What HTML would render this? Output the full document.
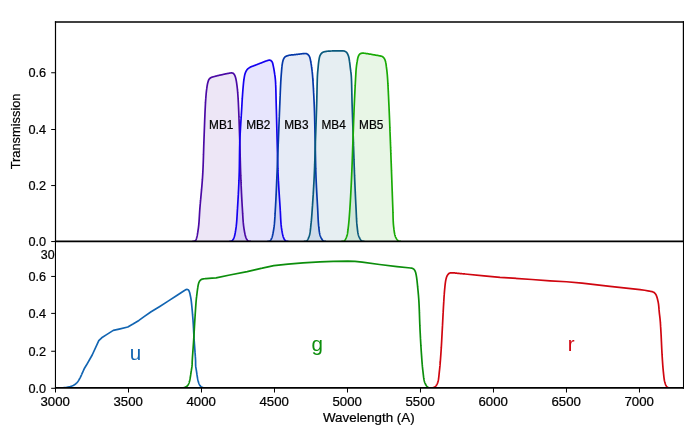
<!DOCTYPE html><html><head><meta charset="utf-8"><style>html,body{margin:0;padding:0;background:#fff}svg{display:block}</style></head><body><svg width="690" height="431" viewBox="0 0 690 431" font-family="Liberation Sans, sans-serif">
<rect width="690" height="431" fill="#fff"/>
<g style="will-change:transform">
<clipPath id="ct"><rect x="55.50" y="21.90" width="627.90" height="219.40"/></clipPath>
<g clip-path="url(#ct)">
<path d="M192.35 241.30L192.76 241.30L193.17 241.30L193.59 241.30L193.98 241.30L194.35 241.30L194.71 241.25L195.05 240.99L195.36 240.66L195.66 240.25L195.95 239.75L196.06 239.53L196.17 239.29L196.27 239.02L196.37 238.74L196.47 238.45L196.57 238.13L196.66 237.81L196.76 237.46L196.85 237.10L196.94 236.73L197.02 236.35L197.11 235.96L197.19 235.55L197.28 235.14L197.36 234.72L197.43 234.28L197.51 233.85L197.59 233.40L197.66 232.95L197.74 232.50L197.81 232.04L197.88 231.58L197.95 231.12L198.02 230.65L198.09 230.19L198.15 229.73L198.22 229.27L198.28 228.81L198.35 228.35L198.40 228.01L198.44 227.67L198.49 227.32L198.53 226.97L198.57 226.62L198.61 226.26L198.65 225.90L198.69 225.54L198.73 225.18L198.77 224.81L198.80 224.45L198.83 224.07L198.87 223.70L198.90 223.32L198.93 222.95L198.96 222.56L198.99 222.18L199.02 221.79L199.05 221.41L199.08 221.02L199.10 220.62L199.13 220.23L199.16 219.83L199.18 219.43L199.21 219.03L199.23 218.63L199.26 218.22L199.28 217.81L199.31 217.40L199.33 216.99L199.36 216.58L199.38 216.16L199.41 215.75L199.43 215.33L199.46 214.91L199.48 214.49L199.51 214.06L199.53 213.64L199.56 213.21L199.58 212.78L199.61 212.35L199.64 211.92L199.67 211.49L199.69 211.06L199.72 210.62L199.75 210.19L199.78 209.75L199.82 209.31L199.85 208.87L199.88 208.43L199.91 207.99L199.95 207.55L199.98 207.19L200.01 206.83L200.04 206.47L200.07 206.11L200.10 205.74L200.13 205.37L200.16 205.01L200.19 204.63L200.23 204.26L200.26 203.89L200.29 203.51L200.33 203.14L200.36 202.76L200.39 202.38L200.43 202.00L200.46 201.61L200.50 201.23L200.53 200.84L200.57 200.46L200.60 200.07L200.64 199.68L200.67 199.29L200.71 198.89L200.75 198.50L200.78 198.11L200.82 197.71L200.86 197.31L200.89 196.92L200.93 196.52L200.97 196.12L201.00 195.72L201.04 195.31L201.08 194.91L201.12 194.51L201.15 194.10L201.19 193.70L201.23 193.29L201.26 192.89L201.30 192.48L201.34 192.07L201.38 191.66L201.41 191.25L201.45 190.84L201.49 190.43L201.52 190.02L201.56 189.61L201.60 189.20L201.63 188.79L201.67 188.37L201.71 187.96L201.74 187.55L201.78 187.13L201.81 186.72L201.85 186.30L201.88 185.89L201.92 185.47L201.95 185.06L201.99 184.65L202.02 184.23L202.06 183.81L202.09 183.40L202.12 182.98L202.16 182.57L202.19 182.15L202.22 181.74L202.25 181.32L202.28 180.91L202.31 180.50L202.35 180.08L202.38 179.67L202.40 179.25L202.43 178.84L202.46 178.43L202.49 178.02L202.52 177.60L202.55 177.19L202.57 176.78L202.60 176.37L202.62 175.96L202.65 175.55L202.67 175.16L202.70 174.76L202.72 174.37L202.74 173.97L202.76 173.58L202.79 173.18L202.81 172.78L202.83 172.38L202.85 171.99L202.87 171.59L202.89 171.19L202.91 170.79L202.93 170.39L202.95 169.99L202.97 169.58L202.98 169.18L203.00 168.78L203.02 168.38L203.04 167.97L203.06 167.57L203.07 167.17L203.09 166.76L203.11 166.36L203.12 165.95L203.14 165.55L203.15 165.14L203.17 164.74L203.18 164.33L203.20 163.92L203.21 163.52L203.23 163.11L203.24 162.70L203.26 162.30L203.27 161.89L203.29 161.48L203.30 161.08L203.31 160.67L203.33 160.26L203.34 159.85L203.35 159.45L203.37 159.04L203.38 158.63L203.39 158.22L203.41 157.81L203.42 157.41L203.43 157.00L203.44 156.59L203.46 156.18L203.47 155.78L203.48 155.37L203.49 154.96L203.50 154.56L203.52 154.15L203.53 153.74L203.54 153.34L203.55 152.93L203.56 152.52L203.58 152.12L203.59 151.71L203.60 151.31L203.61 150.90L203.62 150.50L203.64 150.10L203.65 149.69L203.66 149.29L203.67 148.89L203.68 148.48L203.70 148.08L203.71 147.68L203.72 147.28L203.73 146.88L203.75 146.48L203.76 146.08L203.77 145.68L203.78 145.28L203.80 144.88L203.81 144.49L203.82 144.09L203.84 143.69L203.85 143.30L203.86 142.90L203.88 142.51L203.89 142.12L203.91 141.72L203.92 141.33L203.94 140.94L203.95 140.55L203.97 140.13L203.98 139.72L204.00 139.30L204.01 138.88L204.03 138.46L204.04 138.03L204.06 137.61L204.08 137.18L204.09 136.75L204.11 136.33L204.12 135.90L204.14 135.47L204.16 135.04L204.17 134.60L204.19 134.17L204.20 133.74L204.22 133.31L204.23 132.87L204.25 132.44L204.27 132.00L204.28 131.57L204.30 131.13L204.31 130.70L204.33 130.27L204.34 129.83L204.36 129.40L204.38 128.96L204.39 128.53L204.41 128.10L204.42 127.67L204.44 127.23L204.46 126.80L204.47 126.37L204.49 125.95L204.50 125.52L204.52 125.09L204.53 124.67L204.55 124.24L204.57 123.82L204.58 123.40L204.60 122.98L204.61 122.56L204.63 122.14L204.64 121.73L204.66 121.31L204.67 120.90L204.69 120.49L204.71 120.08L204.72 119.68L204.74 119.28L204.75 118.88L204.77 118.48L204.78 118.08L204.80 117.69L204.81 117.30L204.83 116.91L204.85 116.53L204.86 116.14L204.88 115.77L204.89 115.39L204.91 115.02L204.92 114.65L204.94 114.28L204.95 113.92L204.97 113.56L204.98 113.20L205.00 112.85L205.01 112.50L205.03 112.16L205.04 111.82L205.06 111.48L205.07 111.15L205.09 110.82L205.10 110.50L205.12 110.18L205.14 109.86L205.15 109.55L205.17 109.06L205.20 108.58L205.22 108.11L205.24 107.65L205.27 107.20L205.29 106.76L205.31 106.32L205.33 105.89L205.35 105.47L205.38 105.05L205.40 104.64L205.42 104.24L205.44 103.84L205.46 103.45L205.48 103.06L205.51 102.67L205.53 102.29L205.55 101.92L205.57 101.54L205.60 101.17L205.62 100.81L205.64 100.44L205.67 100.08L205.69 99.71L205.72 99.35L205.74 98.99L205.77 98.63L205.79 98.27L205.82 97.91L205.85 97.55L205.88 97.10L205.92 96.66L205.95 96.23L205.99 95.79L206.03 95.37L206.06 94.94L206.10 94.52L206.13 94.11L206.17 93.70L206.21 93.29L206.25 92.89L206.29 92.48L206.33 92.08L206.37 91.69L206.41 91.29L206.46 90.90L206.50 90.51L206.55 90.12L206.60 89.74L206.65 89.35L206.71 88.92L206.76 88.49L206.82 88.05L206.88 87.62L206.94 87.20L207.00 86.77L207.06 86.35L207.13 85.93L207.19 85.52L207.26 85.11L207.34 84.71L207.41 84.32L207.49 83.94L207.57 83.56L207.66 83.20L207.75 82.85L207.88 82.38L208.01 81.91L208.14 81.46L208.27 81.02L208.42 80.60L208.58 80.20L208.75 79.82L208.94 79.47L209.15 79.15L209.43 78.80L209.73 78.50L210.05 78.23L210.40 77.99L210.76 77.76L211.15 77.55L211.49 77.38L211.85 77.24L212.21 77.12L212.59 77.01L213.00 76.90L213.42 76.79L213.87 76.68L214.35 76.55L214.66 76.47L214.99 76.38L215.33 76.29L215.69 76.19L216.06 76.10L216.44 76.00L216.84 75.90L217.24 75.80L217.65 75.70L218.06 75.60L218.48 75.50L218.90 75.39L219.33 75.29L219.75 75.19L220.17 75.10L220.58 75.00L220.99 74.90L221.40 74.81L221.79 74.72L222.18 74.63L222.55 74.55L222.98 74.46L223.40 74.36L223.83 74.27L224.26 74.17L224.69 74.08L225.11 73.99L225.54 73.90L225.95 73.81L226.36 73.72L226.76 73.64L227.16 73.57L227.54 73.49L227.91 73.42L228.27 73.36L228.62 73.30L228.95 73.25L229.43 73.17L229.89 73.10L230.32 73.03L230.73 72.97L231.12 72.93L231.49 72.92L231.85 72.95L232.30 73.03L232.71 73.15L233.10 73.32L233.45 73.55L233.80 73.86L234.10 74.23L234.38 74.67L234.65 75.15L234.81 75.47L234.96 75.81L235.10 76.17L235.23 76.55L235.36 76.95L235.49 77.37L235.61 77.81L235.73 78.27L235.85 78.75L235.93 79.08L236.01 79.43L236.08 79.78L236.15 80.15L236.23 80.53L236.30 80.92L236.37 81.32L236.43 81.73L236.50 82.15L236.57 82.57L236.63 82.99L236.69 83.43L236.75 83.86L236.81 84.30L236.87 84.74L236.93 85.19L236.99 85.63L237.04 86.07L237.10 86.51L237.15 86.95L237.20 87.33L237.24 87.72L237.28 88.11L237.33 88.50L237.37 88.89L237.41 89.29L237.44 89.69L237.48 90.09L237.52 90.49L237.56 90.89L237.59 91.30L237.62 91.71L237.66 92.12L237.69 92.53L237.72 92.95L237.76 93.36L237.79 93.78L237.82 94.19L237.85 94.61L237.88 95.03L237.91 95.45L237.94 95.87L237.96 96.29L237.99 96.71L238.02 97.13L238.05 97.55L238.08 97.94L238.10 98.32L238.12 98.69L238.15 99.07L238.17 99.44L238.19 99.81L238.21 100.18L238.23 100.55L238.25 100.92L238.27 101.29L238.29 101.66L238.31 102.03L238.33 102.40L238.35 102.77L238.37 103.15L238.39 103.53L238.41 103.92L238.42 104.31L238.44 104.71L238.46 105.11L238.48 105.51L238.49 105.93L238.51 106.35L238.53 106.78L238.55 107.22L238.57 107.66L238.59 108.12L238.61 108.59L238.63 109.06L238.65 109.55L238.66 109.86L238.68 110.18L238.69 110.50L238.70 110.82L238.72 111.15L238.73 111.48L238.74 111.82L238.76 112.16L238.77 112.50L238.79 112.85L238.80 113.20L238.81 113.56L238.83 113.92L238.84 114.28L238.86 114.65L238.87 115.02L238.88 115.39L238.90 115.77L238.91 116.14L238.93 116.53L238.94 116.91L238.96 117.30L238.97 117.69L238.99 118.08L239.00 118.48L239.01 118.88L239.03 119.28L239.04 119.68L239.06 120.08L239.07 120.49L239.09 120.90L239.10 121.31L239.12 121.73L239.13 122.14L239.15 122.56L239.16 122.98L239.18 123.40L239.19 123.82L239.21 124.24L239.22 124.67L239.24 125.09L239.25 125.52L239.27 125.95L239.28 126.37L239.30 126.80L239.31 127.23L239.32 127.67L239.34 128.10L239.35 128.53L239.37 128.96L239.38 129.40L239.40 129.83L239.41 130.27L239.43 130.70L239.44 131.13L239.46 131.57L239.47 132.00L239.49 132.44L239.50 132.87L239.51 133.31L239.53 133.74L239.54 134.17L239.56 134.60L239.57 135.04L239.59 135.47L239.60 135.90L239.61 136.33L239.63 136.75L239.64 137.18L239.66 137.61L239.67 138.03L239.68 138.46L239.70 138.88L239.71 139.30L239.72 139.72L239.74 140.13L239.75 140.55L239.76 140.94L239.77 141.33L239.79 141.72L239.80 142.12L239.81 142.51L239.82 142.90L239.83 143.30L239.85 143.69L239.86 144.09L239.87 144.49L239.88 144.88L239.89 145.28L239.90 145.68L239.91 146.08L239.92 146.48L239.94 146.88L239.95 147.28L239.96 147.68L239.97 148.08L239.98 148.48L239.99 148.89L240.00 149.29L240.01 149.69L240.02 150.09L240.03 150.50L240.04 150.90L240.05 151.31L240.06 151.71L240.07 152.12L240.08 152.52L240.09 152.93L240.10 153.33L240.11 153.74L240.12 154.15L240.13 154.55L240.14 154.96L240.15 155.37L240.16 155.77L240.17 156.18L240.19 156.59L240.20 157.00L240.21 157.40L240.22 157.81L240.23 158.22L240.24 158.63L240.25 159.04L240.26 159.44L240.27 159.85L240.28 160.26L240.29 160.67L240.30 161.07L240.31 161.48L240.32 161.89L240.33 162.29L240.34 162.70L240.35 163.11L240.37 163.52L240.38 163.92L240.39 164.33L240.40 164.73L240.41 165.14L240.42 165.55L240.43 165.95L240.44 166.36L240.46 166.76L240.47 167.16L240.48 167.57L240.49 167.97L240.50 168.38L240.52 168.78L240.53 169.18L240.54 169.58L240.56 169.98L240.57 170.39L240.58 170.79L240.59 171.19L240.61 171.59L240.62 171.98L240.63 172.38L240.65 172.78L240.66 173.18L240.68 173.58L240.69 173.97L240.71 174.37L240.72 174.76L240.73 175.16L240.75 175.55L240.77 175.96L240.78 176.37L240.80 176.78L240.81 177.19L240.83 177.60L240.85 178.01L240.86 178.43L240.88 178.84L240.90 179.25L240.91 179.67L240.93 180.08L240.95 180.49L240.96 180.91L240.98 181.32L241.00 181.74L241.01 182.15L241.03 182.57L241.05 182.98L241.07 183.40L241.08 183.81L241.10 184.23L241.12 184.64L241.14 185.06L241.16 185.47L241.17 185.89L241.19 186.30L241.21 186.72L241.23 187.13L241.25 187.55L241.26 187.96L241.28 188.37L241.30 188.78L241.32 189.20L241.34 189.61L241.36 190.02L241.38 190.43L241.40 190.84L241.42 191.25L241.44 191.66L241.45 192.07L241.47 192.48L241.49 192.89L241.51 193.29L241.53 193.70L241.55 194.10L241.57 194.51L241.59 194.91L241.61 195.32L241.63 195.72L241.65 196.12L241.67 196.52L241.69 196.92L241.71 197.31L241.74 197.71L241.76 198.11L241.78 198.50L241.80 198.90L241.82 199.29L241.84 199.68L241.86 200.07L241.88 200.46L241.90 200.84L241.92 201.23L241.95 201.61L241.97 202.00L241.99 202.38L242.01 202.76L242.03 203.14L242.05 203.51L242.08 203.89L242.10 204.26L242.12 204.64L242.14 205.01L242.16 205.37L242.19 205.74L242.21 206.11L242.23 206.47L242.25 206.83L242.28 207.19L242.30 207.55L242.33 207.99L242.36 208.43L242.38 208.88L242.41 209.32L242.44 209.76L242.46 210.20L242.49 210.63L242.51 211.07L242.54 211.51L242.56 211.94L242.59 212.37L242.61 212.81L242.64 213.24L242.66 213.67L242.69 214.09L242.71 214.52L242.74 214.95L242.76 215.37L242.79 215.79L242.81 216.21L242.84 216.63L242.86 217.04L242.89 217.46L242.91 217.87L242.94 218.28L242.97 218.69L243.00 219.09L243.02 219.50L243.05 219.90L243.08 220.30L243.11 220.69L243.14 221.09L243.17 221.48L243.21 221.87L243.24 222.25L243.27 222.64L243.31 223.02L243.34 223.39L243.38 223.77L243.42 224.14L243.45 224.51L243.49 224.88L243.53 225.24L243.57 225.60L243.62 225.95L243.66 226.31L243.71 226.66L243.75 227.00L243.80 227.34L243.85 227.68L243.90 228.02L243.95 228.35L244.03 228.82L244.10 229.29L244.18 229.76L244.25 230.23L244.33 230.70L244.41 231.16L244.49 231.62L244.57 232.07L244.65 232.52L244.73 232.96L244.82 233.40L244.91 233.83L245.00 234.25L245.09 234.66L245.19 235.07L245.28 235.46L245.38 235.85L245.49 236.22L245.60 236.59L245.71 236.94L245.82 237.27L245.94 237.60L246.06 237.91L246.19 238.20L246.32 238.49L246.45 238.75L246.71 239.21L246.99 239.63L247.28 240.02L247.58 240.36L247.89 240.67L248.21 240.94L248.53 241.16L248.85 241.30L249.26 241.30L249.67 241.30L250.10 241.30L250.53 241.30L250.95 241.30Z" fill="#4b0aa5" fill-opacity="0.1" stroke="none"/>
<path d="M229.35 241.30L229.80 241.30L230.25 241.30L230.70 241.30L231.15 241.30L231.46 241.17L231.78 240.94L232.09 240.68L232.40 240.37L232.71 240.02L233.01 239.64L233.29 239.21L233.55 238.75L233.68 238.49L233.81 238.20L233.93 237.91L234.05 237.60L234.17 237.27L234.28 236.94L234.39 236.59L234.49 236.22L234.59 235.85L234.68 235.46L234.78 235.07L234.87 234.66L234.96 234.25L235.04 233.83L235.12 233.40L235.21 232.96L235.28 232.52L235.36 232.07L235.44 231.62L235.51 231.16L235.59 230.70L235.66 230.23L235.73 229.76L235.81 229.29L235.88 228.82L235.95 228.35L236.00 228.02L236.05 227.68L236.10 227.34L236.14 227.00L236.19 226.66L236.23 226.31L236.27 225.95L236.31 225.60L236.35 225.24L236.39 224.87L236.43 224.51L236.46 224.14L236.50 223.77L236.54 223.39L236.57 223.02L236.60 222.64L236.63 222.25L236.67 221.87L236.70 221.48L236.73 221.09L236.76 220.69L236.79 220.30L236.81 219.90L236.84 219.50L236.87 219.09L236.90 218.69L236.92 218.28L236.95 217.87L236.97 217.46L237.00 217.04L237.02 216.63L237.05 216.21L237.07 215.79L237.10 215.37L237.12 214.94L237.15 214.52L237.17 214.09L237.19 213.67L237.22 213.24L237.24 212.81L237.27 212.37L237.29 211.94L237.31 211.51L237.34 211.07L237.36 210.63L237.39 210.20L237.42 209.76L237.44 209.32L237.47 208.88L237.49 208.43L237.52 207.99L237.55 207.55L237.57 207.19L237.60 206.83L237.62 206.47L237.64 206.11L237.66 205.74L237.69 205.37L237.71 205.01L237.73 204.64L237.75 204.26L237.78 203.89L237.80 203.51L237.82 203.14L237.84 202.76L237.87 202.38L237.89 202.00L237.91 201.61L237.93 201.23L237.96 200.84L237.98 200.46L238.00 200.07L238.02 199.68L238.05 199.29L238.07 198.90L238.09 198.50L238.11 198.11L238.13 197.71L238.16 197.31L238.18 196.92L238.20 196.52L238.22 196.12L238.24 195.72L238.26 195.32L238.29 194.91L238.31 194.51L238.33 194.10L238.35 193.70L238.37 193.29L238.39 192.89L238.41 192.48L238.43 192.07L238.45 191.66L238.47 191.25L238.50 190.84L238.52 190.43L238.54 190.02L238.56 189.61L238.58 189.20L238.60 188.79L238.62 188.37L238.64 187.96L238.65 187.55L238.67 187.13L238.69 186.72L238.71 186.30L238.73 185.89L238.75 185.47L238.77 185.06L238.79 184.64L238.81 184.23L238.82 183.81L238.84 183.40L238.86 182.98L238.88 182.57L238.90 182.15L238.91 181.74L238.93 181.32L238.95 180.91L238.96 180.49L238.98 180.08L239.00 179.67L239.01 179.25L239.03 178.84L239.04 178.43L239.06 178.01L239.08 177.60L239.09 177.19L239.11 176.78L239.12 176.37L239.14 175.96L239.15 175.55L239.16 175.16L239.18 174.76L239.19 174.37L239.20 173.97L239.21 173.58L239.23 173.18L239.24 172.78L239.25 172.38L239.26 171.98L239.27 171.59L239.28 171.19L239.29 170.79L239.30 170.39L239.31 169.98L239.31 169.58L239.32 169.18L239.33 168.78L239.34 168.38L239.35 167.97L239.35 167.57L239.36 167.16L239.37 166.76L239.37 166.36L239.38 165.95L239.39 165.55L239.39 165.14L239.40 164.73L239.41 164.33L239.41 163.92L239.42 163.51L239.42 163.11L239.43 162.70L239.43 162.29L239.44 161.89L239.44 161.48L239.45 161.07L239.45 160.66L239.46 160.26L239.46 159.85L239.47 159.44L239.47 159.03L239.48 158.63L239.48 158.22L239.49 157.81L239.49 157.40L239.50 157.00L239.50 156.59L239.51 156.18L239.51 155.77L239.52 155.37L239.52 154.96L239.53 154.55L239.53 154.15L239.54 153.74L239.54 153.33L239.55 152.93L239.56 152.52L239.56 152.12L239.57 151.71L239.57 151.31L239.58 150.90L239.59 150.50L239.59 150.09L239.60 149.69L239.61 149.29L239.62 148.88L239.62 148.48L239.63 148.08L239.64 147.68L239.65 147.28L239.66 146.88L239.67 146.48L239.68 146.08L239.69 145.68L239.70 145.28L239.71 144.88L239.72 144.49L239.73 144.09L239.74 143.69L239.75 143.30L239.77 142.90L239.78 142.51L239.79 142.12L239.81 141.72L239.82 141.33L239.84 140.94L239.85 140.55L239.87 140.13L239.88 139.72L239.90 139.30L239.92 138.88L239.94 138.45L239.96 138.03L239.98 137.61L239.99 137.18L240.01 136.75L240.04 136.32L240.06 135.90L240.08 135.47L240.10 135.03L240.12 134.60L240.14 134.17L240.17 133.74L240.19 133.30L240.21 132.87L240.24 132.44L240.26 132.00L240.28 131.57L240.31 131.13L240.33 130.70L240.36 130.26L240.38 129.83L240.41 129.40L240.43 128.96L240.46 128.53L240.48 128.10L240.51 127.66L240.54 127.23L240.56 126.80L240.59 126.37L240.61 125.94L240.64 125.52L240.67 125.09L240.69 124.66L240.72 124.24L240.75 123.82L240.77 123.40L240.80 122.98L240.83 122.56L240.85 122.14L240.88 121.73L240.91 121.31L240.93 120.90L240.96 120.49L240.98 120.08L241.01 119.68L241.04 119.28L241.06 118.88L241.09 118.48L241.11 118.08L241.14 117.69L241.16 117.30L241.19 116.91L241.21 116.53L241.24 116.14L241.26 115.77L241.29 115.39L241.31 115.02L241.33 114.65L241.36 114.28L241.38 113.92L241.40 113.56L241.43 113.20L241.45 112.85L241.47 112.50L241.49 112.16L241.51 111.82L241.53 111.48L241.55 111.15L241.57 110.82L241.59 110.50L241.61 110.18L241.63 109.86L241.65 109.55L241.68 109.06L241.71 108.59L241.73 108.12L241.76 107.66L241.78 107.22L241.81 106.78L241.83 106.35L241.86 105.93L241.88 105.52L241.90 105.11L241.92 104.71L241.95 104.31L241.97 103.92L241.99 103.54L242.01 103.15L242.03 102.78L242.05 102.40L242.07 102.03L242.10 101.66L242.12 101.29L242.14 100.92L242.16 100.55L242.18 100.18L242.21 99.81L242.23 99.44L242.25 99.07L242.28 98.69L242.30 98.32L242.32 97.94L242.35 97.55L242.38 97.13L242.41 96.71L242.43 96.29L242.46 95.87L242.49 95.45L242.52 95.03L242.55 94.61L242.58 94.19L242.61 93.78L242.64 93.36L242.67 92.95L242.70 92.53L242.73 92.12L242.76 91.71L242.79 91.30L242.82 90.90L242.85 90.49L242.88 90.09L242.91 89.69L242.95 89.29L242.98 88.89L243.01 88.50L243.05 88.11L243.08 87.72L243.11 87.33L243.15 86.95L243.19 86.51L243.23 86.08L243.27 85.65L243.31 85.22L243.35 84.79L243.39 84.36L243.43 83.94L243.47 83.52L243.51 83.10L243.55 82.68L243.59 82.27L243.64 81.86L243.68 81.46L243.73 81.06L243.78 80.66L243.83 80.27L243.88 79.88L243.94 79.50L243.99 79.12L244.05 78.75L244.12 78.31L244.19 77.88L244.26 77.45L244.33 77.03L244.40 76.61L244.47 76.20L244.55 75.79L244.63 75.39L244.71 75.00L244.81 74.62L244.90 74.24L245.01 73.87L245.13 73.50L245.25 73.15L245.41 72.73L245.57 72.32L245.75 71.92L245.93 71.53L246.12 71.15L246.32 70.78L246.54 70.43L246.76 70.09L247.00 69.76L247.25 69.45L247.52 69.15L247.81 68.87L248.11 68.60L248.43 68.35L248.76 68.11L249.09 67.89L249.44 67.67L249.79 67.46L250.15 67.25L250.51 67.06L250.89 66.88L251.28 66.71L251.68 66.55L252.09 66.40L252.50 66.25L252.92 66.10L253.33 65.96L253.74 65.81L254.15 65.65L254.52 65.51L254.87 65.36L255.23 65.23L255.58 65.09L255.93 64.95L256.29 64.81L256.65 64.67L257.03 64.52L257.42 64.37L257.82 64.21L258.25 64.05L258.58 63.92L258.93 63.78L259.30 63.64L259.68 63.49L260.08 63.33L260.48 63.17L260.90 63.01L261.32 62.84L261.74 62.68L262.17 62.51L262.59 62.34L263.01 62.18L263.43 62.02L263.84 61.86L264.25 61.71L264.64 61.56L265.02 61.42L265.38 61.29L265.72 61.16L266.05 61.05L266.35 60.95L266.84 60.78L267.30 60.62L267.73 60.47L268.14 60.35L268.52 60.24L268.89 60.18L269.25 60.15L269.69 60.17L270.10 60.24L270.49 60.36L270.85 60.55L271.17 60.78L271.47 61.05L271.75 61.38L272.01 61.75L272.25 62.15L272.41 62.48L272.54 62.83L272.66 63.20L272.77 63.60L272.86 64.02L272.96 64.45L273.05 64.91L273.15 65.37L273.25 65.85L273.33 66.19L273.40 66.55L273.48 66.92L273.55 67.30L273.63 67.69L273.71 68.09L273.78 68.50L273.86 68.92L273.93 69.34L274.01 69.76L274.08 70.19L274.15 70.62L274.22 71.05L274.29 71.47L274.36 71.90L274.42 72.32L274.49 72.74L274.55 73.15L274.61 73.55L274.67 73.94L274.73 74.33L274.78 74.70L274.84 75.08L274.89 75.45L274.94 75.82L275.00 76.19L275.05 76.57L275.09 76.95L275.14 77.35L275.19 77.75L275.23 78.17L275.28 78.61L275.32 79.06L275.37 79.53L275.41 80.03L275.45 80.55L275.47 80.84L275.49 81.13L275.51 81.43L275.53 81.74L275.55 82.05L275.57 82.37L275.59 82.69L275.61 83.02L275.62 83.36L275.64 83.70L275.66 84.04L275.67 84.39L275.69 84.75L275.71 85.11L275.72 85.48L275.74 85.85L275.75 86.22L275.76 86.60L275.78 86.98L275.79 87.37L275.80 87.76L275.82 88.16L275.83 88.56L275.84 88.96L275.85 89.36L275.86 89.77L275.88 90.18L275.89 90.60L275.90 91.02L275.91 91.44L275.92 91.86L275.93 92.29L275.94 92.72L275.95 93.15L275.96 93.58L275.97 94.01L275.98 94.45L275.99 94.89L276.00 95.33L276.01 95.77L276.02 96.21L276.03 96.65L276.04 97.10L276.05 97.54L276.06 97.99L276.07 98.43L276.08 98.88L276.09 99.33L276.10 99.78L276.11 100.22L276.12 100.67L276.13 101.12L276.15 101.56L276.16 102.01L276.17 102.46L276.18 102.90L276.19 103.35L276.20 103.79L276.21 104.23L276.23 104.67L276.24 105.11L276.25 105.55L276.26 105.92L276.27 106.29L276.28 106.66L276.29 107.04L276.30 107.41L276.31 107.79L276.32 108.17L276.33 108.55L276.34 108.93L276.36 109.31L276.37 109.69L276.38 110.08L276.39 110.46L276.40 110.85L276.41 111.24L276.42 111.63L276.43 112.02L276.44 112.41L276.45 112.80L276.46 113.20L276.47 113.59L276.48 113.99L276.49 114.38L276.50 114.78L276.51 115.18L276.52 115.58L276.53 115.98L276.54 116.38L276.55 116.78L276.56 117.18L276.57 117.59L276.58 117.99L276.59 118.40L276.60 118.80L276.61 119.21L276.62 119.61L276.63 120.02L276.64 120.43L276.65 120.84L276.66 121.25L276.67 121.66L276.68 122.07L276.69 122.48L276.70 122.89L276.71 123.30L276.72 123.71L276.73 124.12L276.74 124.53L276.75 124.95L276.76 125.36L276.77 125.77L276.78 126.19L276.79 126.60L276.80 127.01L276.81 127.43L276.82 127.84L276.83 128.25L276.84 128.67L276.85 129.08L276.86 129.49L276.88 129.91L276.89 130.32L276.90 130.73L276.91 131.15L276.92 131.56L276.93 131.97L276.94 132.38L276.95 132.80L276.96 133.21L276.97 133.62L276.98 134.03L276.99 134.44L277.00 134.85L277.01 135.26L277.02 135.67L277.03 136.08L277.04 136.49L277.05 136.90L277.06 137.31L277.07 137.72L277.09 138.12L277.10 138.53L277.11 138.93L277.12 139.34L277.13 139.74L277.14 140.15L277.15 140.55L277.16 140.95L277.17 141.36L277.18 141.76L277.19 142.16L277.20 142.56L277.21 142.97L277.22 143.37L277.23 143.77L277.24 144.18L277.25 144.58L277.26 144.99L277.27 145.39L277.28 145.80L277.29 146.20L277.30 146.60L277.31 147.01L277.32 147.41L277.33 147.82L277.34 148.22L277.35 148.63L277.36 149.03L277.37 149.44L277.38 149.84L277.39 150.25L277.40 150.65L277.41 151.06L277.42 151.47L277.43 151.87L277.44 152.28L277.45 152.68L277.46 153.09L277.47 153.49L277.47 153.90L277.48 154.30L277.49 154.71L277.50 155.11L277.51 155.52L277.52 155.92L277.53 156.33L277.54 156.73L277.55 157.14L277.56 157.54L277.57 157.95L277.58 158.35L277.59 158.76L277.60 159.16L277.61 159.56L277.62 159.97L277.63 160.37L277.65 160.78L277.66 161.18L277.67 161.58L277.68 161.99L277.69 162.39L277.70 162.79L277.71 163.20L277.72 163.60L277.73 164.00L277.75 164.40L277.76 164.81L277.77 165.21L277.78 165.61L277.79 166.01L277.81 166.41L277.82 166.81L277.83 167.21L277.85 167.61L277.86 168.01L277.87 168.41L277.89 168.81L277.90 169.21L277.91 169.61L277.93 170.01L277.94 170.41L277.96 170.80L277.97 171.20L277.99 171.60L278.00 172.00L278.02 172.39L278.03 172.79L278.05 173.18L278.07 173.58L278.08 173.97L278.10 174.37L278.12 174.76L278.13 175.16L278.15 175.55L278.17 175.96L278.19 176.37L278.21 176.78L278.23 177.19L278.25 177.60L278.27 178.01L278.29 178.43L278.31 178.84L278.33 179.25L278.35 179.67L278.37 180.08L278.39 180.49L278.41 180.91L278.44 181.32L278.46 181.74L278.48 182.15L278.50 182.57L278.53 182.98L278.55 183.40L278.57 183.81L278.60 184.23L278.62 184.64L278.64 185.06L278.67 185.47L278.69 185.89L278.72 186.30L278.74 186.72L278.77 187.13L278.79 187.55L278.82 187.96L278.84 188.37L278.87 188.78L278.89 189.20L278.92 189.61L278.94 190.02L278.97 190.43L279.00 190.84L279.02 191.25L279.05 191.66L279.07 192.07L279.10 192.48L279.13 192.89L279.15 193.29L279.18 193.70L279.21 194.10L279.23 194.51L279.26 194.91L279.29 195.31L279.31 195.72L279.34 196.12L279.36 196.52L279.39 196.92L279.42 197.31L279.44 197.71L279.47 198.11L279.50 198.50L279.52 198.89L279.55 199.29L279.58 199.68L279.60 200.07L279.63 200.46L279.65 200.84L279.68 201.23L279.71 201.61L279.73 202.00L279.76 202.38L279.78 202.76L279.81 203.14L279.83 203.51L279.86 203.89L279.88 204.26L279.91 204.63L279.93 205.01L279.96 205.37L279.98 205.74L280.01 206.11L280.03 206.47L280.05 206.83L280.08 207.19L280.10 207.55L280.13 207.99L280.16 208.43L280.18 208.88L280.21 209.32L280.23 209.76L280.26 210.19L280.28 210.63L280.31 211.07L280.33 211.51L280.35 211.94L280.37 212.37L280.39 212.81L280.41 213.24L280.44 213.67L280.46 214.09L280.48 214.52L280.50 214.94L280.52 215.37L280.54 215.79L280.56 216.21L280.58 216.63L280.60 217.04L280.62 217.46L280.64 217.87L280.66 218.28L280.68 218.69L280.71 219.09L280.73 219.50L280.75 219.90L280.77 220.30L280.80 220.69L280.82 221.09L280.85 221.48L280.88 221.87L280.90 222.25L280.93 222.64L280.96 223.02L280.99 223.39L281.02 223.77L281.06 224.14L281.09 224.51L281.12 224.88L281.16 225.24L281.20 225.60L281.24 225.95L281.28 226.31L281.32 226.66L281.36 227.00L281.41 227.34L281.45 227.68L281.50 228.02L281.55 228.35L281.62 228.82L281.70 229.29L281.77 229.76L281.85 230.23L281.92 230.70L282.00 231.16L282.08 231.62L282.16 232.07L282.24 232.52L282.33 232.96L282.41 233.40L282.50 233.83L282.59 234.25L282.68 234.66L282.78 235.07L282.88 235.46L282.98 235.85L283.08 236.22L283.19 236.59L283.30 236.94L283.42 237.27L283.54 237.60L283.66 237.91L283.78 238.20L283.92 238.49L284.05 238.75L284.31 239.21L284.59 239.63L284.89 240.02L285.19 240.37L285.50 240.67L285.81 240.94L286.13 241.17L286.45 241.30L286.84 241.30L287.24 241.30L287.64 241.30L288.05 241.30L288.45 241.30Z" fill="#1400f0" fill-opacity="0.1" stroke="none"/>
<path d="M267.35 241.30L267.76 241.30L268.17 241.30L268.57 241.30L268.97 241.30L269.35 241.30L269.64 241.16L269.93 240.93L270.20 240.66L270.47 240.35L270.73 240.01L270.98 239.62L271.22 239.20L271.45 238.75L271.57 238.48L271.69 238.20L271.81 237.91L271.93 237.59L272.04 237.27L272.14 236.93L272.25 236.58L272.35 236.22L272.45 235.84L272.55 235.46L272.64 235.06L272.73 234.66L272.82 234.24L272.91 233.82L273.00 233.39L273.08 232.96L273.16 232.52L273.25 232.07L273.33 231.61L273.40 231.16L273.48 230.69L273.56 230.23L273.63 229.76L273.70 229.29L273.78 228.82L273.85 228.35L273.90 228.02L273.95 227.68L274.00 227.34L274.04 227.00L274.09 226.66L274.13 226.31L274.17 225.95L274.21 225.60L274.25 225.24L274.29 224.87L274.33 224.51L274.37 224.14L274.40 223.77L274.44 223.39L274.47 223.02L274.50 222.64L274.54 222.25L274.57 221.87L274.60 221.48L274.63 221.09L274.66 220.69L274.69 220.30L274.72 219.90L274.75 219.50L274.77 219.09L274.80 218.69L274.83 218.28L274.85 217.87L274.88 217.46L274.90 217.04L274.93 216.63L274.95 216.21L274.98 215.79L275.00 215.37L275.03 214.94L275.05 214.52L275.07 214.09L275.10 213.67L275.12 213.24L275.15 212.81L275.17 212.37L275.19 211.94L275.22 211.51L275.24 211.07L275.27 210.63L275.29 210.20L275.32 209.76L275.34 209.32L275.37 208.88L275.40 208.43L275.42 207.99L275.45 207.55L275.47 207.19L275.49 206.83L275.52 206.47L275.54 206.11L275.56 205.74L275.58 205.37L275.60 205.01L275.62 204.64L275.64 204.26L275.66 203.89L275.68 203.51L275.71 203.14L275.73 202.76L275.75 202.38L275.77 202.00L275.79 201.61L275.81 201.23L275.83 200.84L275.85 200.46L275.87 200.07L275.89 199.68L275.91 199.29L275.92 198.90L275.94 198.50L275.96 198.11L275.98 197.71L276.00 197.31L276.02 196.92L276.04 196.52L276.06 196.12L276.08 195.72L276.10 195.32L276.11 194.91L276.13 194.51L276.15 194.10L276.17 193.70L276.19 193.29L276.21 192.89L276.23 192.48L276.24 192.07L276.26 191.66L276.28 191.25L276.30 190.84L276.32 190.43L276.33 190.02L276.35 189.61L276.37 189.20L276.39 188.78L276.40 188.37L276.42 187.96L276.44 187.54L276.46 187.13L276.48 186.72L276.49 186.30L276.51 185.89L276.53 185.47L276.55 185.06L276.56 184.64L276.58 184.23L276.60 183.81L276.62 183.40L276.63 182.98L276.65 182.57L276.67 182.15L276.69 181.74L276.70 181.32L276.72 180.91L276.74 180.49L276.76 180.08L276.77 179.67L276.79 179.25L276.81 178.84L276.83 178.43L276.84 178.01L276.86 177.60L276.88 177.19L276.90 176.78L276.91 176.37L276.93 175.96L276.95 175.55L276.97 175.16L276.98 174.76L277.00 174.37L277.02 173.97L277.03 173.58L277.05 173.18L277.07 172.79L277.09 172.39L277.10 171.99L277.12 171.60L277.14 171.20L277.15 170.80L277.17 170.41L277.19 170.01L277.20 169.61L277.22 169.21L277.23 168.81L277.25 168.41L277.27 168.01L277.28 167.61L277.30 167.21L277.32 166.81L277.33 166.41L277.35 166.01L277.36 165.61L277.38 165.21L277.40 164.80L277.41 164.40L277.43 164.00L277.45 163.60L277.46 163.19L277.48 162.79L277.49 162.39L277.51 161.99L277.53 161.58L277.54 161.18L277.56 160.78L277.57 160.37L277.59 159.97L277.61 159.56L277.62 159.16L277.64 158.76L277.65 158.35L277.67 157.95L277.68 157.54L277.70 157.14L277.72 156.73L277.73 156.33L277.75 155.92L277.76 155.52L277.78 155.11L277.80 154.71L277.81 154.30L277.83 153.90L277.84 153.49L277.86 153.09L277.87 152.68L277.89 152.27L277.91 151.87L277.92 151.46L277.94 151.06L277.95 150.65L277.97 150.25L277.98 149.84L278.00 149.44L278.02 149.03L278.03 148.63L278.05 148.22L278.06 147.82L278.08 147.41L278.09 147.01L278.11 146.60L278.13 146.20L278.14 145.79L278.16 145.39L278.17 144.99L278.19 144.58L278.21 144.18L278.22 143.77L278.24 143.37L278.25 142.97L278.27 142.56L278.29 142.16L278.30 141.76L278.32 141.36L278.33 140.95L278.35 140.55L278.37 140.15L278.38 139.74L278.40 139.34L278.41 138.93L278.43 138.53L278.45 138.12L278.46 137.72L278.48 137.31L278.50 136.90L278.51 136.49L278.53 136.08L278.54 135.67L278.56 135.26L278.58 134.85L278.59 134.44L278.61 134.03L278.63 133.62L278.64 133.21L278.66 132.80L278.67 132.38L278.69 131.97L278.71 131.56L278.72 131.15L278.74 130.73L278.76 130.32L278.77 129.91L278.79 129.49L278.80 129.08L278.82 128.67L278.84 128.25L278.85 127.84L278.87 127.43L278.89 127.01L278.90 126.60L278.92 126.19L278.93 125.77L278.95 125.36L278.97 124.95L278.98 124.53L279.00 124.12L279.02 123.71L279.03 123.30L279.05 122.89L279.06 122.48L279.08 122.07L279.10 121.66L279.11 121.25L279.13 120.84L279.15 120.43L279.16 120.02L279.18 119.61L279.19 119.21L279.21 118.80L279.23 118.40L279.24 117.99L279.26 117.59L279.28 117.18L279.29 116.78L279.31 116.38L279.32 115.98L279.34 115.58L279.36 115.18L279.37 114.78L279.39 114.38L279.40 113.99L279.42 113.59L279.44 113.20L279.45 112.80L279.47 112.41L279.48 112.02L279.50 111.63L279.51 111.24L279.53 110.85L279.55 110.46L279.56 110.08L279.58 109.69L279.59 109.31L279.61 108.93L279.63 108.55L279.64 108.17L279.66 107.79L279.67 107.41L279.69 107.04L279.70 106.66L279.72 106.29L279.73 105.92L279.75 105.55L279.77 105.11L279.79 104.67L279.80 104.23L279.82 103.79L279.84 103.35L279.86 102.91L279.88 102.46L279.90 102.02L279.91 101.58L279.93 101.13L279.95 100.69L279.97 100.24L279.99 99.80L280.00 99.35L280.02 98.91L280.04 98.46L280.06 98.02L280.08 97.58L280.09 97.14L280.11 96.70L280.13 96.26L280.15 95.82L280.17 95.38L280.18 94.94L280.20 94.51L280.22 94.08L280.24 93.64L280.26 93.21L280.27 92.79L280.29 92.36L280.31 91.94L280.33 91.52L280.34 91.10L280.36 90.68L280.38 90.27L280.40 89.86L280.42 89.45L280.43 89.05L280.45 88.64L280.47 88.25L280.49 87.85L280.50 87.46L280.52 87.07L280.54 86.69L280.56 86.31L280.57 85.93L280.59 85.56L280.61 85.19L280.63 84.83L280.64 84.47L280.66 84.12L280.68 83.77L280.69 83.42L280.71 83.08L280.73 82.74L280.75 82.41L280.76 82.09L280.78 81.77L280.80 81.46L280.82 81.15L280.83 80.85L280.85 80.55L280.88 80.04L280.91 79.55L280.94 79.08L280.97 78.62L281.00 78.18L281.03 77.76L281.05 77.35L281.08 76.95L281.11 76.55L281.14 76.17L281.17 75.79L281.20 75.41L281.23 75.04L281.26 74.66L281.29 74.29L281.32 73.91L281.35 73.53L281.38 73.15L281.42 72.75L281.45 72.35L281.48 71.94L281.52 71.53L281.55 71.11L281.58 70.69L281.62 70.27L281.65 69.85L281.68 69.43L281.72 69.01L281.75 68.58L281.79 68.17L281.82 67.75L281.86 67.34L281.90 66.93L281.94 66.52L281.99 66.13L282.03 65.73L282.08 65.35L282.14 64.97L282.19 64.61L282.25 64.25L282.33 63.79L282.41 63.34L282.49 62.89L282.57 62.45L282.66 62.02L282.75 61.60L282.85 61.19L282.95 60.79L283.06 60.41L283.18 60.04L283.31 59.69L283.45 59.35L283.64 58.94L283.83 58.55L284.03 58.19L284.24 57.85L284.48 57.53L284.75 57.23L285.05 56.95L285.34 56.72L285.65 56.52L285.98 56.33L286.34 56.15L286.71 55.99L287.10 55.85L287.50 55.71L287.92 55.58L288.35 55.45L288.68 55.36L289.03 55.28L289.39 55.22L289.76 55.16L290.14 55.10L290.53 55.05L290.92 55.01L291.33 54.97L291.74 54.93L292.16 54.90L292.58 54.86L293.01 54.82L293.44 54.79L293.87 54.75L294.31 54.70L294.75 54.65L295.13 54.60L295.54 54.55L295.96 54.50L296.39 54.45L296.84 54.39L297.29 54.33L297.76 54.28L298.23 54.22L298.70 54.16L299.17 54.10L299.64 54.04L300.11 53.98L300.57 53.93L301.02 53.87L301.46 53.82L301.88 53.77L302.29 53.73L302.68 53.69L303.05 53.65L303.39 53.62L303.70 53.59L303.99 53.57L304.25 53.55L304.88 53.50L305.36 53.48L305.85 53.55L306.27 53.66L306.71 53.82L307.14 54.03L307.57 54.27L307.95 54.55L308.26 54.84L308.56 55.15L308.83 55.50L309.09 55.89L309.33 56.30L309.55 56.75L309.69 57.08L309.82 57.43L309.94 57.80L310.04 58.19L310.15 58.60L310.24 59.02L310.33 59.44L310.41 59.88L310.50 60.32L310.58 60.77L310.66 61.21L310.75 61.65L310.82 62.03L310.90 62.41L310.97 62.80L311.03 63.20L311.10 63.60L311.16 64.00L311.23 64.40L311.29 64.81L311.35 65.22L311.41 65.64L311.47 66.05L311.53 66.47L311.58 66.89L311.64 67.31L311.69 67.73L311.75 68.15L311.80 68.54L311.85 68.92L311.90 69.30L311.95 69.66L311.99 70.03L312.04 70.39L312.08 70.76L312.12 71.13L312.17 71.51L312.21 71.89L312.25 72.29L312.29 72.69L312.33 73.12L312.38 73.56L312.42 74.02L312.46 74.51L312.51 75.01L312.55 75.55L312.57 75.82L312.59 76.09L312.62 76.38L312.64 76.66L312.66 76.96L312.68 77.26L312.71 77.57L312.73 77.88L312.75 78.20L312.78 78.52L312.80 78.85L312.82 79.18L312.85 79.52L312.87 79.87L312.90 80.22L312.92 80.57L312.94 80.93L312.97 81.30L312.99 81.67L313.02 82.04L313.04 82.42L313.06 82.80L313.09 83.18L313.11 83.57L313.14 83.97L313.16 84.36L313.19 84.76L313.21 85.17L313.24 85.57L313.26 85.98L313.29 86.40L313.31 86.81L313.33 87.23L313.36 87.65L313.38 88.07L313.41 88.50L313.43 88.93L313.46 89.36L313.48 89.79L313.50 90.22L313.53 90.66L313.55 91.09L313.58 91.53L313.60 91.97L313.62 92.41L313.65 92.85L313.67 93.30L313.69 93.74L313.72 94.18L313.74 94.63L313.76 95.07L313.79 95.52L313.81 95.96L313.83 96.41L313.85 96.86L313.88 97.30L313.90 97.75L313.92 98.19L313.94 98.63L313.96 99.08L313.98 99.52L314.00 99.96L314.02 100.40L314.04 100.84L314.06 101.28L314.08 101.71L314.10 102.15L314.12 102.58L314.14 103.01L314.16 103.44L314.18 103.87L314.20 104.29L314.22 104.71L314.23 105.13L314.25 105.55L314.27 105.94L314.28 106.32L314.30 106.71L314.31 107.10L314.33 107.49L314.34 107.88L314.36 108.27L314.37 108.67L314.38 109.06L314.40 109.45L314.41 109.84L314.42 110.24L314.44 110.63L314.45 111.03L314.46 111.42L314.48 111.82L314.49 112.22L314.50 112.61L314.51 113.01L314.53 113.41L314.54 113.81L314.55 114.21L314.56 114.61L314.57 115.01L314.58 115.41L314.59 115.81L314.60 116.21L314.62 116.61L314.63 117.02L314.64 117.42L314.65 117.82L314.66 118.22L314.67 118.63L314.68 119.03L314.69 119.44L314.70 119.84L314.71 120.24L314.72 120.65L314.73 121.05L314.73 121.46L314.74 121.87L314.75 122.27L314.76 122.68L314.77 123.08L314.78 123.49L314.79 123.90L314.80 124.30L314.81 124.71L314.82 125.12L314.82 125.52L314.83 125.93L314.84 126.34L314.85 126.75L314.86 127.15L314.87 127.56L314.88 127.97L314.88 128.38L314.89 128.78L314.90 129.19L314.91 129.60L314.92 130.01L314.93 130.41L314.94 130.82L314.94 131.23L314.95 131.63L314.96 132.04L314.97 132.45L314.98 132.86L314.99 133.26L315.00 133.67L315.00 134.08L315.01 134.48L315.02 134.89L315.03 135.29L315.04 135.70L315.05 136.11L315.06 136.51L315.07 136.92L315.07 137.32L315.08 137.73L315.09 138.13L315.10 138.53L315.11 138.94L315.12 139.34L315.13 139.74L315.14 140.15L315.15 140.55L315.16 140.95L315.17 141.35L315.18 141.76L315.19 142.16L315.20 142.56L315.21 142.97L315.21 143.37L315.22 143.77L315.23 144.18L315.24 144.58L315.25 144.99L315.26 145.39L315.27 145.79L315.27 146.20L315.28 146.60L315.29 147.01L315.30 147.41L315.31 147.82L315.31 148.22L315.32 148.63L315.33 149.03L315.34 149.44L315.34 149.84L315.35 150.25L315.36 150.65L315.37 151.06L315.37 151.46L315.38 151.87L315.39 152.28L315.40 152.68L315.40 153.09L315.41 153.49L315.42 153.90L315.43 154.30L315.43 154.71L315.44 155.11L315.45 155.52L315.46 155.92L315.46 156.33L315.47 156.73L315.48 157.14L315.49 157.54L315.49 157.95L315.50 158.35L315.51 158.76L315.52 159.16L315.52 159.56L315.53 159.97L315.54 160.37L315.55 160.78L315.56 161.18L315.57 161.58L315.57 161.99L315.58 162.39L315.59 162.79L315.60 163.20L315.61 163.60L315.62 164.00L315.63 164.40L315.64 164.80L315.64 165.21L315.65 165.61L315.66 166.01L315.67 166.41L315.68 166.81L315.69 167.21L315.70 167.61L315.71 168.01L315.72 168.41L315.74 168.81L315.75 169.21L315.76 169.61L315.77 170.01L315.78 170.41L315.79 170.80L315.80 171.20L315.82 171.60L315.83 172.00L315.84 172.39L315.85 172.79L315.87 173.18L315.88 173.58L315.89 173.97L315.91 174.37L315.92 174.76L315.94 175.16L315.95 175.55L315.97 175.96L315.98 176.37L316.00 176.78L316.01 177.19L316.03 177.60L316.05 178.02L316.06 178.43L316.08 178.85L316.10 179.26L316.12 179.68L316.13 180.09L316.15 180.51L316.17 180.92L316.19 181.34L316.21 181.76L316.23 182.17L316.25 182.59L316.27 183.01L316.29 183.43L316.31 183.84L316.33 184.26L316.35 184.68L316.37 185.10L316.39 185.51L316.41 185.93L316.43 186.35L316.45 186.76L316.47 187.18L316.49 187.60L316.51 188.01L316.54 188.43L316.56 188.84L316.58 189.26L316.60 189.67L316.62 190.09L316.64 190.50L316.67 190.91L316.69 191.33L316.71 191.74L316.73 192.15L316.75 192.56L316.78 192.97L316.80 193.38L316.82 193.78L316.84 194.19L316.87 194.60L316.89 195.00L316.91 195.41L316.93 195.81L316.96 196.21L316.98 196.61L317.00 197.01L317.02 197.41L317.05 197.80L317.07 198.20L317.09 198.59L317.11 198.99L317.14 199.38L317.16 199.77L317.18 200.16L317.20 200.54L317.22 200.93L317.25 201.31L317.27 201.69L317.29 202.07L317.31 202.45L317.33 202.83L317.35 203.20L317.38 203.58L317.40 203.95L317.42 204.32L317.44 204.69L317.46 205.05L317.48 205.41L317.50 205.78L317.52 206.14L317.54 206.49L317.56 206.85L317.58 207.20L317.60 207.55L317.62 208.00L317.65 208.45L317.67 208.90L317.70 209.34L317.72 209.79L317.74 210.23L317.76 210.67L317.78 211.11L317.80 211.55L317.82 211.98L317.84 212.42L317.86 212.85L317.88 213.28L317.90 213.71L317.92 214.13L317.94 214.56L317.96 214.98L317.98 215.40L317.99 215.82L318.01 216.23L318.03 216.65L318.05 217.06L318.07 217.47L318.09 217.87L318.11 218.28L318.13 218.68L318.15 219.08L318.17 219.47L318.20 219.86L318.22 220.25L318.24 220.64L318.26 221.03L318.29 221.41L318.31 221.79L318.34 222.16L318.36 222.53L318.39 222.90L318.42 223.27L318.45 223.63L318.48 223.99L318.51 224.35L318.54 224.70L318.57 225.05L318.60 225.40L318.64 225.74L318.67 226.08L318.71 226.42L318.75 226.75L318.80 227.22L318.86 227.68L318.91 228.14L318.96 228.59L319.01 229.04L319.06 229.48L319.11 229.91L319.16 230.34L319.21 230.76L319.27 231.18L319.32 231.59L319.38 232.00L319.44 232.40L319.51 232.79L319.58 233.18L319.65 233.56L319.73 233.93L319.81 234.30L319.90 234.66L320.00 235.01L320.10 235.35L320.21 235.69L320.33 236.03L320.45 236.35L320.63 236.77L320.82 237.20L321.02 237.62L321.23 238.03L321.45 238.44L321.68 238.83L321.92 239.20L322.16 239.56L322.40 239.90L322.65 240.21L322.90 240.49L323.15 240.75L323.40 240.97L323.65 241.15L324.10 241.30L324.56 241.30L325.02 241.30L325.49 241.30L325.95 241.30Z" fill="#0538a8" fill-opacity="0.1" stroke="none"/>
<path d="M303.85 241.30L304.25 241.30L304.66 241.30L305.08 241.30L305.48 241.30L305.87 241.30L306.25 241.25L306.49 241.07L306.73 240.85L306.96 240.60L307.19 240.32L307.41 240.01L307.63 239.67L307.84 239.31L308.05 238.93L308.25 238.53L308.44 238.11L308.63 237.68L308.81 237.25L308.99 236.80L309.15 236.35L309.25 236.05L309.35 235.73L309.45 235.41L309.53 235.07L309.62 234.73L309.70 234.37L309.78 234.01L309.85 233.64L309.92 233.26L309.99 232.88L310.05 232.49L310.11 232.09L310.17 231.69L310.22 231.28L310.28 230.87L310.33 230.45L310.38 230.03L310.43 229.60L310.47 229.17L310.52 228.74L310.56 228.31L310.61 227.88L310.65 227.44L310.69 227.01L310.74 226.57L310.78 226.13L310.82 225.70L310.87 225.27L310.91 224.83L310.96 224.40L311.00 223.97L311.05 223.55L311.09 223.17L311.13 222.80L311.18 222.42L311.21 222.05L311.25 221.68L311.29 221.30L311.33 220.93L311.36 220.56L311.40 220.18L311.43 219.81L311.47 219.43L311.50 219.06L311.53 218.68L311.57 218.31L311.60 217.93L311.63 217.55L311.66 217.17L311.69 216.78L311.72 216.40L311.75 216.01L311.78 215.62L311.81 215.23L311.84 214.83L311.87 214.43L311.90 214.03L311.93 213.63L311.96 213.22L311.98 212.81L312.01 212.40L312.04 211.98L312.07 211.56L312.10 211.13L312.13 210.70L312.16 210.27L312.19 209.83L312.22 209.38L312.25 208.93L312.29 208.48L312.32 208.02L312.35 207.55L312.37 207.22L312.40 206.88L312.42 206.54L312.44 206.20L312.47 205.85L312.49 205.51L312.52 205.16L312.54 204.80L312.56 204.45L312.59 204.09L312.61 203.72L312.64 203.36L312.66 202.99L312.69 202.62L312.71 202.25L312.74 201.88L312.76 201.50L312.79 201.12L312.81 200.74L312.84 200.36L312.86 199.97L312.89 199.58L312.91 199.20L312.94 198.80L312.96 198.41L312.99 198.02L313.01 197.62L313.04 197.22L313.06 196.82L313.09 196.42L313.11 196.02L313.14 195.61L313.17 195.21L313.19 194.80L313.22 194.39L313.24 193.98L313.27 193.57L313.29 193.16L313.32 192.74L313.34 192.33L313.37 191.91L313.39 191.50L313.42 191.08L313.44 190.66L313.47 190.24L313.49 189.82L313.51 189.40L313.54 188.98L313.56 188.56L313.59 188.14L313.61 187.72L313.64 187.30L313.66 186.87L313.68 186.45L313.71 186.03L313.73 185.60L313.76 185.18L313.78 184.76L313.80 184.33L313.82 183.91L313.85 183.49L313.87 183.06L313.89 182.64L313.92 182.22L313.94 181.80L313.96 181.38L313.98 180.95L314.00 180.53L314.03 180.11L314.05 179.69L314.07 179.28L314.09 178.86L314.11 178.44L314.13 178.03L314.15 177.61L314.17 177.20L314.19 176.78L314.21 176.37L314.23 175.96L314.25 175.55L314.27 175.16L314.29 174.76L314.30 174.37L314.32 173.97L314.34 173.58L314.36 173.18L314.37 172.79L314.39 172.39L314.41 172.00L314.42 171.60L314.44 171.20L314.46 170.80L314.47 170.41L314.49 170.01L314.50 169.61L314.52 169.21L314.54 168.81L314.55 168.41L314.57 168.01L314.58 167.61L314.60 167.21L314.61 166.81L314.62 166.41L314.64 166.01L314.65 165.61L314.67 165.21L314.68 164.81L314.70 164.40L314.71 164.00L314.72 163.60L314.74 163.20L314.75 162.79L314.76 162.39L314.78 161.99L314.79 161.58L314.80 161.18L314.82 160.78L314.83 160.37L314.84 159.97L314.86 159.56L314.87 159.16L314.88 158.76L314.89 158.35L314.91 157.95L314.92 157.54L314.93 157.14L314.94 156.73L314.96 156.33L314.97 155.92L314.98 155.52L314.99 155.11L315.01 154.71L315.02 154.30L315.03 153.90L315.04 153.49L315.06 153.09L315.07 152.68L315.08 152.28L315.09 151.87L315.10 151.46L315.12 151.06L315.13 150.65L315.14 150.25L315.15 149.84L315.17 149.44L315.18 149.03L315.19 148.63L315.20 148.22L315.22 147.82L315.23 147.41L315.24 147.01L315.25 146.60L315.27 146.20L315.28 145.79L315.29 145.39L315.30 144.99L315.32 144.58L315.33 144.18L315.34 143.77L315.36 143.37L315.37 142.97L315.38 142.56L315.40 142.16L315.41 141.76L315.42 141.36L315.44 140.95L315.45 140.55L315.46 140.15L315.48 139.74L315.49 139.34L315.51 138.94L315.52 138.53L315.53 138.13L315.55 137.73L315.56 137.32L315.58 136.92L315.59 136.51L315.60 136.11L315.62 135.70L315.63 135.29L315.65 134.89L315.66 134.48L315.68 134.08L315.69 133.67L315.70 133.26L315.72 132.86L315.73 132.45L315.75 132.04L315.76 131.64L315.78 131.23L315.79 130.82L315.81 130.41L315.82 130.01L315.83 129.60L315.85 129.19L315.86 128.78L315.88 128.38L315.89 127.97L315.91 127.56L315.92 127.15L315.94 126.75L315.95 126.34L315.96 125.93L315.98 125.53L315.99 125.12L316.01 124.71L316.02 124.30L316.04 123.90L316.05 123.49L316.06 123.08L316.08 122.68L316.09 122.27L316.11 121.87L316.12 121.46L316.14 121.06L316.15 120.65L316.16 120.25L316.18 119.84L316.19 119.44L316.21 119.03L316.22 118.63L316.23 118.23L316.25 117.82L316.26 117.42L316.28 117.02L316.29 116.62L316.30 116.21L316.32 115.81L316.33 115.41L316.34 115.01L316.36 114.61L316.37 114.21L316.38 113.81L316.40 113.41L316.41 113.01L316.42 112.62L316.44 112.22L316.45 111.82L316.46 111.43L316.48 111.03L316.49 110.63L316.50 110.24L316.52 109.85L316.53 109.45L316.54 109.06L316.55 108.67L316.57 108.27L316.58 107.88L316.59 107.49L316.60 107.10L316.61 106.71L316.63 106.33L316.64 105.94L316.65 105.55L316.66 105.13L316.67 104.71L316.69 104.29L316.70 103.87L316.71 103.44L316.72 103.01L316.73 102.58L316.75 102.15L316.76 101.71L316.77 101.28L316.78 100.84L316.79 100.40L316.80 99.96L316.81 99.52L316.82 99.08L316.83 98.64L316.84 98.19L316.85 97.75L316.86 97.30L316.87 96.86L316.88 96.41L316.89 95.97L316.90 95.52L316.91 95.08L316.92 94.63L316.93 94.19L316.94 93.74L316.95 93.30L316.96 92.86L316.97 92.41L316.97 91.97L316.98 91.53L316.99 91.10L317.00 90.66L317.01 90.22L317.02 89.79L317.03 89.36L317.04 88.93L317.05 88.50L317.06 88.08L317.07 87.65L317.08 87.23L317.09 86.81L317.10 86.40L317.11 85.98L317.11 85.58L317.12 85.17L317.13 84.77L317.14 84.37L317.15 83.97L317.16 83.58L317.17 83.19L317.18 82.80L317.20 82.42L317.21 82.04L317.22 81.67L317.23 81.30L317.24 80.94L317.25 80.58L317.26 80.22L317.27 79.87L317.28 79.53L317.29 79.19L317.31 78.85L317.32 78.52L317.33 78.20L317.34 77.88L317.36 77.57L317.37 77.26L317.38 76.96L317.39 76.66L317.41 76.38L317.42 76.09L317.44 75.82L317.45 75.55L317.48 75.01L317.51 74.51L317.54 74.03L317.57 73.57L317.60 73.13L317.63 72.71L317.66 72.31L317.70 71.92L317.73 71.53L317.76 71.16L317.80 70.79L317.83 70.43L317.86 70.06L317.90 69.69L317.94 69.32L317.97 68.94L318.01 68.55L318.05 68.15L318.09 67.74L318.13 67.33L318.16 66.92L318.20 66.50L318.24 66.08L318.28 65.67L318.32 65.25L318.36 64.83L318.40 64.42L318.44 64.01L318.48 63.60L318.53 63.19L318.58 62.79L318.63 62.39L318.68 62.00L318.73 61.61L318.79 61.23L318.85 60.85L318.92 60.41L318.99 59.96L319.06 59.52L319.13 59.09L319.21 58.65L319.28 58.23L319.36 57.81L319.45 57.40L319.55 57.00L319.66 56.62L319.77 56.25L319.90 55.89L320.05 55.55L320.26 55.13L320.48 54.72L320.71 54.34L320.97 53.97L321.23 53.63L321.52 53.31L321.83 53.01L322.15 52.75L322.49 52.52L322.84 52.33L323.20 52.16L323.59 52.01L323.99 51.88L324.42 51.77L324.87 51.66L325.35 51.55L325.68 51.48L326.02 51.42L326.38 51.36L326.75 51.31L327.13 51.27L327.52 51.23L327.93 51.19L328.34 51.16L328.76 51.13L329.18 51.11L329.61 51.08L330.04 51.06L330.48 51.04L330.92 51.02L331.35 51.01L331.79 50.99L332.22 50.97L332.65 50.95L333.04 50.93L333.45 50.91L333.87 50.90L334.29 50.88L334.72 50.87L335.16 50.85L335.60 50.84L336.04 50.83L336.49 50.82L336.93 50.81L337.38 50.80L337.81 50.80L338.25 50.79L338.67 50.79L339.09 50.79L339.50 50.79L339.90 50.80L340.28 50.80L340.65 50.81L341.00 50.82L341.33 50.83L341.65 50.85L342.14 50.87L342.59 50.89L343.01 50.91L343.41 50.94L343.79 50.98L344.16 51.04L344.51 51.13L344.85 51.25L345.23 51.42L345.59 51.63L345.93 51.86L346.25 52.12L346.56 52.42L346.85 52.75L347.08 53.06L347.30 53.41L347.51 53.78L347.71 54.17L347.90 54.59L348.07 55.01L348.24 55.45L348.40 55.90L348.55 56.35L348.66 56.72L348.76 57.09L348.86 57.48L348.94 57.87L349.02 58.28L349.10 58.68L349.17 59.10L349.23 59.52L349.30 59.94L349.36 60.36L349.42 60.79L349.48 61.22L349.55 61.65L349.61 62.04L349.66 62.43L349.72 62.82L349.77 63.22L349.82 63.62L349.87 64.02L349.92 64.42L349.97 64.83L350.01 65.24L350.06 65.65L350.11 66.06L350.15 66.48L350.20 66.90L350.25 67.31L350.30 67.73L350.35 68.15L350.40 68.54L350.45 68.92L350.50 69.30L350.55 69.67L350.60 70.03L350.66 70.40L350.71 70.76L350.76 71.13L350.82 71.51L350.87 71.89L350.92 72.29L350.97 72.69L351.02 73.12L351.07 73.56L351.12 74.02L351.16 74.50L351.21 75.01L351.25 75.55L351.27 75.82L351.29 76.09L351.31 76.38L351.33 76.66L351.34 76.96L351.36 77.26L351.38 77.57L351.40 77.88L351.41 78.20L351.43 78.52L351.44 78.85L351.46 79.18L351.48 79.52L351.49 79.87L351.50 80.22L351.52 80.57L351.53 80.93L351.55 81.30L351.56 81.67L351.57 82.04L351.58 82.42L351.60 82.80L351.61 83.18L351.62 83.57L351.63 83.97L351.64 84.36L351.65 84.76L351.67 85.17L351.68 85.57L351.69 85.98L351.70 86.40L351.71 86.81L351.72 87.23L351.73 87.65L351.74 88.07L351.75 88.50L351.76 88.93L351.77 89.36L351.78 89.79L351.79 90.22L351.80 90.66L351.81 91.09L351.81 91.53L351.82 91.97L351.83 92.41L351.84 92.85L351.85 93.30L351.86 93.74L351.87 94.19L351.88 94.63L351.89 95.08L351.90 95.52L351.91 95.97L351.92 96.41L351.93 96.86L351.94 97.30L351.95 97.75L351.96 98.19L351.97 98.64L351.98 99.08L351.99 99.52L352.00 99.96L352.01 100.40L352.02 100.84L352.03 101.28L352.04 101.71L352.05 102.15L352.06 102.58L352.07 103.01L352.09 103.44L352.10 103.87L352.11 104.29L352.12 104.71L352.14 105.13L352.15 105.55L352.16 105.94L352.17 106.33L352.19 106.71L352.20 107.10L352.21 107.49L352.23 107.88L352.24 108.27L352.25 108.67L352.26 109.06L352.28 109.45L352.29 109.85L352.30 110.24L352.32 110.63L352.33 111.03L352.34 111.43L352.36 111.82L352.37 112.22L352.38 112.62L352.40 113.01L352.41 113.41L352.42 113.81L352.44 114.21L352.45 114.61L352.46 115.01L352.48 115.41L352.49 115.81L352.50 116.21L352.52 116.61L352.53 117.02L352.55 117.42L352.56 117.82L352.57 118.23L352.59 118.63L352.60 119.03L352.62 119.44L352.63 119.84L352.64 120.25L352.66 120.65L352.67 121.06L352.69 121.46L352.70 121.87L352.71 122.27L352.73 122.68L352.74 123.08L352.76 123.49L352.77 123.90L352.78 124.30L352.80 124.71L352.81 125.12L352.83 125.52L352.84 125.93L352.86 126.34L352.87 126.75L352.88 127.15L352.90 127.56L352.91 127.97L352.93 128.38L352.94 128.78L352.96 129.19L352.97 129.60L352.98 130.01L353.00 130.41L353.01 130.82L353.03 131.23L353.04 131.64L353.06 132.04L353.07 132.45L353.08 132.86L353.10 133.26L353.11 133.67L353.13 134.08L353.14 134.48L353.15 134.89L353.17 135.29L353.18 135.70L353.20 136.11L353.21 136.51L353.22 136.92L353.24 137.32L353.25 137.73L353.27 138.13L353.28 138.53L353.29 138.94L353.31 139.34L353.32 139.74L353.34 140.15L353.35 140.55L353.36 140.95L353.38 141.36L353.39 141.76L353.40 142.16L353.42 142.56L353.43 142.97L353.45 143.37L353.46 143.77L353.47 144.18L353.49 144.58L353.50 144.99L353.51 145.39L353.53 145.79L353.54 146.20L353.55 146.60L353.57 147.01L353.58 147.41L353.59 147.82L353.61 148.22L353.62 148.63L353.63 149.03L353.65 149.44L353.66 149.84L353.67 150.25L353.69 150.65L353.70 151.06L353.71 151.46L353.72 151.87L353.74 152.28L353.75 152.68L353.76 153.09L353.78 153.49L353.79 153.90L353.80 154.30L353.82 154.71L353.83 155.11L353.84 155.52L353.86 155.92L353.87 156.33L353.88 156.73L353.90 157.14L353.91 157.54L353.92 157.95L353.94 158.35L353.95 158.76L353.96 159.16L353.98 159.56L353.99 159.97L354.00 160.37L354.02 160.78L354.03 161.18L354.04 161.58L354.06 161.99L354.07 162.39L354.08 162.79L354.10 163.20L354.11 163.60L354.13 164.00L354.14 164.40L354.15 164.80L354.17 165.21L354.18 165.61L354.20 166.01L354.21 166.41L354.22 166.81L354.24 167.21L354.25 167.61L354.27 168.01L354.28 168.41L354.30 168.81L354.31 169.21L354.32 169.61L354.34 170.01L354.35 170.41L354.37 170.80L354.38 171.20L354.40 171.60L354.41 171.99L354.43 172.39L354.44 172.79L354.46 173.18L354.47 173.58L354.49 173.97L354.50 174.37L354.52 174.76L354.53 175.16L354.55 175.55L354.57 175.96L354.58 176.37L354.60 176.78L354.62 177.19L354.63 177.60L354.65 178.02L354.67 178.43L354.68 178.84L354.70 179.26L354.72 179.67L354.73 180.09L354.75 180.51L354.77 180.92L354.79 181.34L354.80 181.76L354.82 182.17L354.84 182.59L354.86 183.01L354.87 183.42L354.89 183.84L354.91 184.26L354.93 184.68L354.94 185.09L354.96 185.51L354.98 185.93L355.00 186.35L355.02 186.76L355.03 187.18L355.05 187.60L355.07 188.01L355.09 188.43L355.11 188.84L355.13 189.26L355.14 189.67L355.16 190.09L355.18 190.50L355.20 190.91L355.22 191.33L355.24 191.74L355.25 192.15L355.27 192.56L355.29 192.97L355.31 193.38L355.33 193.78L355.35 194.19L355.37 194.60L355.38 195.00L355.40 195.41L355.42 195.81L355.44 196.21L355.46 196.61L355.48 197.01L355.50 197.41L355.52 197.80L355.53 198.20L355.55 198.59L355.57 198.99L355.59 199.38L355.61 199.77L355.63 200.16L355.65 200.54L355.67 200.93L355.68 201.31L355.70 201.69L355.72 202.07L355.74 202.45L355.76 202.83L355.78 203.20L355.80 203.58L355.81 203.95L355.83 204.32L355.85 204.69L355.87 205.05L355.89 205.41L355.91 205.78L355.93 206.14L355.94 206.49L355.96 206.85L355.98 207.20L356.00 207.55L356.02 208.00L356.05 208.45L356.07 208.90L356.09 209.34L356.11 209.79L356.13 210.23L356.15 210.67L356.17 211.11L356.19 211.55L356.21 211.98L356.23 212.42L356.25 212.85L356.27 213.28L356.29 213.71L356.31 214.14L356.33 214.56L356.35 214.98L356.37 215.40L356.39 215.82L356.40 216.23L356.42 216.65L356.44 217.06L356.46 217.47L356.48 217.87L356.50 218.28L356.52 218.68L356.55 219.08L356.57 219.47L356.59 219.86L356.61 220.25L356.63 220.64L356.66 221.03L356.68 221.41L356.71 221.79L356.73 222.16L356.76 222.53L356.79 222.90L356.82 223.27L356.84 223.63L356.87 223.99L356.91 224.35L356.94 224.70L356.97 225.05L357.00 225.40L357.04 225.74L357.07 226.08L357.11 226.42L357.15 226.75L357.20 227.22L357.26 227.68L357.31 228.14L357.36 228.59L357.41 229.04L357.46 229.48L357.51 229.91L357.56 230.34L357.61 230.76L357.67 231.18L357.72 231.59L357.78 232.00L357.84 232.40L357.91 232.79L357.98 233.18L358.05 233.56L358.13 233.93L358.21 234.30L358.30 234.66L358.40 235.01L358.50 235.35L358.61 235.69L358.73 236.03L358.85 236.35L359.03 236.77L359.22 237.20L359.42 237.62L359.63 238.03L359.85 238.43L360.08 238.83L360.31 239.20L360.55 239.56L360.80 239.90L361.04 240.21L361.30 240.49L361.55 240.75L361.80 240.97L362.05 241.15L362.44 241.30L362.83 241.30L363.23 241.30L363.64 241.30L364.05 241.30L364.45 241.30Z" fill="#0a5a7d" fill-opacity="0.1" stroke="none"/>
<path d="M341.35 241.30L341.77 241.30L342.20 241.30L342.63 241.30L343.05 241.30L343.46 241.30L343.85 241.25L344.09 241.07L344.33 240.84L344.57 240.59L344.80 240.29L345.02 239.97L345.24 239.63L345.45 239.26L345.66 238.87L345.86 238.47L346.06 238.06L346.24 237.63L346.42 237.21L346.59 236.78L346.75 236.35L346.86 236.02L346.97 235.69L347.07 235.35L347.16 235.00L347.25 234.64L347.33 234.28L347.41 233.92L347.48 233.54L347.55 233.16L347.61 232.78L347.67 232.38L347.73 231.99L347.78 231.58L347.84 231.17L347.89 230.76L347.94 230.33L347.99 229.91L348.04 229.47L348.08 229.03L348.13 228.59L348.19 228.14L348.24 227.68L348.29 227.22L348.35 226.75L348.39 226.42L348.43 226.08L348.47 225.74L348.51 225.40L348.55 225.05L348.59 224.70L348.63 224.35L348.66 223.99L348.70 223.63L348.74 223.27L348.77 222.90L348.81 222.53L348.84 222.16L348.88 221.78L348.91 221.41L348.95 221.02L348.98 220.64L349.02 220.25L349.05 219.86L349.08 219.47L349.12 219.07L349.15 218.68L349.18 218.28L349.21 217.87L349.24 217.47L349.28 217.06L349.31 216.65L349.34 216.23L349.37 215.82L349.40 215.40L349.43 214.98L349.46 214.56L349.49 214.14L349.52 213.71L349.55 213.28L349.59 212.85L349.62 212.42L349.65 211.98L349.68 211.55L349.71 211.11L349.74 210.67L349.77 210.23L349.80 209.79L349.83 209.34L349.86 208.90L349.89 208.45L349.92 208.00L349.95 207.55L349.97 207.20L350.00 206.85L350.02 206.49L350.04 206.14L350.07 205.78L350.09 205.42L350.12 205.05L350.14 204.69L350.16 204.32L350.19 203.95L350.21 203.58L350.23 203.21L350.25 202.83L350.28 202.45L350.30 202.08L350.32 201.69L350.35 201.31L350.37 200.93L350.39 200.54L350.41 200.16L350.44 199.77L350.46 199.38L350.48 198.99L350.50 198.59L350.53 198.20L350.55 197.81L350.57 197.41L350.59 197.01L350.62 196.61L350.64 196.21L350.66 195.81L350.68 195.41L350.70 195.00L350.72 194.60L350.75 194.19L350.77 193.79L350.79 193.38L350.81 192.97L350.83 192.56L350.85 192.15L350.87 191.74L350.90 191.33L350.92 190.92L350.94 190.50L350.96 190.09L350.98 189.68L351.00 189.26L351.02 188.85L351.04 188.43L351.06 188.01L351.08 187.60L351.10 187.18L351.12 186.76L351.15 186.35L351.17 185.93L351.19 185.51L351.21 185.10L351.23 184.68L351.25 184.26L351.27 183.84L351.29 183.43L351.31 183.01L351.33 182.59L351.35 182.17L351.36 181.76L351.38 181.34L351.40 180.92L351.42 180.51L351.44 180.09L351.46 179.67L351.48 179.26L351.50 178.85L351.52 178.43L351.54 178.02L351.56 177.60L351.58 177.19L351.59 176.78L351.61 176.37L351.63 175.96L351.65 175.55L351.67 175.16L351.69 174.76L351.70 174.37L351.72 173.97L351.74 173.58L351.75 173.18L351.77 172.79L351.79 172.39L351.80 171.99L351.82 171.60L351.84 171.20L351.85 170.80L351.87 170.41L351.89 170.01L351.90 169.61L351.92 169.21L351.93 168.81L351.95 168.41L351.97 168.01L351.98 167.61L352.00 167.21L352.01 166.81L352.03 166.41L352.04 166.01L352.06 165.61L352.07 165.21L352.09 164.80L352.10 164.40L352.12 164.00L352.13 163.60L352.15 163.20L352.16 162.79L352.18 162.39L352.19 161.99L352.21 161.58L352.22 161.18L352.24 160.78L352.25 160.37L352.27 159.97L352.28 159.56L352.29 159.16L352.31 158.76L352.32 158.35L352.34 157.95L352.35 157.54L352.37 157.14L352.38 156.73L352.39 156.33L352.41 155.92L352.42 155.52L352.44 155.11L352.45 154.71L352.46 154.30L352.48 153.90L352.49 153.49L352.51 153.09L352.52 152.68L352.53 152.28L352.55 151.87L352.56 151.46L352.58 151.06L352.59 150.65L352.60 150.25L352.62 149.84L352.63 149.44L352.65 149.03L352.66 148.63L352.68 148.22L352.69 147.82L352.70 147.41L352.72 147.01L352.73 146.60L352.75 146.20L352.76 145.79L352.77 145.39L352.79 144.99L352.80 144.58L352.82 144.18L352.83 143.77L352.85 143.37L352.86 142.97L352.88 142.56L352.89 142.16L352.91 141.76L352.92 141.36L352.94 140.95L352.95 140.55L352.96 140.15L352.98 139.74L352.99 139.34L353.01 138.94L353.02 138.53L353.04 138.13L353.05 137.73L353.07 137.32L353.08 136.92L353.10 136.51L353.11 136.11L353.13 135.70L353.14 135.29L353.16 134.89L353.17 134.48L353.18 134.08L353.20 133.67L353.21 133.26L353.23 132.86L353.24 132.45L353.26 132.04L353.27 131.63L353.29 131.23L353.30 130.82L353.31 130.41L353.33 130.01L353.34 129.60L353.36 129.19L353.37 128.78L353.39 128.38L353.40 127.97L353.41 127.56L353.43 127.15L353.44 126.75L353.46 126.34L353.47 125.93L353.49 125.52L353.50 125.12L353.51 124.71L353.53 124.30L353.54 123.90L353.56 123.49L353.57 123.08L353.59 122.68L353.60 122.27L353.62 121.87L353.63 121.46L353.64 121.06L353.66 120.65L353.67 120.25L353.69 119.84L353.70 119.44L353.72 119.03L353.73 118.63L353.75 118.22L353.76 117.82L353.78 117.42L353.79 117.02L353.81 116.61L353.82 116.21L353.84 115.81L353.85 115.41L353.87 115.01L353.88 114.61L353.90 114.21L353.91 113.81L353.93 113.41L353.94 113.01L353.96 112.62L353.97 112.22L353.99 111.82L354.01 111.42L354.02 111.03L354.04 110.63L354.05 110.24L354.07 109.84L354.09 109.45L354.10 109.06L354.12 108.67L354.13 108.27L354.15 107.88L354.17 107.49L354.18 107.10L354.20 106.71L354.22 106.32L354.23 105.94L354.25 105.55L354.27 105.13L354.29 104.71L354.31 104.29L354.32 103.87L354.34 103.44L354.36 103.01L354.38 102.58L354.40 102.15L354.42 101.71L354.44 101.28L354.46 100.84L354.48 100.40L354.50 99.96L354.52 99.52L354.54 99.08L354.56 98.64L354.58 98.19L354.60 97.75L354.63 97.30L354.65 96.86L354.67 96.41L354.69 95.97L354.71 95.52L354.73 95.08L354.75 94.63L354.77 94.19L354.80 93.74L354.82 93.30L354.84 92.86L354.86 92.41L354.88 91.97L354.90 91.53L354.93 91.10L354.95 90.66L354.97 90.22L354.99 89.79L355.01 89.36L355.03 88.93L355.06 88.50L355.08 88.08L355.10 87.65L355.12 87.23L355.14 86.81L355.16 86.40L355.18 85.99L355.20 85.58L355.23 85.17L355.25 84.77L355.27 84.37L355.29 83.97L355.31 83.58L355.33 83.19L355.35 82.80L355.37 82.42L355.39 82.04L355.41 81.67L355.43 81.30L355.45 80.94L355.47 80.58L355.49 80.22L355.51 79.87L355.53 79.53L355.54 79.19L355.56 78.85L355.58 78.52L355.60 78.20L355.62 77.88L355.63 77.57L355.65 77.26L355.67 76.96L355.69 76.66L355.70 76.38L355.72 76.09L355.73 75.82L355.75 75.55L355.78 75.01L355.81 74.51L355.84 74.02L355.86 73.56L355.89 73.12L355.91 72.70L355.93 72.29L355.96 71.89L355.98 71.51L356.00 71.13L356.03 70.76L356.05 70.39L356.08 70.03L356.11 69.66L356.14 69.30L356.17 68.92L356.21 68.54L356.25 68.15L356.29 67.73L356.34 67.31L356.39 66.89L356.44 66.48L356.49 66.06L356.54 65.65L356.59 65.24L356.65 64.83L356.70 64.42L356.76 64.02L356.82 63.61L356.88 63.21L356.95 62.82L357.01 62.43L357.08 62.04L357.15 61.65L357.23 61.22L357.30 60.78L357.38 60.34L357.45 59.90L357.53 59.46L357.61 59.03L357.70 58.61L357.79 58.19L357.88 57.79L357.99 57.40L358.10 57.03L358.22 56.68L358.35 56.35L358.54 55.93L358.73 55.53L358.94 55.15L359.16 54.80L359.40 54.48L359.66 54.20L359.95 53.95L360.29 53.72L360.66 53.54L361.05 53.40L361.46 53.29L361.90 53.21L362.35 53.15L362.71 53.12L363.07 53.12L363.45 53.14L363.84 53.17L364.24 53.22L364.66 53.28L365.08 53.34L365.52 53.41L365.98 53.48L366.45 53.55L366.80 53.60L367.16 53.65L367.53 53.71L367.92 53.77L368.32 53.84L368.73 53.91L369.14 53.98L369.56 54.05L369.99 54.13L370.42 54.20L370.85 54.28L371.28 54.36L371.71 54.44L372.14 54.52L372.56 54.59L372.98 54.67L373.39 54.74L373.79 54.81L374.17 54.88L374.55 54.95L374.99 55.03L375.44 55.10L375.88 55.17L376.32 55.24L376.76 55.31L377.19 55.38L377.62 55.44L378.03 55.51L378.44 55.58L378.83 55.65L379.21 55.72L379.58 55.80L379.92 55.87L380.25 55.95L380.72 56.07L381.16 56.17L381.56 56.28L381.95 56.41L382.31 56.56L382.65 56.75L383.02 57.02L383.36 57.32L383.68 57.67L383.97 58.04L384.25 58.45L384.45 58.78L384.64 59.14L384.81 59.51L384.98 59.91L385.13 60.32L385.28 60.75L385.42 61.19L385.55 61.65L385.64 62.00L385.73 62.36L385.80 62.74L385.88 63.12L385.94 63.51L386.00 63.91L386.06 64.32L386.12 64.74L386.17 65.16L386.23 65.59L386.28 66.03L386.34 66.46L386.39 66.91L386.45 67.35L386.50 67.72L386.55 68.09L386.60 68.45L386.64 68.81L386.69 69.17L386.74 69.54L386.78 69.90L386.83 70.27L386.87 70.65L386.91 71.03L386.96 71.42L387.00 71.83L387.05 72.24L387.09 72.66L387.13 73.10L387.18 73.55L387.22 74.03L387.26 74.51L387.31 75.02L387.35 75.55L387.37 75.83L387.39 76.11L387.42 76.40L387.44 76.70L387.46 77.00L387.48 77.31L387.51 77.62L387.53 77.94L387.55 78.26L387.57 78.59L387.60 78.92L387.62 79.26L387.64 79.61L387.66 79.95L387.68 80.31L387.71 80.67L387.73 81.03L387.75 81.39L387.77 81.76L387.80 82.14L387.82 82.52L387.84 82.90L387.86 83.29L387.88 83.68L387.91 84.07L387.93 84.47L387.95 84.87L387.97 85.27L387.99 85.67L388.02 86.08L388.04 86.49L388.06 86.91L388.08 87.32L388.10 87.74L388.12 88.17L388.15 88.59L388.17 89.01L388.19 89.44L388.21 89.87L388.23 90.30L388.25 90.73L388.27 91.17L388.30 91.60L388.32 92.04L388.34 92.48L388.36 92.92L388.38 93.36L388.40 93.80L388.42 94.24L388.44 94.68L388.46 95.12L388.49 95.56L388.51 96.01L388.53 96.45L388.55 96.89L388.57 97.33L388.59 97.78L388.61 98.22L388.63 98.66L388.65 99.10L388.67 99.54L388.69 99.98L388.71 100.42L388.73 100.85L388.75 101.29L388.77 101.72L388.79 102.16L388.81 102.59L388.83 103.02L388.85 103.44L388.87 103.87L388.89 104.29L388.91 104.71L388.93 105.13L388.95 105.55L388.97 105.94L388.99 106.32L389.00 106.71L389.02 107.10L389.04 107.49L389.06 107.88L389.07 108.27L389.09 108.67L389.11 109.06L389.13 109.45L389.14 109.84L389.16 110.24L389.18 110.63L389.20 111.03L389.21 111.42L389.23 111.82L389.25 112.22L389.26 112.62L389.28 113.01L389.30 113.41L389.31 113.81L389.33 114.21L389.35 114.61L389.36 115.01L389.38 115.41L389.40 115.81L389.41 116.21L389.43 116.61L389.45 117.02L389.46 117.42L389.48 117.82L389.49 118.22L389.51 118.63L389.53 119.03L389.54 119.44L389.56 119.84L389.57 120.24L389.59 120.65L389.61 121.05L389.62 121.46L389.64 121.87L389.65 122.27L389.67 122.68L389.69 123.08L389.70 123.49L389.72 123.90L389.73 124.30L389.75 124.71L389.76 125.12L389.78 125.52L389.79 125.93L389.81 126.34L389.83 126.75L389.84 127.15L389.86 127.56L389.87 127.97L389.89 128.38L389.90 128.78L389.92 129.19L389.93 129.60L389.95 130.01L389.97 130.41L389.98 130.82L390.00 131.23L390.01 131.63L390.03 132.04L390.04 132.45L390.06 132.86L390.07 133.26L390.09 133.67L390.10 134.08L390.12 134.48L390.13 134.89L390.15 135.29L390.16 135.70L390.18 136.11L390.20 136.51L390.21 136.92L390.23 137.32L390.24 137.73L390.26 138.13L390.27 138.53L390.29 138.94L390.30 139.34L390.32 139.74L390.33 140.15L390.35 140.55L390.37 140.95L390.38 141.35L390.40 141.76L390.41 142.16L390.43 142.56L390.44 142.97L390.46 143.37L390.47 143.77L390.49 144.18L390.50 144.58L390.52 144.99L390.54 145.39L390.55 145.79L390.57 146.20L390.58 146.60L390.60 147.01L390.61 147.41L390.63 147.82L390.64 148.22L390.66 148.63L390.67 149.03L390.69 149.44L390.70 149.84L390.72 150.25L390.73 150.65L390.75 151.06L390.76 151.46L390.78 151.87L390.79 152.27L390.81 152.68L390.82 153.09L390.84 153.49L390.85 153.90L390.87 154.30L390.88 154.71L390.90 155.11L390.92 155.52L390.93 155.92L390.95 156.33L390.96 156.73L390.98 157.14L390.99 157.54L391.00 157.95L391.02 158.35L391.03 158.75L391.05 159.16L391.06 159.56L391.08 159.97L391.09 160.37L391.11 160.77L391.12 161.18L391.14 161.58L391.15 161.99L391.17 162.39L391.18 162.79L391.20 163.19L391.21 163.60L391.23 164.00L391.24 164.40L391.26 164.80L391.27 165.21L391.29 165.61L391.30 166.01L391.32 166.41L391.33 166.81L391.35 167.21L391.36 167.61L391.37 168.01L391.39 168.41L391.40 168.81L391.42 169.21L391.43 169.61L391.45 170.01L391.46 170.40L391.48 170.80L391.49 171.20L391.51 171.60L391.52 171.99L391.53 172.39L391.55 172.79L391.56 173.18L391.58 173.58L391.59 173.97L391.61 174.37L391.62 174.76L391.64 175.16L391.65 175.55L391.66 175.96L391.68 176.37L391.69 176.78L391.71 177.19L391.72 177.60L391.74 178.02L391.75 178.43L391.77 178.84L391.78 179.26L391.80 179.67L391.81 180.09L391.83 180.51L391.84 180.92L391.86 181.34L391.87 181.75L391.89 182.17L391.90 182.59L391.92 183.01L391.93 183.42L391.95 183.84L391.96 184.26L391.97 184.68L391.99 185.09L392.00 185.51L392.02 185.93L392.03 186.35L392.05 186.76L392.06 187.18L392.08 187.60L392.09 188.01L392.10 188.43L392.12 188.84L392.13 189.26L392.15 189.67L392.16 190.09L392.18 190.50L392.19 190.91L392.21 191.33L392.22 191.74L392.23 192.15L392.25 192.56L392.26 192.97L392.28 193.38L392.29 193.78L392.31 194.19L392.32 194.60L392.33 195.00L392.35 195.40L392.36 195.81L392.38 196.21L392.39 196.61L392.41 197.01L392.42 197.41L392.43 197.80L392.45 198.20L392.46 198.59L392.48 198.99L392.49 199.38L392.50 199.77L392.52 200.16L392.53 200.54L392.55 200.93L392.56 201.31L392.58 201.69L392.59 202.07L392.60 202.45L392.62 202.83L392.63 203.20L392.65 203.58L392.66 203.95L392.67 204.32L392.69 204.69L392.70 205.05L392.72 205.41L392.73 205.78L392.74 206.14L392.76 206.49L392.77 206.85L392.79 207.20L392.80 207.55L392.82 208.00L392.83 208.45L392.85 208.89L392.87 209.34L392.88 209.78L392.89 210.22L392.91 210.66L392.92 211.10L392.93 211.54L392.94 211.97L392.95 212.40L392.97 212.83L392.98 213.26L392.99 213.69L393.00 214.11L393.01 214.53L393.02 214.95L393.03 215.37L393.04 215.78L393.05 216.20L393.06 216.61L393.07 217.02L393.08 217.42L393.09 217.83L393.11 218.23L393.12 218.63L393.13 219.03L393.15 219.42L393.16 219.81L393.18 220.20L393.19 220.59L393.21 220.97L393.23 221.35L393.25 221.73L393.27 222.11L393.29 222.48L393.31 222.85L393.34 223.22L393.36 223.59L393.39 223.95L393.41 224.31L393.44 224.67L393.47 225.02L393.51 225.37L393.54 225.72L393.57 226.07L393.61 226.41L393.65 226.75L393.70 227.21L393.76 227.67L393.81 228.13L393.86 228.58L393.92 229.04L393.97 229.48L394.02 229.93L394.08 230.37L394.14 230.80L394.20 231.23L394.26 231.66L394.32 232.08L394.39 232.49L394.46 232.90L394.53 233.30L394.61 233.69L394.69 234.07L394.77 234.45L394.86 234.82L394.96 235.18L395.06 235.53L395.16 235.88L395.28 236.21L395.39 236.53L395.52 236.85L395.65 237.15L395.85 237.56L396.06 237.97L396.29 238.36L396.52 238.75L396.77 239.12L397.02 239.47L397.28 239.80L397.54 240.11L397.81 240.39L398.07 240.65L398.34 240.88L398.60 241.08L398.85 241.25L399.27 241.30L399.69 241.30L400.11 241.30L400.53 241.30L400.95 241.30Z" fill="#19aa05" fill-opacity="0.1" stroke="none"/>
<path d="M192.35 241.30L192.76 241.30L193.17 241.30L193.59 241.30L193.98 241.30L194.35 241.30L194.71 241.25L195.05 240.99L195.36 240.66L195.66 240.25L195.95 239.75L196.06 239.53L196.17 239.29L196.27 239.02L196.37 238.74L196.47 238.45L196.57 238.13L196.66 237.81L196.76 237.46L196.85 237.10L196.94 236.73L197.02 236.35L197.11 235.96L197.19 235.55L197.28 235.14L197.36 234.72L197.43 234.28L197.51 233.85L197.59 233.40L197.66 232.95L197.74 232.50L197.81 232.04L197.88 231.58L197.95 231.12L198.02 230.65L198.09 230.19L198.15 229.73L198.22 229.27L198.28 228.81L198.35 228.35L198.40 228.01L198.44 227.67L198.49 227.32L198.53 226.97L198.57 226.62L198.61 226.26L198.65 225.90L198.69 225.54L198.73 225.18L198.77 224.81L198.80 224.45L198.83 224.07L198.87 223.70L198.90 223.32L198.93 222.95L198.96 222.56L198.99 222.18L199.02 221.79L199.05 221.41L199.08 221.02L199.10 220.62L199.13 220.23L199.16 219.83L199.18 219.43L199.21 219.03L199.23 218.63L199.26 218.22L199.28 217.81L199.31 217.40L199.33 216.99L199.36 216.58L199.38 216.16L199.41 215.75L199.43 215.33L199.46 214.91L199.48 214.49L199.51 214.06L199.53 213.64L199.56 213.21L199.58 212.78L199.61 212.35L199.64 211.92L199.67 211.49L199.69 211.06L199.72 210.62L199.75 210.19L199.78 209.75L199.82 209.31L199.85 208.87L199.88 208.43L199.91 207.99L199.95 207.55L199.98 207.19L200.01 206.83L200.04 206.47L200.07 206.11L200.10 205.74L200.13 205.37L200.16 205.01L200.19 204.63L200.23 204.26L200.26 203.89L200.29 203.51L200.33 203.14L200.36 202.76L200.39 202.38L200.43 202.00L200.46 201.61L200.50 201.23L200.53 200.84L200.57 200.46L200.60 200.07L200.64 199.68L200.67 199.29L200.71 198.89L200.75 198.50L200.78 198.11L200.82 197.71L200.86 197.31L200.89 196.92L200.93 196.52L200.97 196.12L201.00 195.72L201.04 195.31L201.08 194.91L201.12 194.51L201.15 194.10L201.19 193.70L201.23 193.29L201.26 192.89L201.30 192.48L201.34 192.07L201.38 191.66L201.41 191.25L201.45 190.84L201.49 190.43L201.52 190.02L201.56 189.61L201.60 189.20L201.63 188.79L201.67 188.37L201.71 187.96L201.74 187.55L201.78 187.13L201.81 186.72L201.85 186.30L201.88 185.89L201.92 185.47L201.95 185.06L201.99 184.65L202.02 184.23L202.06 183.81L202.09 183.40L202.12 182.98L202.16 182.57L202.19 182.15L202.22 181.74L202.25 181.32L202.28 180.91L202.31 180.50L202.35 180.08L202.38 179.67L202.40 179.25L202.43 178.84L202.46 178.43L202.49 178.02L202.52 177.60L202.55 177.19L202.57 176.78L202.60 176.37L202.62 175.96L202.65 175.55L202.67 175.16L202.70 174.76L202.72 174.37L202.74 173.97L202.76 173.58L202.79 173.18L202.81 172.78L202.83 172.38L202.85 171.99L202.87 171.59L202.89 171.19L202.91 170.79L202.93 170.39L202.95 169.99L202.97 169.58L202.98 169.18L203.00 168.78L203.02 168.38L203.04 167.97L203.06 167.57L203.07 167.17L203.09 166.76L203.11 166.36L203.12 165.95L203.14 165.55L203.15 165.14L203.17 164.74L203.18 164.33L203.20 163.92L203.21 163.52L203.23 163.11L203.24 162.70L203.26 162.30L203.27 161.89L203.29 161.48L203.30 161.08L203.31 160.67L203.33 160.26L203.34 159.85L203.35 159.45L203.37 159.04L203.38 158.63L203.39 158.22L203.41 157.81L203.42 157.41L203.43 157.00L203.44 156.59L203.46 156.18L203.47 155.78L203.48 155.37L203.49 154.96L203.50 154.56L203.52 154.15L203.53 153.74L203.54 153.34L203.55 152.93L203.56 152.52L203.58 152.12L203.59 151.71L203.60 151.31L203.61 150.90L203.62 150.50L203.64 150.10L203.65 149.69L203.66 149.29L203.67 148.89L203.68 148.48L203.70 148.08L203.71 147.68L203.72 147.28L203.73 146.88L203.75 146.48L203.76 146.08L203.77 145.68L203.78 145.28L203.80 144.88L203.81 144.49L203.82 144.09L203.84 143.69L203.85 143.30L203.86 142.90L203.88 142.51L203.89 142.12L203.91 141.72L203.92 141.33L203.94 140.94L203.95 140.55L203.97 140.13L203.98 139.72L204.00 139.30L204.01 138.88L204.03 138.46L204.04 138.03L204.06 137.61L204.08 137.18L204.09 136.75L204.11 136.33L204.12 135.90L204.14 135.47L204.16 135.04L204.17 134.60L204.19 134.17L204.20 133.74L204.22 133.31L204.23 132.87L204.25 132.44L204.27 132.00L204.28 131.57L204.30 131.13L204.31 130.70L204.33 130.27L204.34 129.83L204.36 129.40L204.38 128.96L204.39 128.53L204.41 128.10L204.42 127.67L204.44 127.23L204.46 126.80L204.47 126.37L204.49 125.95L204.50 125.52L204.52 125.09L204.53 124.67L204.55 124.24L204.57 123.82L204.58 123.40L204.60 122.98L204.61 122.56L204.63 122.14L204.64 121.73L204.66 121.31L204.67 120.90L204.69 120.49L204.71 120.08L204.72 119.68L204.74 119.28L204.75 118.88L204.77 118.48L204.78 118.08L204.80 117.69L204.81 117.30L204.83 116.91L204.85 116.53L204.86 116.14L204.88 115.77L204.89 115.39L204.91 115.02L204.92 114.65L204.94 114.28L204.95 113.92L204.97 113.56L204.98 113.20L205.00 112.85L205.01 112.50L205.03 112.16L205.04 111.82L205.06 111.48L205.07 111.15L205.09 110.82L205.10 110.50L205.12 110.18L205.14 109.86L205.15 109.55L205.17 109.06L205.20 108.58L205.22 108.11L205.24 107.65L205.27 107.20L205.29 106.76L205.31 106.32L205.33 105.89L205.35 105.47L205.38 105.05L205.40 104.64L205.42 104.24L205.44 103.84L205.46 103.45L205.48 103.06L205.51 102.67L205.53 102.29L205.55 101.92L205.57 101.54L205.60 101.17L205.62 100.81L205.64 100.44L205.67 100.08L205.69 99.71L205.72 99.35L205.74 98.99L205.77 98.63L205.79 98.27L205.82 97.91L205.85 97.55L205.88 97.10L205.92 96.66L205.95 96.23L205.99 95.79L206.03 95.37L206.06 94.94L206.10 94.52L206.13 94.11L206.17 93.70L206.21 93.29L206.25 92.89L206.29 92.48L206.33 92.08L206.37 91.69L206.41 91.29L206.46 90.90L206.50 90.51L206.55 90.12L206.60 89.74L206.65 89.35L206.71 88.92L206.76 88.49L206.82 88.05L206.88 87.62L206.94 87.20L207.00 86.77L207.06 86.35L207.13 85.93L207.19 85.52L207.26 85.11L207.34 84.71L207.41 84.32L207.49 83.94L207.57 83.56L207.66 83.20L207.75 82.85L207.88 82.38L208.01 81.91L208.14 81.46L208.27 81.02L208.42 80.60L208.58 80.20L208.75 79.82L208.94 79.47L209.15 79.15L209.43 78.80L209.73 78.50L210.05 78.23L210.40 77.99L210.76 77.76L211.15 77.55L211.49 77.38L211.85 77.24L212.21 77.12L212.59 77.01L213.00 76.90L213.42 76.79L213.87 76.68L214.35 76.55L214.66 76.47L214.99 76.38L215.33 76.29L215.69 76.19L216.06 76.10L216.44 76.00L216.84 75.90L217.24 75.80L217.65 75.70L218.06 75.60L218.48 75.50L218.90 75.39L219.33 75.29L219.75 75.19L220.17 75.10L220.58 75.00L220.99 74.90L221.40 74.81L221.79 74.72L222.18 74.63L222.55 74.55L222.98 74.46L223.40 74.36L223.83 74.27L224.26 74.17L224.69 74.08L225.11 73.99L225.54 73.90L225.95 73.81L226.36 73.72L226.76 73.64L227.16 73.57L227.54 73.49L227.91 73.42L228.27 73.36L228.62 73.30L228.95 73.25L229.43 73.17L229.89 73.10L230.32 73.03L230.73 72.97L231.12 72.93L231.49 72.92L231.85 72.95L232.30 73.03L232.71 73.15L233.10 73.32L233.45 73.55L233.80 73.86L234.10 74.23L234.38 74.67L234.65 75.15L234.81 75.47L234.96 75.81L235.10 76.17L235.23 76.55L235.36 76.95L235.49 77.37L235.61 77.81L235.73 78.27L235.85 78.75L235.93 79.08L236.01 79.43L236.08 79.78L236.15 80.15L236.23 80.53L236.30 80.92L236.37 81.32L236.43 81.73L236.50 82.15L236.57 82.57L236.63 82.99L236.69 83.43L236.75 83.86L236.81 84.30L236.87 84.74L236.93 85.19L236.99 85.63L237.04 86.07L237.10 86.51L237.15 86.95L237.20 87.33L237.24 87.72L237.28 88.11L237.33 88.50L237.37 88.89L237.41 89.29L237.44 89.69L237.48 90.09L237.52 90.49L237.56 90.89L237.59 91.30L237.62 91.71L237.66 92.12L237.69 92.53L237.72 92.95L237.76 93.36L237.79 93.78L237.82 94.19L237.85 94.61L237.88 95.03L237.91 95.45L237.94 95.87L237.96 96.29L237.99 96.71L238.02 97.13L238.05 97.55L238.08 97.94L238.10 98.32L238.12 98.69L238.15 99.07L238.17 99.44L238.19 99.81L238.21 100.18L238.23 100.55L238.25 100.92L238.27 101.29L238.29 101.66L238.31 102.03L238.33 102.40L238.35 102.77L238.37 103.15L238.39 103.53L238.41 103.92L238.42 104.31L238.44 104.71L238.46 105.11L238.48 105.51L238.49 105.93L238.51 106.35L238.53 106.78L238.55 107.22L238.57 107.66L238.59 108.12L238.61 108.59L238.63 109.06L238.65 109.55L238.66 109.86L238.68 110.18L238.69 110.50L238.70 110.82L238.72 111.15L238.73 111.48L238.74 111.82L238.76 112.16L238.77 112.50L238.79 112.85L238.80 113.20L238.81 113.56L238.83 113.92L238.84 114.28L238.86 114.65L238.87 115.02L238.88 115.39L238.90 115.77L238.91 116.14L238.93 116.53L238.94 116.91L238.96 117.30L238.97 117.69L238.99 118.08L239.00 118.48L239.01 118.88L239.03 119.28L239.04 119.68L239.06 120.08L239.07 120.49L239.09 120.90L239.10 121.31L239.12 121.73L239.13 122.14L239.15 122.56L239.16 122.98L239.18 123.40L239.19 123.82L239.21 124.24L239.22 124.67L239.24 125.09L239.25 125.52L239.27 125.95L239.28 126.37L239.30 126.80L239.31 127.23L239.32 127.67L239.34 128.10L239.35 128.53L239.37 128.96L239.38 129.40L239.40 129.83L239.41 130.27L239.43 130.70L239.44 131.13L239.46 131.57L239.47 132.00L239.49 132.44L239.50 132.87L239.51 133.31L239.53 133.74L239.54 134.17L239.56 134.60L239.57 135.04L239.59 135.47L239.60 135.90L239.61 136.33L239.63 136.75L239.64 137.18L239.66 137.61L239.67 138.03L239.68 138.46L239.70 138.88L239.71 139.30L239.72 139.72L239.74 140.13L239.75 140.55L239.76 140.94L239.77 141.33L239.79 141.72L239.80 142.12L239.81 142.51L239.82 142.90L239.83 143.30L239.85 143.69L239.86 144.09L239.87 144.49L239.88 144.88L239.89 145.28L239.90 145.68L239.91 146.08L239.92 146.48L239.94 146.88L239.95 147.28L239.96 147.68L239.97 148.08L239.98 148.48L239.99 148.89L240.00 149.29L240.01 149.69L240.02 150.09L240.03 150.50L240.04 150.90L240.05 151.31L240.06 151.71L240.07 152.12L240.08 152.52L240.09 152.93L240.10 153.33L240.11 153.74L240.12 154.15L240.13 154.55L240.14 154.96L240.15 155.37L240.16 155.77L240.17 156.18L240.19 156.59L240.20 157.00L240.21 157.40L240.22 157.81L240.23 158.22L240.24 158.63L240.25 159.04L240.26 159.44L240.27 159.85L240.28 160.26L240.29 160.67L240.30 161.07L240.31 161.48L240.32 161.89L240.33 162.29L240.34 162.70L240.35 163.11L240.37 163.52L240.38 163.92L240.39 164.33L240.40 164.73L240.41 165.14L240.42 165.55L240.43 165.95L240.44 166.36L240.46 166.76L240.47 167.16L240.48 167.57L240.49 167.97L240.50 168.38L240.52 168.78L240.53 169.18L240.54 169.58L240.56 169.98L240.57 170.39L240.58 170.79L240.59 171.19L240.61 171.59L240.62 171.98L240.63 172.38L240.65 172.78L240.66 173.18L240.68 173.58L240.69 173.97L240.71 174.37L240.72 174.76L240.73 175.16L240.75 175.55L240.77 175.96L240.78 176.37L240.80 176.78L240.81 177.19L240.83 177.60L240.85 178.01L240.86 178.43L240.88 178.84L240.90 179.25L240.91 179.67L240.93 180.08L240.95 180.49L240.96 180.91L240.98 181.32L241.00 181.74L241.01 182.15L241.03 182.57L241.05 182.98L241.07 183.40L241.08 183.81L241.10 184.23L241.12 184.64L241.14 185.06L241.16 185.47L241.17 185.89L241.19 186.30L241.21 186.72L241.23 187.13L241.25 187.55L241.26 187.96L241.28 188.37L241.30 188.78L241.32 189.20L241.34 189.61L241.36 190.02L241.38 190.43L241.40 190.84L241.42 191.25L241.44 191.66L241.45 192.07L241.47 192.48L241.49 192.89L241.51 193.29L241.53 193.70L241.55 194.10L241.57 194.51L241.59 194.91L241.61 195.32L241.63 195.72L241.65 196.12L241.67 196.52L241.69 196.92L241.71 197.31L241.74 197.71L241.76 198.11L241.78 198.50L241.80 198.90L241.82 199.29L241.84 199.68L241.86 200.07L241.88 200.46L241.90 200.84L241.92 201.23L241.95 201.61L241.97 202.00L241.99 202.38L242.01 202.76L242.03 203.14L242.05 203.51L242.08 203.89L242.10 204.26L242.12 204.64L242.14 205.01L242.16 205.37L242.19 205.74L242.21 206.11L242.23 206.47L242.25 206.83L242.28 207.19L242.30 207.55L242.33 207.99L242.36 208.43L242.38 208.88L242.41 209.32L242.44 209.76L242.46 210.20L242.49 210.63L242.51 211.07L242.54 211.51L242.56 211.94L242.59 212.37L242.61 212.81L242.64 213.24L242.66 213.67L242.69 214.09L242.71 214.52L242.74 214.95L242.76 215.37L242.79 215.79L242.81 216.21L242.84 216.63L242.86 217.04L242.89 217.46L242.91 217.87L242.94 218.28L242.97 218.69L243.00 219.09L243.02 219.50L243.05 219.90L243.08 220.30L243.11 220.69L243.14 221.09L243.17 221.48L243.21 221.87L243.24 222.25L243.27 222.64L243.31 223.02L243.34 223.39L243.38 223.77L243.42 224.14L243.45 224.51L243.49 224.88L243.53 225.24L243.57 225.60L243.62 225.95L243.66 226.31L243.71 226.66L243.75 227.00L243.80 227.34L243.85 227.68L243.90 228.02L243.95 228.35L244.03 228.82L244.10 229.29L244.18 229.76L244.25 230.23L244.33 230.70L244.41 231.16L244.49 231.62L244.57 232.07L244.65 232.52L244.73 232.96L244.82 233.40L244.91 233.83L245.00 234.25L245.09 234.66L245.19 235.07L245.28 235.46L245.38 235.85L245.49 236.22L245.60 236.59L245.71 236.94L245.82 237.27L245.94 237.60L246.06 237.91L246.19 238.20L246.32 238.49L246.45 238.75L246.71 239.21L246.99 239.63L247.28 240.02L247.58 240.36L247.89 240.67L248.21 240.94L248.53 241.16L248.85 241.30L249.26 241.30L249.67 241.30L250.10 241.30L250.53 241.30L250.95 241.30" fill="none" stroke="#4b0aa5" stroke-width="1.70" stroke-linejoin="round"/>
<path d="M229.35 241.30L229.80 241.30L230.25 241.30L230.70 241.30L231.15 241.30L231.46 241.17L231.78 240.94L232.09 240.68L232.40 240.37L232.71 240.02L233.01 239.64L233.29 239.21L233.55 238.75L233.68 238.49L233.81 238.20L233.93 237.91L234.05 237.60L234.17 237.27L234.28 236.94L234.39 236.59L234.49 236.22L234.59 235.85L234.68 235.46L234.78 235.07L234.87 234.66L234.96 234.25L235.04 233.83L235.12 233.40L235.21 232.96L235.28 232.52L235.36 232.07L235.44 231.62L235.51 231.16L235.59 230.70L235.66 230.23L235.73 229.76L235.81 229.29L235.88 228.82L235.95 228.35L236.00 228.02L236.05 227.68L236.10 227.34L236.14 227.00L236.19 226.66L236.23 226.31L236.27 225.95L236.31 225.60L236.35 225.24L236.39 224.87L236.43 224.51L236.46 224.14L236.50 223.77L236.54 223.39L236.57 223.02L236.60 222.64L236.63 222.25L236.67 221.87L236.70 221.48L236.73 221.09L236.76 220.69L236.79 220.30L236.81 219.90L236.84 219.50L236.87 219.09L236.90 218.69L236.92 218.28L236.95 217.87L236.97 217.46L237.00 217.04L237.02 216.63L237.05 216.21L237.07 215.79L237.10 215.37L237.12 214.94L237.15 214.52L237.17 214.09L237.19 213.67L237.22 213.24L237.24 212.81L237.27 212.37L237.29 211.94L237.31 211.51L237.34 211.07L237.36 210.63L237.39 210.20L237.42 209.76L237.44 209.32L237.47 208.88L237.49 208.43L237.52 207.99L237.55 207.55L237.57 207.19L237.60 206.83L237.62 206.47L237.64 206.11L237.66 205.74L237.69 205.37L237.71 205.01L237.73 204.64L237.75 204.26L237.78 203.89L237.80 203.51L237.82 203.14L237.84 202.76L237.87 202.38L237.89 202.00L237.91 201.61L237.93 201.23L237.96 200.84L237.98 200.46L238.00 200.07L238.02 199.68L238.05 199.29L238.07 198.90L238.09 198.50L238.11 198.11L238.13 197.71L238.16 197.31L238.18 196.92L238.20 196.52L238.22 196.12L238.24 195.72L238.26 195.32L238.29 194.91L238.31 194.51L238.33 194.10L238.35 193.70L238.37 193.29L238.39 192.89L238.41 192.48L238.43 192.07L238.45 191.66L238.47 191.25L238.50 190.84L238.52 190.43L238.54 190.02L238.56 189.61L238.58 189.20L238.60 188.79L238.62 188.37L238.64 187.96L238.65 187.55L238.67 187.13L238.69 186.72L238.71 186.30L238.73 185.89L238.75 185.47L238.77 185.06L238.79 184.64L238.81 184.23L238.82 183.81L238.84 183.40L238.86 182.98L238.88 182.57L238.90 182.15L238.91 181.74L238.93 181.32L238.95 180.91L238.96 180.49L238.98 180.08L239.00 179.67L239.01 179.25L239.03 178.84L239.04 178.43L239.06 178.01L239.08 177.60L239.09 177.19L239.11 176.78L239.12 176.37L239.14 175.96L239.15 175.55L239.16 175.16L239.18 174.76L239.19 174.37L239.20 173.97L239.21 173.58L239.23 173.18L239.24 172.78L239.25 172.38L239.26 171.98L239.27 171.59L239.28 171.19L239.29 170.79L239.30 170.39L239.31 169.98L239.31 169.58L239.32 169.18L239.33 168.78L239.34 168.38L239.35 167.97L239.35 167.57L239.36 167.16L239.37 166.76L239.37 166.36L239.38 165.95L239.39 165.55L239.39 165.14L239.40 164.73L239.41 164.33L239.41 163.92L239.42 163.51L239.42 163.11L239.43 162.70L239.43 162.29L239.44 161.89L239.44 161.48L239.45 161.07L239.45 160.66L239.46 160.26L239.46 159.85L239.47 159.44L239.47 159.03L239.48 158.63L239.48 158.22L239.49 157.81L239.49 157.40L239.50 157.00L239.50 156.59L239.51 156.18L239.51 155.77L239.52 155.37L239.52 154.96L239.53 154.55L239.53 154.15L239.54 153.74L239.54 153.33L239.55 152.93L239.56 152.52L239.56 152.12L239.57 151.71L239.57 151.31L239.58 150.90L239.59 150.50L239.59 150.09L239.60 149.69L239.61 149.29L239.62 148.88L239.62 148.48L239.63 148.08L239.64 147.68L239.65 147.28L239.66 146.88L239.67 146.48L239.68 146.08L239.69 145.68L239.70 145.28L239.71 144.88L239.72 144.49L239.73 144.09L239.74 143.69L239.75 143.30L239.77 142.90L239.78 142.51L239.79 142.12L239.81 141.72L239.82 141.33L239.84 140.94L239.85 140.55L239.87 140.13L239.88 139.72L239.90 139.30L239.92 138.88L239.94 138.45L239.96 138.03L239.98 137.61L239.99 137.18L240.01 136.75L240.04 136.32L240.06 135.90L240.08 135.47L240.10 135.03L240.12 134.60L240.14 134.17L240.17 133.74L240.19 133.30L240.21 132.87L240.24 132.44L240.26 132.00L240.28 131.57L240.31 131.13L240.33 130.70L240.36 130.26L240.38 129.83L240.41 129.40L240.43 128.96L240.46 128.53L240.48 128.10L240.51 127.66L240.54 127.23L240.56 126.80L240.59 126.37L240.61 125.94L240.64 125.52L240.67 125.09L240.69 124.66L240.72 124.24L240.75 123.82L240.77 123.40L240.80 122.98L240.83 122.56L240.85 122.14L240.88 121.73L240.91 121.31L240.93 120.90L240.96 120.49L240.98 120.08L241.01 119.68L241.04 119.28L241.06 118.88L241.09 118.48L241.11 118.08L241.14 117.69L241.16 117.30L241.19 116.91L241.21 116.53L241.24 116.14L241.26 115.77L241.29 115.39L241.31 115.02L241.33 114.65L241.36 114.28L241.38 113.92L241.40 113.56L241.43 113.20L241.45 112.85L241.47 112.50L241.49 112.16L241.51 111.82L241.53 111.48L241.55 111.15L241.57 110.82L241.59 110.50L241.61 110.18L241.63 109.86L241.65 109.55L241.68 109.06L241.71 108.59L241.73 108.12L241.76 107.66L241.78 107.22L241.81 106.78L241.83 106.35L241.86 105.93L241.88 105.52L241.90 105.11L241.92 104.71L241.95 104.31L241.97 103.92L241.99 103.54L242.01 103.15L242.03 102.78L242.05 102.40L242.07 102.03L242.10 101.66L242.12 101.29L242.14 100.92L242.16 100.55L242.18 100.18L242.21 99.81L242.23 99.44L242.25 99.07L242.28 98.69L242.30 98.32L242.32 97.94L242.35 97.55L242.38 97.13L242.41 96.71L242.43 96.29L242.46 95.87L242.49 95.45L242.52 95.03L242.55 94.61L242.58 94.19L242.61 93.78L242.64 93.36L242.67 92.95L242.70 92.53L242.73 92.12L242.76 91.71L242.79 91.30L242.82 90.90L242.85 90.49L242.88 90.09L242.91 89.69L242.95 89.29L242.98 88.89L243.01 88.50L243.05 88.11L243.08 87.72L243.11 87.33L243.15 86.95L243.19 86.51L243.23 86.08L243.27 85.65L243.31 85.22L243.35 84.79L243.39 84.36L243.43 83.94L243.47 83.52L243.51 83.10L243.55 82.68L243.59 82.27L243.64 81.86L243.68 81.46L243.73 81.06L243.78 80.66L243.83 80.27L243.88 79.88L243.94 79.50L243.99 79.12L244.05 78.75L244.12 78.31L244.19 77.88L244.26 77.45L244.33 77.03L244.40 76.61L244.47 76.20L244.55 75.79L244.63 75.39L244.71 75.00L244.81 74.62L244.90 74.24L245.01 73.87L245.13 73.50L245.25 73.15L245.41 72.73L245.57 72.32L245.75 71.92L245.93 71.53L246.12 71.15L246.32 70.78L246.54 70.43L246.76 70.09L247.00 69.76L247.25 69.45L247.52 69.15L247.81 68.87L248.11 68.60L248.43 68.35L248.76 68.11L249.09 67.89L249.44 67.67L249.79 67.46L250.15 67.25L250.51 67.06L250.89 66.88L251.28 66.71L251.68 66.55L252.09 66.40L252.50 66.25L252.92 66.10L253.33 65.96L253.74 65.81L254.15 65.65L254.52 65.51L254.87 65.36L255.23 65.23L255.58 65.09L255.93 64.95L256.29 64.81L256.65 64.67L257.03 64.52L257.42 64.37L257.82 64.21L258.25 64.05L258.58 63.92L258.93 63.78L259.30 63.64L259.68 63.49L260.08 63.33L260.48 63.17L260.90 63.01L261.32 62.84L261.74 62.68L262.17 62.51L262.59 62.34L263.01 62.18L263.43 62.02L263.84 61.86L264.25 61.71L264.64 61.56L265.02 61.42L265.38 61.29L265.72 61.16L266.05 61.05L266.35 60.95L266.84 60.78L267.30 60.62L267.73 60.47L268.14 60.35L268.52 60.24L268.89 60.18L269.25 60.15L269.69 60.17L270.10 60.24L270.49 60.36L270.85 60.55L271.17 60.78L271.47 61.05L271.75 61.38L272.01 61.75L272.25 62.15L272.41 62.48L272.54 62.83L272.66 63.20L272.77 63.60L272.86 64.02L272.96 64.45L273.05 64.91L273.15 65.37L273.25 65.85L273.33 66.19L273.40 66.55L273.48 66.92L273.55 67.30L273.63 67.69L273.71 68.09L273.78 68.50L273.86 68.92L273.93 69.34L274.01 69.76L274.08 70.19L274.15 70.62L274.22 71.05L274.29 71.47L274.36 71.90L274.42 72.32L274.49 72.74L274.55 73.15L274.61 73.55L274.67 73.94L274.73 74.33L274.78 74.70L274.84 75.08L274.89 75.45L274.94 75.82L275.00 76.19L275.05 76.57L275.09 76.95L275.14 77.35L275.19 77.75L275.23 78.17L275.28 78.61L275.32 79.06L275.37 79.53L275.41 80.03L275.45 80.55L275.47 80.84L275.49 81.13L275.51 81.43L275.53 81.74L275.55 82.05L275.57 82.37L275.59 82.69L275.61 83.02L275.62 83.36L275.64 83.70L275.66 84.04L275.67 84.39L275.69 84.75L275.71 85.11L275.72 85.48L275.74 85.85L275.75 86.22L275.76 86.60L275.78 86.98L275.79 87.37L275.80 87.76L275.82 88.16L275.83 88.56L275.84 88.96L275.85 89.36L275.86 89.77L275.88 90.18L275.89 90.60L275.90 91.02L275.91 91.44L275.92 91.86L275.93 92.29L275.94 92.72L275.95 93.15L275.96 93.58L275.97 94.01L275.98 94.45L275.99 94.89L276.00 95.33L276.01 95.77L276.02 96.21L276.03 96.65L276.04 97.10L276.05 97.54L276.06 97.99L276.07 98.43L276.08 98.88L276.09 99.33L276.10 99.78L276.11 100.22L276.12 100.67L276.13 101.12L276.15 101.56L276.16 102.01L276.17 102.46L276.18 102.90L276.19 103.35L276.20 103.79L276.21 104.23L276.23 104.67L276.24 105.11L276.25 105.55L276.26 105.92L276.27 106.29L276.28 106.66L276.29 107.04L276.30 107.41L276.31 107.79L276.32 108.17L276.33 108.55L276.34 108.93L276.36 109.31L276.37 109.69L276.38 110.08L276.39 110.46L276.40 110.85L276.41 111.24L276.42 111.63L276.43 112.02L276.44 112.41L276.45 112.80L276.46 113.20L276.47 113.59L276.48 113.99L276.49 114.38L276.50 114.78L276.51 115.18L276.52 115.58L276.53 115.98L276.54 116.38L276.55 116.78L276.56 117.18L276.57 117.59L276.58 117.99L276.59 118.40L276.60 118.80L276.61 119.21L276.62 119.61L276.63 120.02L276.64 120.43L276.65 120.84L276.66 121.25L276.67 121.66L276.68 122.07L276.69 122.48L276.70 122.89L276.71 123.30L276.72 123.71L276.73 124.12L276.74 124.53L276.75 124.95L276.76 125.36L276.77 125.77L276.78 126.19L276.79 126.60L276.80 127.01L276.81 127.43L276.82 127.84L276.83 128.25L276.84 128.67L276.85 129.08L276.86 129.49L276.88 129.91L276.89 130.32L276.90 130.73L276.91 131.15L276.92 131.56L276.93 131.97L276.94 132.38L276.95 132.80L276.96 133.21L276.97 133.62L276.98 134.03L276.99 134.44L277.00 134.85L277.01 135.26L277.02 135.67L277.03 136.08L277.04 136.49L277.05 136.90L277.06 137.31L277.07 137.72L277.09 138.12L277.10 138.53L277.11 138.93L277.12 139.34L277.13 139.74L277.14 140.15L277.15 140.55L277.16 140.95L277.17 141.36L277.18 141.76L277.19 142.16L277.20 142.56L277.21 142.97L277.22 143.37L277.23 143.77L277.24 144.18L277.25 144.58L277.26 144.99L277.27 145.39L277.28 145.80L277.29 146.20L277.30 146.60L277.31 147.01L277.32 147.41L277.33 147.82L277.34 148.22L277.35 148.63L277.36 149.03L277.37 149.44L277.38 149.84L277.39 150.25L277.40 150.65L277.41 151.06L277.42 151.47L277.43 151.87L277.44 152.28L277.45 152.68L277.46 153.09L277.47 153.49L277.47 153.90L277.48 154.30L277.49 154.71L277.50 155.11L277.51 155.52L277.52 155.92L277.53 156.33L277.54 156.73L277.55 157.14L277.56 157.54L277.57 157.95L277.58 158.35L277.59 158.76L277.60 159.16L277.61 159.56L277.62 159.97L277.63 160.37L277.65 160.78L277.66 161.18L277.67 161.58L277.68 161.99L277.69 162.39L277.70 162.79L277.71 163.20L277.72 163.60L277.73 164.00L277.75 164.40L277.76 164.81L277.77 165.21L277.78 165.61L277.79 166.01L277.81 166.41L277.82 166.81L277.83 167.21L277.85 167.61L277.86 168.01L277.87 168.41L277.89 168.81L277.90 169.21L277.91 169.61L277.93 170.01L277.94 170.41L277.96 170.80L277.97 171.20L277.99 171.60L278.00 172.00L278.02 172.39L278.03 172.79L278.05 173.18L278.07 173.58L278.08 173.97L278.10 174.37L278.12 174.76L278.13 175.16L278.15 175.55L278.17 175.96L278.19 176.37L278.21 176.78L278.23 177.19L278.25 177.60L278.27 178.01L278.29 178.43L278.31 178.84L278.33 179.25L278.35 179.67L278.37 180.08L278.39 180.49L278.41 180.91L278.44 181.32L278.46 181.74L278.48 182.15L278.50 182.57L278.53 182.98L278.55 183.40L278.57 183.81L278.60 184.23L278.62 184.64L278.64 185.06L278.67 185.47L278.69 185.89L278.72 186.30L278.74 186.72L278.77 187.13L278.79 187.55L278.82 187.96L278.84 188.37L278.87 188.78L278.89 189.20L278.92 189.61L278.94 190.02L278.97 190.43L279.00 190.84L279.02 191.25L279.05 191.66L279.07 192.07L279.10 192.48L279.13 192.89L279.15 193.29L279.18 193.70L279.21 194.10L279.23 194.51L279.26 194.91L279.29 195.31L279.31 195.72L279.34 196.12L279.36 196.52L279.39 196.92L279.42 197.31L279.44 197.71L279.47 198.11L279.50 198.50L279.52 198.89L279.55 199.29L279.58 199.68L279.60 200.07L279.63 200.46L279.65 200.84L279.68 201.23L279.71 201.61L279.73 202.00L279.76 202.38L279.78 202.76L279.81 203.14L279.83 203.51L279.86 203.89L279.88 204.26L279.91 204.63L279.93 205.01L279.96 205.37L279.98 205.74L280.01 206.11L280.03 206.47L280.05 206.83L280.08 207.19L280.10 207.55L280.13 207.99L280.16 208.43L280.18 208.88L280.21 209.32L280.23 209.76L280.26 210.19L280.28 210.63L280.31 211.07L280.33 211.51L280.35 211.94L280.37 212.37L280.39 212.81L280.41 213.24L280.44 213.67L280.46 214.09L280.48 214.52L280.50 214.94L280.52 215.37L280.54 215.79L280.56 216.21L280.58 216.63L280.60 217.04L280.62 217.46L280.64 217.87L280.66 218.28L280.68 218.69L280.71 219.09L280.73 219.50L280.75 219.90L280.77 220.30L280.80 220.69L280.82 221.09L280.85 221.48L280.88 221.87L280.90 222.25L280.93 222.64L280.96 223.02L280.99 223.39L281.02 223.77L281.06 224.14L281.09 224.51L281.12 224.88L281.16 225.24L281.20 225.60L281.24 225.95L281.28 226.31L281.32 226.66L281.36 227.00L281.41 227.34L281.45 227.68L281.50 228.02L281.55 228.35L281.62 228.82L281.70 229.29L281.77 229.76L281.85 230.23L281.92 230.70L282.00 231.16L282.08 231.62L282.16 232.07L282.24 232.52L282.33 232.96L282.41 233.40L282.50 233.83L282.59 234.25L282.68 234.66L282.78 235.07L282.88 235.46L282.98 235.85L283.08 236.22L283.19 236.59L283.30 236.94L283.42 237.27L283.54 237.60L283.66 237.91L283.78 238.20L283.92 238.49L284.05 238.75L284.31 239.21L284.59 239.63L284.89 240.02L285.19 240.37L285.50 240.67L285.81 240.94L286.13 241.17L286.45 241.30L286.84 241.30L287.24 241.30L287.64 241.30L288.05 241.30L288.45 241.30" fill="none" stroke="#1400f0" stroke-width="1.70" stroke-linejoin="round"/>
<path d="M267.35 241.30L267.76 241.30L268.17 241.30L268.57 241.30L268.97 241.30L269.35 241.30L269.64 241.16L269.93 240.93L270.20 240.66L270.47 240.35L270.73 240.01L270.98 239.62L271.22 239.20L271.45 238.75L271.57 238.48L271.69 238.20L271.81 237.91L271.93 237.59L272.04 237.27L272.14 236.93L272.25 236.58L272.35 236.22L272.45 235.84L272.55 235.46L272.64 235.06L272.73 234.66L272.82 234.24L272.91 233.82L273.00 233.39L273.08 232.96L273.16 232.52L273.25 232.07L273.33 231.61L273.40 231.16L273.48 230.69L273.56 230.23L273.63 229.76L273.70 229.29L273.78 228.82L273.85 228.35L273.90 228.02L273.95 227.68L274.00 227.34L274.04 227.00L274.09 226.66L274.13 226.31L274.17 225.95L274.21 225.60L274.25 225.24L274.29 224.87L274.33 224.51L274.37 224.14L274.40 223.77L274.44 223.39L274.47 223.02L274.50 222.64L274.54 222.25L274.57 221.87L274.60 221.48L274.63 221.09L274.66 220.69L274.69 220.30L274.72 219.90L274.75 219.50L274.77 219.09L274.80 218.69L274.83 218.28L274.85 217.87L274.88 217.46L274.90 217.04L274.93 216.63L274.95 216.21L274.98 215.79L275.00 215.37L275.03 214.94L275.05 214.52L275.07 214.09L275.10 213.67L275.12 213.24L275.15 212.81L275.17 212.37L275.19 211.94L275.22 211.51L275.24 211.07L275.27 210.63L275.29 210.20L275.32 209.76L275.34 209.32L275.37 208.88L275.40 208.43L275.42 207.99L275.45 207.55L275.47 207.19L275.49 206.83L275.52 206.47L275.54 206.11L275.56 205.74L275.58 205.37L275.60 205.01L275.62 204.64L275.64 204.26L275.66 203.89L275.68 203.51L275.71 203.14L275.73 202.76L275.75 202.38L275.77 202.00L275.79 201.61L275.81 201.23L275.83 200.84L275.85 200.46L275.87 200.07L275.89 199.68L275.91 199.29L275.92 198.90L275.94 198.50L275.96 198.11L275.98 197.71L276.00 197.31L276.02 196.92L276.04 196.52L276.06 196.12L276.08 195.72L276.10 195.32L276.11 194.91L276.13 194.51L276.15 194.10L276.17 193.70L276.19 193.29L276.21 192.89L276.23 192.48L276.24 192.07L276.26 191.66L276.28 191.25L276.30 190.84L276.32 190.43L276.33 190.02L276.35 189.61L276.37 189.20L276.39 188.78L276.40 188.37L276.42 187.96L276.44 187.54L276.46 187.13L276.48 186.72L276.49 186.30L276.51 185.89L276.53 185.47L276.55 185.06L276.56 184.64L276.58 184.23L276.60 183.81L276.62 183.40L276.63 182.98L276.65 182.57L276.67 182.15L276.69 181.74L276.70 181.32L276.72 180.91L276.74 180.49L276.76 180.08L276.77 179.67L276.79 179.25L276.81 178.84L276.83 178.43L276.84 178.01L276.86 177.60L276.88 177.19L276.90 176.78L276.91 176.37L276.93 175.96L276.95 175.55L276.97 175.16L276.98 174.76L277.00 174.37L277.02 173.97L277.03 173.58L277.05 173.18L277.07 172.79L277.09 172.39L277.10 171.99L277.12 171.60L277.14 171.20L277.15 170.80L277.17 170.41L277.19 170.01L277.20 169.61L277.22 169.21L277.23 168.81L277.25 168.41L277.27 168.01L277.28 167.61L277.30 167.21L277.32 166.81L277.33 166.41L277.35 166.01L277.36 165.61L277.38 165.21L277.40 164.80L277.41 164.40L277.43 164.00L277.45 163.60L277.46 163.19L277.48 162.79L277.49 162.39L277.51 161.99L277.53 161.58L277.54 161.18L277.56 160.78L277.57 160.37L277.59 159.97L277.61 159.56L277.62 159.16L277.64 158.76L277.65 158.35L277.67 157.95L277.68 157.54L277.70 157.14L277.72 156.73L277.73 156.33L277.75 155.92L277.76 155.52L277.78 155.11L277.80 154.71L277.81 154.30L277.83 153.90L277.84 153.49L277.86 153.09L277.87 152.68L277.89 152.27L277.91 151.87L277.92 151.46L277.94 151.06L277.95 150.65L277.97 150.25L277.98 149.84L278.00 149.44L278.02 149.03L278.03 148.63L278.05 148.22L278.06 147.82L278.08 147.41L278.09 147.01L278.11 146.60L278.13 146.20L278.14 145.79L278.16 145.39L278.17 144.99L278.19 144.58L278.21 144.18L278.22 143.77L278.24 143.37L278.25 142.97L278.27 142.56L278.29 142.16L278.30 141.76L278.32 141.36L278.33 140.95L278.35 140.55L278.37 140.15L278.38 139.74L278.40 139.34L278.41 138.93L278.43 138.53L278.45 138.12L278.46 137.72L278.48 137.31L278.50 136.90L278.51 136.49L278.53 136.08L278.54 135.67L278.56 135.26L278.58 134.85L278.59 134.44L278.61 134.03L278.63 133.62L278.64 133.21L278.66 132.80L278.67 132.38L278.69 131.97L278.71 131.56L278.72 131.15L278.74 130.73L278.76 130.32L278.77 129.91L278.79 129.49L278.80 129.08L278.82 128.67L278.84 128.25L278.85 127.84L278.87 127.43L278.89 127.01L278.90 126.60L278.92 126.19L278.93 125.77L278.95 125.36L278.97 124.95L278.98 124.53L279.00 124.12L279.02 123.71L279.03 123.30L279.05 122.89L279.06 122.48L279.08 122.07L279.10 121.66L279.11 121.25L279.13 120.84L279.15 120.43L279.16 120.02L279.18 119.61L279.19 119.21L279.21 118.80L279.23 118.40L279.24 117.99L279.26 117.59L279.28 117.18L279.29 116.78L279.31 116.38L279.32 115.98L279.34 115.58L279.36 115.18L279.37 114.78L279.39 114.38L279.40 113.99L279.42 113.59L279.44 113.20L279.45 112.80L279.47 112.41L279.48 112.02L279.50 111.63L279.51 111.24L279.53 110.85L279.55 110.46L279.56 110.08L279.58 109.69L279.59 109.31L279.61 108.93L279.63 108.55L279.64 108.17L279.66 107.79L279.67 107.41L279.69 107.04L279.70 106.66L279.72 106.29L279.73 105.92L279.75 105.55L279.77 105.11L279.79 104.67L279.80 104.23L279.82 103.79L279.84 103.35L279.86 102.91L279.88 102.46L279.90 102.02L279.91 101.58L279.93 101.13L279.95 100.69L279.97 100.24L279.99 99.80L280.00 99.35L280.02 98.91L280.04 98.46L280.06 98.02L280.08 97.58L280.09 97.14L280.11 96.70L280.13 96.26L280.15 95.82L280.17 95.38L280.18 94.94L280.20 94.51L280.22 94.08L280.24 93.64L280.26 93.21L280.27 92.79L280.29 92.36L280.31 91.94L280.33 91.52L280.34 91.10L280.36 90.68L280.38 90.27L280.40 89.86L280.42 89.45L280.43 89.05L280.45 88.64L280.47 88.25L280.49 87.85L280.50 87.46L280.52 87.07L280.54 86.69L280.56 86.31L280.57 85.93L280.59 85.56L280.61 85.19L280.63 84.83L280.64 84.47L280.66 84.12L280.68 83.77L280.69 83.42L280.71 83.08L280.73 82.74L280.75 82.41L280.76 82.09L280.78 81.77L280.80 81.46L280.82 81.15L280.83 80.85L280.85 80.55L280.88 80.04L280.91 79.55L280.94 79.08L280.97 78.62L281.00 78.18L281.03 77.76L281.05 77.35L281.08 76.95L281.11 76.55L281.14 76.17L281.17 75.79L281.20 75.41L281.23 75.04L281.26 74.66L281.29 74.29L281.32 73.91L281.35 73.53L281.38 73.15L281.42 72.75L281.45 72.35L281.48 71.94L281.52 71.53L281.55 71.11L281.58 70.69L281.62 70.27L281.65 69.85L281.68 69.43L281.72 69.01L281.75 68.58L281.79 68.17L281.82 67.75L281.86 67.34L281.90 66.93L281.94 66.52L281.99 66.13L282.03 65.73L282.08 65.35L282.14 64.97L282.19 64.61L282.25 64.25L282.33 63.79L282.41 63.34L282.49 62.89L282.57 62.45L282.66 62.02L282.75 61.60L282.85 61.19L282.95 60.79L283.06 60.41L283.18 60.04L283.31 59.69L283.45 59.35L283.64 58.94L283.83 58.55L284.03 58.19L284.24 57.85L284.48 57.53L284.75 57.23L285.05 56.95L285.34 56.72L285.65 56.52L285.98 56.33L286.34 56.15L286.71 55.99L287.10 55.85L287.50 55.71L287.92 55.58L288.35 55.45L288.68 55.36L289.03 55.28L289.39 55.22L289.76 55.16L290.14 55.10L290.53 55.05L290.92 55.01L291.33 54.97L291.74 54.93L292.16 54.90L292.58 54.86L293.01 54.82L293.44 54.79L293.87 54.75L294.31 54.70L294.75 54.65L295.13 54.60L295.54 54.55L295.96 54.50L296.39 54.45L296.84 54.39L297.29 54.33L297.76 54.28L298.23 54.22L298.70 54.16L299.17 54.10L299.64 54.04L300.11 53.98L300.57 53.93L301.02 53.87L301.46 53.82L301.88 53.77L302.29 53.73L302.68 53.69L303.05 53.65L303.39 53.62L303.70 53.59L303.99 53.57L304.25 53.55L304.88 53.50L305.36 53.48L305.85 53.55L306.27 53.66L306.71 53.82L307.14 54.03L307.57 54.27L307.95 54.55L308.26 54.84L308.56 55.15L308.83 55.50L309.09 55.89L309.33 56.30L309.55 56.75L309.69 57.08L309.82 57.43L309.94 57.80L310.04 58.19L310.15 58.60L310.24 59.02L310.33 59.44L310.41 59.88L310.50 60.32L310.58 60.77L310.66 61.21L310.75 61.65L310.82 62.03L310.90 62.41L310.97 62.80L311.03 63.20L311.10 63.60L311.16 64.00L311.23 64.40L311.29 64.81L311.35 65.22L311.41 65.64L311.47 66.05L311.53 66.47L311.58 66.89L311.64 67.31L311.69 67.73L311.75 68.15L311.80 68.54L311.85 68.92L311.90 69.30L311.95 69.66L311.99 70.03L312.04 70.39L312.08 70.76L312.12 71.13L312.17 71.51L312.21 71.89L312.25 72.29L312.29 72.69L312.33 73.12L312.38 73.56L312.42 74.02L312.46 74.51L312.51 75.01L312.55 75.55L312.57 75.82L312.59 76.09L312.62 76.38L312.64 76.66L312.66 76.96L312.68 77.26L312.71 77.57L312.73 77.88L312.75 78.20L312.78 78.52L312.80 78.85L312.82 79.18L312.85 79.52L312.87 79.87L312.90 80.22L312.92 80.57L312.94 80.93L312.97 81.30L312.99 81.67L313.02 82.04L313.04 82.42L313.06 82.80L313.09 83.18L313.11 83.57L313.14 83.97L313.16 84.36L313.19 84.76L313.21 85.17L313.24 85.57L313.26 85.98L313.29 86.40L313.31 86.81L313.33 87.23L313.36 87.65L313.38 88.07L313.41 88.50L313.43 88.93L313.46 89.36L313.48 89.79L313.50 90.22L313.53 90.66L313.55 91.09L313.58 91.53L313.60 91.97L313.62 92.41L313.65 92.85L313.67 93.30L313.69 93.74L313.72 94.18L313.74 94.63L313.76 95.07L313.79 95.52L313.81 95.96L313.83 96.41L313.85 96.86L313.88 97.30L313.90 97.75L313.92 98.19L313.94 98.63L313.96 99.08L313.98 99.52L314.00 99.96L314.02 100.40L314.04 100.84L314.06 101.28L314.08 101.71L314.10 102.15L314.12 102.58L314.14 103.01L314.16 103.44L314.18 103.87L314.20 104.29L314.22 104.71L314.23 105.13L314.25 105.55L314.27 105.94L314.28 106.32L314.30 106.71L314.31 107.10L314.33 107.49L314.34 107.88L314.36 108.27L314.37 108.67L314.38 109.06L314.40 109.45L314.41 109.84L314.42 110.24L314.44 110.63L314.45 111.03L314.46 111.42L314.48 111.82L314.49 112.22L314.50 112.61L314.51 113.01L314.53 113.41L314.54 113.81L314.55 114.21L314.56 114.61L314.57 115.01L314.58 115.41L314.59 115.81L314.60 116.21L314.62 116.61L314.63 117.02L314.64 117.42L314.65 117.82L314.66 118.22L314.67 118.63L314.68 119.03L314.69 119.44L314.70 119.84L314.71 120.24L314.72 120.65L314.73 121.05L314.73 121.46L314.74 121.87L314.75 122.27L314.76 122.68L314.77 123.08L314.78 123.49L314.79 123.90L314.80 124.30L314.81 124.71L314.82 125.12L314.82 125.52L314.83 125.93L314.84 126.34L314.85 126.75L314.86 127.15L314.87 127.56L314.88 127.97L314.88 128.38L314.89 128.78L314.90 129.19L314.91 129.60L314.92 130.01L314.93 130.41L314.94 130.82L314.94 131.23L314.95 131.63L314.96 132.04L314.97 132.45L314.98 132.86L314.99 133.26L315.00 133.67L315.00 134.08L315.01 134.48L315.02 134.89L315.03 135.29L315.04 135.70L315.05 136.11L315.06 136.51L315.07 136.92L315.07 137.32L315.08 137.73L315.09 138.13L315.10 138.53L315.11 138.94L315.12 139.34L315.13 139.74L315.14 140.15L315.15 140.55L315.16 140.95L315.17 141.35L315.18 141.76L315.19 142.16L315.20 142.56L315.21 142.97L315.21 143.37L315.22 143.77L315.23 144.18L315.24 144.58L315.25 144.99L315.26 145.39L315.27 145.79L315.27 146.20L315.28 146.60L315.29 147.01L315.30 147.41L315.31 147.82L315.31 148.22L315.32 148.63L315.33 149.03L315.34 149.44L315.34 149.84L315.35 150.25L315.36 150.65L315.37 151.06L315.37 151.46L315.38 151.87L315.39 152.28L315.40 152.68L315.40 153.09L315.41 153.49L315.42 153.90L315.43 154.30L315.43 154.71L315.44 155.11L315.45 155.52L315.46 155.92L315.46 156.33L315.47 156.73L315.48 157.14L315.49 157.54L315.49 157.95L315.50 158.35L315.51 158.76L315.52 159.16L315.52 159.56L315.53 159.97L315.54 160.37L315.55 160.78L315.56 161.18L315.57 161.58L315.57 161.99L315.58 162.39L315.59 162.79L315.60 163.20L315.61 163.60L315.62 164.00L315.63 164.40L315.64 164.80L315.64 165.21L315.65 165.61L315.66 166.01L315.67 166.41L315.68 166.81L315.69 167.21L315.70 167.61L315.71 168.01L315.72 168.41L315.74 168.81L315.75 169.21L315.76 169.61L315.77 170.01L315.78 170.41L315.79 170.80L315.80 171.20L315.82 171.60L315.83 172.00L315.84 172.39L315.85 172.79L315.87 173.18L315.88 173.58L315.89 173.97L315.91 174.37L315.92 174.76L315.94 175.16L315.95 175.55L315.97 175.96L315.98 176.37L316.00 176.78L316.01 177.19L316.03 177.60L316.05 178.02L316.06 178.43L316.08 178.85L316.10 179.26L316.12 179.68L316.13 180.09L316.15 180.51L316.17 180.92L316.19 181.34L316.21 181.76L316.23 182.17L316.25 182.59L316.27 183.01L316.29 183.43L316.31 183.84L316.33 184.26L316.35 184.68L316.37 185.10L316.39 185.51L316.41 185.93L316.43 186.35L316.45 186.76L316.47 187.18L316.49 187.60L316.51 188.01L316.54 188.43L316.56 188.84L316.58 189.26L316.60 189.67L316.62 190.09L316.64 190.50L316.67 190.91L316.69 191.33L316.71 191.74L316.73 192.15L316.75 192.56L316.78 192.97L316.80 193.38L316.82 193.78L316.84 194.19L316.87 194.60L316.89 195.00L316.91 195.41L316.93 195.81L316.96 196.21L316.98 196.61L317.00 197.01L317.02 197.41L317.05 197.80L317.07 198.20L317.09 198.59L317.11 198.99L317.14 199.38L317.16 199.77L317.18 200.16L317.20 200.54L317.22 200.93L317.25 201.31L317.27 201.69L317.29 202.07L317.31 202.45L317.33 202.83L317.35 203.20L317.38 203.58L317.40 203.95L317.42 204.32L317.44 204.69L317.46 205.05L317.48 205.41L317.50 205.78L317.52 206.14L317.54 206.49L317.56 206.85L317.58 207.20L317.60 207.55L317.62 208.00L317.65 208.45L317.67 208.90L317.70 209.34L317.72 209.79L317.74 210.23L317.76 210.67L317.78 211.11L317.80 211.55L317.82 211.98L317.84 212.42L317.86 212.85L317.88 213.28L317.90 213.71L317.92 214.13L317.94 214.56L317.96 214.98L317.98 215.40L317.99 215.82L318.01 216.23L318.03 216.65L318.05 217.06L318.07 217.47L318.09 217.87L318.11 218.28L318.13 218.68L318.15 219.08L318.17 219.47L318.20 219.86L318.22 220.25L318.24 220.64L318.26 221.03L318.29 221.41L318.31 221.79L318.34 222.16L318.36 222.53L318.39 222.90L318.42 223.27L318.45 223.63L318.48 223.99L318.51 224.35L318.54 224.70L318.57 225.05L318.60 225.40L318.64 225.74L318.67 226.08L318.71 226.42L318.75 226.75L318.80 227.22L318.86 227.68L318.91 228.14L318.96 228.59L319.01 229.04L319.06 229.48L319.11 229.91L319.16 230.34L319.21 230.76L319.27 231.18L319.32 231.59L319.38 232.00L319.44 232.40L319.51 232.79L319.58 233.18L319.65 233.56L319.73 233.93L319.81 234.30L319.90 234.66L320.00 235.01L320.10 235.35L320.21 235.69L320.33 236.03L320.45 236.35L320.63 236.77L320.82 237.20L321.02 237.62L321.23 238.03L321.45 238.44L321.68 238.83L321.92 239.20L322.16 239.56L322.40 239.90L322.65 240.21L322.90 240.49L323.15 240.75L323.40 240.97L323.65 241.15L324.10 241.30L324.56 241.30L325.02 241.30L325.49 241.30L325.95 241.30" fill="none" stroke="#0538a8" stroke-width="1.70" stroke-linejoin="round"/>
<path d="M303.85 241.30L304.25 241.30L304.66 241.30L305.08 241.30L305.48 241.30L305.87 241.30L306.25 241.25L306.49 241.07L306.73 240.85L306.96 240.60L307.19 240.32L307.41 240.01L307.63 239.67L307.84 239.31L308.05 238.93L308.25 238.53L308.44 238.11L308.63 237.68L308.81 237.25L308.99 236.80L309.15 236.35L309.25 236.05L309.35 235.73L309.45 235.41L309.53 235.07L309.62 234.73L309.70 234.37L309.78 234.01L309.85 233.64L309.92 233.26L309.99 232.88L310.05 232.49L310.11 232.09L310.17 231.69L310.22 231.28L310.28 230.87L310.33 230.45L310.38 230.03L310.43 229.60L310.47 229.17L310.52 228.74L310.56 228.31L310.61 227.88L310.65 227.44L310.69 227.01L310.74 226.57L310.78 226.13L310.82 225.70L310.87 225.27L310.91 224.83L310.96 224.40L311.00 223.97L311.05 223.55L311.09 223.17L311.13 222.80L311.18 222.42L311.21 222.05L311.25 221.68L311.29 221.30L311.33 220.93L311.36 220.56L311.40 220.18L311.43 219.81L311.47 219.43L311.50 219.06L311.53 218.68L311.57 218.31L311.60 217.93L311.63 217.55L311.66 217.17L311.69 216.78L311.72 216.40L311.75 216.01L311.78 215.62L311.81 215.23L311.84 214.83L311.87 214.43L311.90 214.03L311.93 213.63L311.96 213.22L311.98 212.81L312.01 212.40L312.04 211.98L312.07 211.56L312.10 211.13L312.13 210.70L312.16 210.27L312.19 209.83L312.22 209.38L312.25 208.93L312.29 208.48L312.32 208.02L312.35 207.55L312.37 207.22L312.40 206.88L312.42 206.54L312.44 206.20L312.47 205.85L312.49 205.51L312.52 205.16L312.54 204.80L312.56 204.45L312.59 204.09L312.61 203.72L312.64 203.36L312.66 202.99L312.69 202.62L312.71 202.25L312.74 201.88L312.76 201.50L312.79 201.12L312.81 200.74L312.84 200.36L312.86 199.97L312.89 199.58L312.91 199.20L312.94 198.80L312.96 198.41L312.99 198.02L313.01 197.62L313.04 197.22L313.06 196.82L313.09 196.42L313.11 196.02L313.14 195.61L313.17 195.21L313.19 194.80L313.22 194.39L313.24 193.98L313.27 193.57L313.29 193.16L313.32 192.74L313.34 192.33L313.37 191.91L313.39 191.50L313.42 191.08L313.44 190.66L313.47 190.24L313.49 189.82L313.51 189.40L313.54 188.98L313.56 188.56L313.59 188.14L313.61 187.72L313.64 187.30L313.66 186.87L313.68 186.45L313.71 186.03L313.73 185.60L313.76 185.18L313.78 184.76L313.80 184.33L313.82 183.91L313.85 183.49L313.87 183.06L313.89 182.64L313.92 182.22L313.94 181.80L313.96 181.38L313.98 180.95L314.00 180.53L314.03 180.11L314.05 179.69L314.07 179.28L314.09 178.86L314.11 178.44L314.13 178.03L314.15 177.61L314.17 177.20L314.19 176.78L314.21 176.37L314.23 175.96L314.25 175.55L314.27 175.16L314.29 174.76L314.30 174.37L314.32 173.97L314.34 173.58L314.36 173.18L314.37 172.79L314.39 172.39L314.41 172.00L314.42 171.60L314.44 171.20L314.46 170.80L314.47 170.41L314.49 170.01L314.50 169.61L314.52 169.21L314.54 168.81L314.55 168.41L314.57 168.01L314.58 167.61L314.60 167.21L314.61 166.81L314.62 166.41L314.64 166.01L314.65 165.61L314.67 165.21L314.68 164.81L314.70 164.40L314.71 164.00L314.72 163.60L314.74 163.20L314.75 162.79L314.76 162.39L314.78 161.99L314.79 161.58L314.80 161.18L314.82 160.78L314.83 160.37L314.84 159.97L314.86 159.56L314.87 159.16L314.88 158.76L314.89 158.35L314.91 157.95L314.92 157.54L314.93 157.14L314.94 156.73L314.96 156.33L314.97 155.92L314.98 155.52L314.99 155.11L315.01 154.71L315.02 154.30L315.03 153.90L315.04 153.49L315.06 153.09L315.07 152.68L315.08 152.28L315.09 151.87L315.10 151.46L315.12 151.06L315.13 150.65L315.14 150.25L315.15 149.84L315.17 149.44L315.18 149.03L315.19 148.63L315.20 148.22L315.22 147.82L315.23 147.41L315.24 147.01L315.25 146.60L315.27 146.20L315.28 145.79L315.29 145.39L315.30 144.99L315.32 144.58L315.33 144.18L315.34 143.77L315.36 143.37L315.37 142.97L315.38 142.56L315.40 142.16L315.41 141.76L315.42 141.36L315.44 140.95L315.45 140.55L315.46 140.15L315.48 139.74L315.49 139.34L315.51 138.94L315.52 138.53L315.53 138.13L315.55 137.73L315.56 137.32L315.58 136.92L315.59 136.51L315.60 136.11L315.62 135.70L315.63 135.29L315.65 134.89L315.66 134.48L315.68 134.08L315.69 133.67L315.70 133.26L315.72 132.86L315.73 132.45L315.75 132.04L315.76 131.64L315.78 131.23L315.79 130.82L315.81 130.41L315.82 130.01L315.83 129.60L315.85 129.19L315.86 128.78L315.88 128.38L315.89 127.97L315.91 127.56L315.92 127.15L315.94 126.75L315.95 126.34L315.96 125.93L315.98 125.53L315.99 125.12L316.01 124.71L316.02 124.30L316.04 123.90L316.05 123.49L316.06 123.08L316.08 122.68L316.09 122.27L316.11 121.87L316.12 121.46L316.14 121.06L316.15 120.65L316.16 120.25L316.18 119.84L316.19 119.44L316.21 119.03L316.22 118.63L316.23 118.23L316.25 117.82L316.26 117.42L316.28 117.02L316.29 116.62L316.30 116.21L316.32 115.81L316.33 115.41L316.34 115.01L316.36 114.61L316.37 114.21L316.38 113.81L316.40 113.41L316.41 113.01L316.42 112.62L316.44 112.22L316.45 111.82L316.46 111.43L316.48 111.03L316.49 110.63L316.50 110.24L316.52 109.85L316.53 109.45L316.54 109.06L316.55 108.67L316.57 108.27L316.58 107.88L316.59 107.49L316.60 107.10L316.61 106.71L316.63 106.33L316.64 105.94L316.65 105.55L316.66 105.13L316.67 104.71L316.69 104.29L316.70 103.87L316.71 103.44L316.72 103.01L316.73 102.58L316.75 102.15L316.76 101.71L316.77 101.28L316.78 100.84L316.79 100.40L316.80 99.96L316.81 99.52L316.82 99.08L316.83 98.64L316.84 98.19L316.85 97.75L316.86 97.30L316.87 96.86L316.88 96.41L316.89 95.97L316.90 95.52L316.91 95.08L316.92 94.63L316.93 94.19L316.94 93.74L316.95 93.30L316.96 92.86L316.97 92.41L316.97 91.97L316.98 91.53L316.99 91.10L317.00 90.66L317.01 90.22L317.02 89.79L317.03 89.36L317.04 88.93L317.05 88.50L317.06 88.08L317.07 87.65L317.08 87.23L317.09 86.81L317.10 86.40L317.11 85.98L317.11 85.58L317.12 85.17L317.13 84.77L317.14 84.37L317.15 83.97L317.16 83.58L317.17 83.19L317.18 82.80L317.20 82.42L317.21 82.04L317.22 81.67L317.23 81.30L317.24 80.94L317.25 80.58L317.26 80.22L317.27 79.87L317.28 79.53L317.29 79.19L317.31 78.85L317.32 78.52L317.33 78.20L317.34 77.88L317.36 77.57L317.37 77.26L317.38 76.96L317.39 76.66L317.41 76.38L317.42 76.09L317.44 75.82L317.45 75.55L317.48 75.01L317.51 74.51L317.54 74.03L317.57 73.57L317.60 73.13L317.63 72.71L317.66 72.31L317.70 71.92L317.73 71.53L317.76 71.16L317.80 70.79L317.83 70.43L317.86 70.06L317.90 69.69L317.94 69.32L317.97 68.94L318.01 68.55L318.05 68.15L318.09 67.74L318.13 67.33L318.16 66.92L318.20 66.50L318.24 66.08L318.28 65.67L318.32 65.25L318.36 64.83L318.40 64.42L318.44 64.01L318.48 63.60L318.53 63.19L318.58 62.79L318.63 62.39L318.68 62.00L318.73 61.61L318.79 61.23L318.85 60.85L318.92 60.41L318.99 59.96L319.06 59.52L319.13 59.09L319.21 58.65L319.28 58.23L319.36 57.81L319.45 57.40L319.55 57.00L319.66 56.62L319.77 56.25L319.90 55.89L320.05 55.55L320.26 55.13L320.48 54.72L320.71 54.34L320.97 53.97L321.23 53.63L321.52 53.31L321.83 53.01L322.15 52.75L322.49 52.52L322.84 52.33L323.20 52.16L323.59 52.01L323.99 51.88L324.42 51.77L324.87 51.66L325.35 51.55L325.68 51.48L326.02 51.42L326.38 51.36L326.75 51.31L327.13 51.27L327.52 51.23L327.93 51.19L328.34 51.16L328.76 51.13L329.18 51.11L329.61 51.08L330.04 51.06L330.48 51.04L330.92 51.02L331.35 51.01L331.79 50.99L332.22 50.97L332.65 50.95L333.04 50.93L333.45 50.91L333.87 50.90L334.29 50.88L334.72 50.87L335.16 50.85L335.60 50.84L336.04 50.83L336.49 50.82L336.93 50.81L337.38 50.80L337.81 50.80L338.25 50.79L338.67 50.79L339.09 50.79L339.50 50.79L339.90 50.80L340.28 50.80L340.65 50.81L341.00 50.82L341.33 50.83L341.65 50.85L342.14 50.87L342.59 50.89L343.01 50.91L343.41 50.94L343.79 50.98L344.16 51.04L344.51 51.13L344.85 51.25L345.23 51.42L345.59 51.63L345.93 51.86L346.25 52.12L346.56 52.42L346.85 52.75L347.08 53.06L347.30 53.41L347.51 53.78L347.71 54.17L347.90 54.59L348.07 55.01L348.24 55.45L348.40 55.90L348.55 56.35L348.66 56.72L348.76 57.09L348.86 57.48L348.94 57.87L349.02 58.28L349.10 58.68L349.17 59.10L349.23 59.52L349.30 59.94L349.36 60.36L349.42 60.79L349.48 61.22L349.55 61.65L349.61 62.04L349.66 62.43L349.72 62.82L349.77 63.22L349.82 63.62L349.87 64.02L349.92 64.42L349.97 64.83L350.01 65.24L350.06 65.65L350.11 66.06L350.15 66.48L350.20 66.90L350.25 67.31L350.30 67.73L350.35 68.15L350.40 68.54L350.45 68.92L350.50 69.30L350.55 69.67L350.60 70.03L350.66 70.40L350.71 70.76L350.76 71.13L350.82 71.51L350.87 71.89L350.92 72.29L350.97 72.69L351.02 73.12L351.07 73.56L351.12 74.02L351.16 74.50L351.21 75.01L351.25 75.55L351.27 75.82L351.29 76.09L351.31 76.38L351.33 76.66L351.34 76.96L351.36 77.26L351.38 77.57L351.40 77.88L351.41 78.20L351.43 78.52L351.44 78.85L351.46 79.18L351.48 79.52L351.49 79.87L351.50 80.22L351.52 80.57L351.53 80.93L351.55 81.30L351.56 81.67L351.57 82.04L351.58 82.42L351.60 82.80L351.61 83.18L351.62 83.57L351.63 83.97L351.64 84.36L351.65 84.76L351.67 85.17L351.68 85.57L351.69 85.98L351.70 86.40L351.71 86.81L351.72 87.23L351.73 87.65L351.74 88.07L351.75 88.50L351.76 88.93L351.77 89.36L351.78 89.79L351.79 90.22L351.80 90.66L351.81 91.09L351.81 91.53L351.82 91.97L351.83 92.41L351.84 92.85L351.85 93.30L351.86 93.74L351.87 94.19L351.88 94.63L351.89 95.08L351.90 95.52L351.91 95.97L351.92 96.41L351.93 96.86L351.94 97.30L351.95 97.75L351.96 98.19L351.97 98.64L351.98 99.08L351.99 99.52L352.00 99.96L352.01 100.40L352.02 100.84L352.03 101.28L352.04 101.71L352.05 102.15L352.06 102.58L352.07 103.01L352.09 103.44L352.10 103.87L352.11 104.29L352.12 104.71L352.14 105.13L352.15 105.55L352.16 105.94L352.17 106.33L352.19 106.71L352.20 107.10L352.21 107.49L352.23 107.88L352.24 108.27L352.25 108.67L352.26 109.06L352.28 109.45L352.29 109.85L352.30 110.24L352.32 110.63L352.33 111.03L352.34 111.43L352.36 111.82L352.37 112.22L352.38 112.62L352.40 113.01L352.41 113.41L352.42 113.81L352.44 114.21L352.45 114.61L352.46 115.01L352.48 115.41L352.49 115.81L352.50 116.21L352.52 116.61L352.53 117.02L352.55 117.42L352.56 117.82L352.57 118.23L352.59 118.63L352.60 119.03L352.62 119.44L352.63 119.84L352.64 120.25L352.66 120.65L352.67 121.06L352.69 121.46L352.70 121.87L352.71 122.27L352.73 122.68L352.74 123.08L352.76 123.49L352.77 123.90L352.78 124.30L352.80 124.71L352.81 125.12L352.83 125.52L352.84 125.93L352.86 126.34L352.87 126.75L352.88 127.15L352.90 127.56L352.91 127.97L352.93 128.38L352.94 128.78L352.96 129.19L352.97 129.60L352.98 130.01L353.00 130.41L353.01 130.82L353.03 131.23L353.04 131.64L353.06 132.04L353.07 132.45L353.08 132.86L353.10 133.26L353.11 133.67L353.13 134.08L353.14 134.48L353.15 134.89L353.17 135.29L353.18 135.70L353.20 136.11L353.21 136.51L353.22 136.92L353.24 137.32L353.25 137.73L353.27 138.13L353.28 138.53L353.29 138.94L353.31 139.34L353.32 139.74L353.34 140.15L353.35 140.55L353.36 140.95L353.38 141.36L353.39 141.76L353.40 142.16L353.42 142.56L353.43 142.97L353.45 143.37L353.46 143.77L353.47 144.18L353.49 144.58L353.50 144.99L353.51 145.39L353.53 145.79L353.54 146.20L353.55 146.60L353.57 147.01L353.58 147.41L353.59 147.82L353.61 148.22L353.62 148.63L353.63 149.03L353.65 149.44L353.66 149.84L353.67 150.25L353.69 150.65L353.70 151.06L353.71 151.46L353.72 151.87L353.74 152.28L353.75 152.68L353.76 153.09L353.78 153.49L353.79 153.90L353.80 154.30L353.82 154.71L353.83 155.11L353.84 155.52L353.86 155.92L353.87 156.33L353.88 156.73L353.90 157.14L353.91 157.54L353.92 157.95L353.94 158.35L353.95 158.76L353.96 159.16L353.98 159.56L353.99 159.97L354.00 160.37L354.02 160.78L354.03 161.18L354.04 161.58L354.06 161.99L354.07 162.39L354.08 162.79L354.10 163.20L354.11 163.60L354.13 164.00L354.14 164.40L354.15 164.80L354.17 165.21L354.18 165.61L354.20 166.01L354.21 166.41L354.22 166.81L354.24 167.21L354.25 167.61L354.27 168.01L354.28 168.41L354.30 168.81L354.31 169.21L354.32 169.61L354.34 170.01L354.35 170.41L354.37 170.80L354.38 171.20L354.40 171.60L354.41 171.99L354.43 172.39L354.44 172.79L354.46 173.18L354.47 173.58L354.49 173.97L354.50 174.37L354.52 174.76L354.53 175.16L354.55 175.55L354.57 175.96L354.58 176.37L354.60 176.78L354.62 177.19L354.63 177.60L354.65 178.02L354.67 178.43L354.68 178.84L354.70 179.26L354.72 179.67L354.73 180.09L354.75 180.51L354.77 180.92L354.79 181.34L354.80 181.76L354.82 182.17L354.84 182.59L354.86 183.01L354.87 183.42L354.89 183.84L354.91 184.26L354.93 184.68L354.94 185.09L354.96 185.51L354.98 185.93L355.00 186.35L355.02 186.76L355.03 187.18L355.05 187.60L355.07 188.01L355.09 188.43L355.11 188.84L355.13 189.26L355.14 189.67L355.16 190.09L355.18 190.50L355.20 190.91L355.22 191.33L355.24 191.74L355.25 192.15L355.27 192.56L355.29 192.97L355.31 193.38L355.33 193.78L355.35 194.19L355.37 194.60L355.38 195.00L355.40 195.41L355.42 195.81L355.44 196.21L355.46 196.61L355.48 197.01L355.50 197.41L355.52 197.80L355.53 198.20L355.55 198.59L355.57 198.99L355.59 199.38L355.61 199.77L355.63 200.16L355.65 200.54L355.67 200.93L355.68 201.31L355.70 201.69L355.72 202.07L355.74 202.45L355.76 202.83L355.78 203.20L355.80 203.58L355.81 203.95L355.83 204.32L355.85 204.69L355.87 205.05L355.89 205.41L355.91 205.78L355.93 206.14L355.94 206.49L355.96 206.85L355.98 207.20L356.00 207.55L356.02 208.00L356.05 208.45L356.07 208.90L356.09 209.34L356.11 209.79L356.13 210.23L356.15 210.67L356.17 211.11L356.19 211.55L356.21 211.98L356.23 212.42L356.25 212.85L356.27 213.28L356.29 213.71L356.31 214.14L356.33 214.56L356.35 214.98L356.37 215.40L356.39 215.82L356.40 216.23L356.42 216.65L356.44 217.06L356.46 217.47L356.48 217.87L356.50 218.28L356.52 218.68L356.55 219.08L356.57 219.47L356.59 219.86L356.61 220.25L356.63 220.64L356.66 221.03L356.68 221.41L356.71 221.79L356.73 222.16L356.76 222.53L356.79 222.90L356.82 223.27L356.84 223.63L356.87 223.99L356.91 224.35L356.94 224.70L356.97 225.05L357.00 225.40L357.04 225.74L357.07 226.08L357.11 226.42L357.15 226.75L357.20 227.22L357.26 227.68L357.31 228.14L357.36 228.59L357.41 229.04L357.46 229.48L357.51 229.91L357.56 230.34L357.61 230.76L357.67 231.18L357.72 231.59L357.78 232.00L357.84 232.40L357.91 232.79L357.98 233.18L358.05 233.56L358.13 233.93L358.21 234.30L358.30 234.66L358.40 235.01L358.50 235.35L358.61 235.69L358.73 236.03L358.85 236.35L359.03 236.77L359.22 237.20L359.42 237.62L359.63 238.03L359.85 238.43L360.08 238.83L360.31 239.20L360.55 239.56L360.80 239.90L361.04 240.21L361.30 240.49L361.55 240.75L361.80 240.97L362.05 241.15L362.44 241.30L362.83 241.30L363.23 241.30L363.64 241.30L364.05 241.30L364.45 241.30" fill="none" stroke="#0a5a7d" stroke-width="1.70" stroke-linejoin="round"/>
<path d="M341.35 241.30L341.77 241.30L342.20 241.30L342.63 241.30L343.05 241.30L343.46 241.30L343.85 241.25L344.09 241.07L344.33 240.84L344.57 240.59L344.80 240.29L345.02 239.97L345.24 239.63L345.45 239.26L345.66 238.87L345.86 238.47L346.06 238.06L346.24 237.63L346.42 237.21L346.59 236.78L346.75 236.35L346.86 236.02L346.97 235.69L347.07 235.35L347.16 235.00L347.25 234.64L347.33 234.28L347.41 233.92L347.48 233.54L347.55 233.16L347.61 232.78L347.67 232.38L347.73 231.99L347.78 231.58L347.84 231.17L347.89 230.76L347.94 230.33L347.99 229.91L348.04 229.47L348.08 229.03L348.13 228.59L348.19 228.14L348.24 227.68L348.29 227.22L348.35 226.75L348.39 226.42L348.43 226.08L348.47 225.74L348.51 225.40L348.55 225.05L348.59 224.70L348.63 224.35L348.66 223.99L348.70 223.63L348.74 223.27L348.77 222.90L348.81 222.53L348.84 222.16L348.88 221.78L348.91 221.41L348.95 221.02L348.98 220.64L349.02 220.25L349.05 219.86L349.08 219.47L349.12 219.07L349.15 218.68L349.18 218.28L349.21 217.87L349.24 217.47L349.28 217.06L349.31 216.65L349.34 216.23L349.37 215.82L349.40 215.40L349.43 214.98L349.46 214.56L349.49 214.14L349.52 213.71L349.55 213.28L349.59 212.85L349.62 212.42L349.65 211.98L349.68 211.55L349.71 211.11L349.74 210.67L349.77 210.23L349.80 209.79L349.83 209.34L349.86 208.90L349.89 208.45L349.92 208.00L349.95 207.55L349.97 207.20L350.00 206.85L350.02 206.49L350.04 206.14L350.07 205.78L350.09 205.42L350.12 205.05L350.14 204.69L350.16 204.32L350.19 203.95L350.21 203.58L350.23 203.21L350.25 202.83L350.28 202.45L350.30 202.08L350.32 201.69L350.35 201.31L350.37 200.93L350.39 200.54L350.41 200.16L350.44 199.77L350.46 199.38L350.48 198.99L350.50 198.59L350.53 198.20L350.55 197.81L350.57 197.41L350.59 197.01L350.62 196.61L350.64 196.21L350.66 195.81L350.68 195.41L350.70 195.00L350.72 194.60L350.75 194.19L350.77 193.79L350.79 193.38L350.81 192.97L350.83 192.56L350.85 192.15L350.87 191.74L350.90 191.33L350.92 190.92L350.94 190.50L350.96 190.09L350.98 189.68L351.00 189.26L351.02 188.85L351.04 188.43L351.06 188.01L351.08 187.60L351.10 187.18L351.12 186.76L351.15 186.35L351.17 185.93L351.19 185.51L351.21 185.10L351.23 184.68L351.25 184.26L351.27 183.84L351.29 183.43L351.31 183.01L351.33 182.59L351.35 182.17L351.36 181.76L351.38 181.34L351.40 180.92L351.42 180.51L351.44 180.09L351.46 179.67L351.48 179.26L351.50 178.85L351.52 178.43L351.54 178.02L351.56 177.60L351.58 177.19L351.59 176.78L351.61 176.37L351.63 175.96L351.65 175.55L351.67 175.16L351.69 174.76L351.70 174.37L351.72 173.97L351.74 173.58L351.75 173.18L351.77 172.79L351.79 172.39L351.80 171.99L351.82 171.60L351.84 171.20L351.85 170.80L351.87 170.41L351.89 170.01L351.90 169.61L351.92 169.21L351.93 168.81L351.95 168.41L351.97 168.01L351.98 167.61L352.00 167.21L352.01 166.81L352.03 166.41L352.04 166.01L352.06 165.61L352.07 165.21L352.09 164.80L352.10 164.40L352.12 164.00L352.13 163.60L352.15 163.20L352.16 162.79L352.18 162.39L352.19 161.99L352.21 161.58L352.22 161.18L352.24 160.78L352.25 160.37L352.27 159.97L352.28 159.56L352.29 159.16L352.31 158.76L352.32 158.35L352.34 157.95L352.35 157.54L352.37 157.14L352.38 156.73L352.39 156.33L352.41 155.92L352.42 155.52L352.44 155.11L352.45 154.71L352.46 154.30L352.48 153.90L352.49 153.49L352.51 153.09L352.52 152.68L352.53 152.28L352.55 151.87L352.56 151.46L352.58 151.06L352.59 150.65L352.60 150.25L352.62 149.84L352.63 149.44L352.65 149.03L352.66 148.63L352.68 148.22L352.69 147.82L352.70 147.41L352.72 147.01L352.73 146.60L352.75 146.20L352.76 145.79L352.77 145.39L352.79 144.99L352.80 144.58L352.82 144.18L352.83 143.77L352.85 143.37L352.86 142.97L352.88 142.56L352.89 142.16L352.91 141.76L352.92 141.36L352.94 140.95L352.95 140.55L352.96 140.15L352.98 139.74L352.99 139.34L353.01 138.94L353.02 138.53L353.04 138.13L353.05 137.73L353.07 137.32L353.08 136.92L353.10 136.51L353.11 136.11L353.13 135.70L353.14 135.29L353.16 134.89L353.17 134.48L353.18 134.08L353.20 133.67L353.21 133.26L353.23 132.86L353.24 132.45L353.26 132.04L353.27 131.63L353.29 131.23L353.30 130.82L353.31 130.41L353.33 130.01L353.34 129.60L353.36 129.19L353.37 128.78L353.39 128.38L353.40 127.97L353.41 127.56L353.43 127.15L353.44 126.75L353.46 126.34L353.47 125.93L353.49 125.52L353.50 125.12L353.51 124.71L353.53 124.30L353.54 123.90L353.56 123.49L353.57 123.08L353.59 122.68L353.60 122.27L353.62 121.87L353.63 121.46L353.64 121.06L353.66 120.65L353.67 120.25L353.69 119.84L353.70 119.44L353.72 119.03L353.73 118.63L353.75 118.22L353.76 117.82L353.78 117.42L353.79 117.02L353.81 116.61L353.82 116.21L353.84 115.81L353.85 115.41L353.87 115.01L353.88 114.61L353.90 114.21L353.91 113.81L353.93 113.41L353.94 113.01L353.96 112.62L353.97 112.22L353.99 111.82L354.01 111.42L354.02 111.03L354.04 110.63L354.05 110.24L354.07 109.84L354.09 109.45L354.10 109.06L354.12 108.67L354.13 108.27L354.15 107.88L354.17 107.49L354.18 107.10L354.20 106.71L354.22 106.32L354.23 105.94L354.25 105.55L354.27 105.13L354.29 104.71L354.31 104.29L354.32 103.87L354.34 103.44L354.36 103.01L354.38 102.58L354.40 102.15L354.42 101.71L354.44 101.28L354.46 100.84L354.48 100.40L354.50 99.96L354.52 99.52L354.54 99.08L354.56 98.64L354.58 98.19L354.60 97.75L354.63 97.30L354.65 96.86L354.67 96.41L354.69 95.97L354.71 95.52L354.73 95.08L354.75 94.63L354.77 94.19L354.80 93.74L354.82 93.30L354.84 92.86L354.86 92.41L354.88 91.97L354.90 91.53L354.93 91.10L354.95 90.66L354.97 90.22L354.99 89.79L355.01 89.36L355.03 88.93L355.06 88.50L355.08 88.08L355.10 87.65L355.12 87.23L355.14 86.81L355.16 86.40L355.18 85.99L355.20 85.58L355.23 85.17L355.25 84.77L355.27 84.37L355.29 83.97L355.31 83.58L355.33 83.19L355.35 82.80L355.37 82.42L355.39 82.04L355.41 81.67L355.43 81.30L355.45 80.94L355.47 80.58L355.49 80.22L355.51 79.87L355.53 79.53L355.54 79.19L355.56 78.85L355.58 78.52L355.60 78.20L355.62 77.88L355.63 77.57L355.65 77.26L355.67 76.96L355.69 76.66L355.70 76.38L355.72 76.09L355.73 75.82L355.75 75.55L355.78 75.01L355.81 74.51L355.84 74.02L355.86 73.56L355.89 73.12L355.91 72.70L355.93 72.29L355.96 71.89L355.98 71.51L356.00 71.13L356.03 70.76L356.05 70.39L356.08 70.03L356.11 69.66L356.14 69.30L356.17 68.92L356.21 68.54L356.25 68.15L356.29 67.73L356.34 67.31L356.39 66.89L356.44 66.48L356.49 66.06L356.54 65.65L356.59 65.24L356.65 64.83L356.70 64.42L356.76 64.02L356.82 63.61L356.88 63.21L356.95 62.82L357.01 62.43L357.08 62.04L357.15 61.65L357.23 61.22L357.30 60.78L357.38 60.34L357.45 59.90L357.53 59.46L357.61 59.03L357.70 58.61L357.79 58.19L357.88 57.79L357.99 57.40L358.10 57.03L358.22 56.68L358.35 56.35L358.54 55.93L358.73 55.53L358.94 55.15L359.16 54.80L359.40 54.48L359.66 54.20L359.95 53.95L360.29 53.72L360.66 53.54L361.05 53.40L361.46 53.29L361.90 53.21L362.35 53.15L362.71 53.12L363.07 53.12L363.45 53.14L363.84 53.17L364.24 53.22L364.66 53.28L365.08 53.34L365.52 53.41L365.98 53.48L366.45 53.55L366.80 53.60L367.16 53.65L367.53 53.71L367.92 53.77L368.32 53.84L368.73 53.91L369.14 53.98L369.56 54.05L369.99 54.13L370.42 54.20L370.85 54.28L371.28 54.36L371.71 54.44L372.14 54.52L372.56 54.59L372.98 54.67L373.39 54.74L373.79 54.81L374.17 54.88L374.55 54.95L374.99 55.03L375.44 55.10L375.88 55.17L376.32 55.24L376.76 55.31L377.19 55.38L377.62 55.44L378.03 55.51L378.44 55.58L378.83 55.65L379.21 55.72L379.58 55.80L379.92 55.87L380.25 55.95L380.72 56.07L381.16 56.17L381.56 56.28L381.95 56.41L382.31 56.56L382.65 56.75L383.02 57.02L383.36 57.32L383.68 57.67L383.97 58.04L384.25 58.45L384.45 58.78L384.64 59.14L384.81 59.51L384.98 59.91L385.13 60.32L385.28 60.75L385.42 61.19L385.55 61.65L385.64 62.00L385.73 62.36L385.80 62.74L385.88 63.12L385.94 63.51L386.00 63.91L386.06 64.32L386.12 64.74L386.17 65.16L386.23 65.59L386.28 66.03L386.34 66.46L386.39 66.91L386.45 67.35L386.50 67.72L386.55 68.09L386.60 68.45L386.64 68.81L386.69 69.17L386.74 69.54L386.78 69.90L386.83 70.27L386.87 70.65L386.91 71.03L386.96 71.42L387.00 71.83L387.05 72.24L387.09 72.66L387.13 73.10L387.18 73.55L387.22 74.03L387.26 74.51L387.31 75.02L387.35 75.55L387.37 75.83L387.39 76.11L387.42 76.40L387.44 76.70L387.46 77.00L387.48 77.31L387.51 77.62L387.53 77.94L387.55 78.26L387.57 78.59L387.60 78.92L387.62 79.26L387.64 79.61L387.66 79.95L387.68 80.31L387.71 80.67L387.73 81.03L387.75 81.39L387.77 81.76L387.80 82.14L387.82 82.52L387.84 82.90L387.86 83.29L387.88 83.68L387.91 84.07L387.93 84.47L387.95 84.87L387.97 85.27L387.99 85.67L388.02 86.08L388.04 86.49L388.06 86.91L388.08 87.32L388.10 87.74L388.12 88.17L388.15 88.59L388.17 89.01L388.19 89.44L388.21 89.87L388.23 90.30L388.25 90.73L388.27 91.17L388.30 91.60L388.32 92.04L388.34 92.48L388.36 92.92L388.38 93.36L388.40 93.80L388.42 94.24L388.44 94.68L388.46 95.12L388.49 95.56L388.51 96.01L388.53 96.45L388.55 96.89L388.57 97.33L388.59 97.78L388.61 98.22L388.63 98.66L388.65 99.10L388.67 99.54L388.69 99.98L388.71 100.42L388.73 100.85L388.75 101.29L388.77 101.72L388.79 102.16L388.81 102.59L388.83 103.02L388.85 103.44L388.87 103.87L388.89 104.29L388.91 104.71L388.93 105.13L388.95 105.55L388.97 105.94L388.99 106.32L389.00 106.71L389.02 107.10L389.04 107.49L389.06 107.88L389.07 108.27L389.09 108.67L389.11 109.06L389.13 109.45L389.14 109.84L389.16 110.24L389.18 110.63L389.20 111.03L389.21 111.42L389.23 111.82L389.25 112.22L389.26 112.62L389.28 113.01L389.30 113.41L389.31 113.81L389.33 114.21L389.35 114.61L389.36 115.01L389.38 115.41L389.40 115.81L389.41 116.21L389.43 116.61L389.45 117.02L389.46 117.42L389.48 117.82L389.49 118.22L389.51 118.63L389.53 119.03L389.54 119.44L389.56 119.84L389.57 120.24L389.59 120.65L389.61 121.05L389.62 121.46L389.64 121.87L389.65 122.27L389.67 122.68L389.69 123.08L389.70 123.49L389.72 123.90L389.73 124.30L389.75 124.71L389.76 125.12L389.78 125.52L389.79 125.93L389.81 126.34L389.83 126.75L389.84 127.15L389.86 127.56L389.87 127.97L389.89 128.38L389.90 128.78L389.92 129.19L389.93 129.60L389.95 130.01L389.97 130.41L389.98 130.82L390.00 131.23L390.01 131.63L390.03 132.04L390.04 132.45L390.06 132.86L390.07 133.26L390.09 133.67L390.10 134.08L390.12 134.48L390.13 134.89L390.15 135.29L390.16 135.70L390.18 136.11L390.20 136.51L390.21 136.92L390.23 137.32L390.24 137.73L390.26 138.13L390.27 138.53L390.29 138.94L390.30 139.34L390.32 139.74L390.33 140.15L390.35 140.55L390.37 140.95L390.38 141.35L390.40 141.76L390.41 142.16L390.43 142.56L390.44 142.97L390.46 143.37L390.47 143.77L390.49 144.18L390.50 144.58L390.52 144.99L390.54 145.39L390.55 145.79L390.57 146.20L390.58 146.60L390.60 147.01L390.61 147.41L390.63 147.82L390.64 148.22L390.66 148.63L390.67 149.03L390.69 149.44L390.70 149.84L390.72 150.25L390.73 150.65L390.75 151.06L390.76 151.46L390.78 151.87L390.79 152.27L390.81 152.68L390.82 153.09L390.84 153.49L390.85 153.90L390.87 154.30L390.88 154.71L390.90 155.11L390.92 155.52L390.93 155.92L390.95 156.33L390.96 156.73L390.98 157.14L390.99 157.54L391.00 157.95L391.02 158.35L391.03 158.75L391.05 159.16L391.06 159.56L391.08 159.97L391.09 160.37L391.11 160.77L391.12 161.18L391.14 161.58L391.15 161.99L391.17 162.39L391.18 162.79L391.20 163.19L391.21 163.60L391.23 164.00L391.24 164.40L391.26 164.80L391.27 165.21L391.29 165.61L391.30 166.01L391.32 166.41L391.33 166.81L391.35 167.21L391.36 167.61L391.37 168.01L391.39 168.41L391.40 168.81L391.42 169.21L391.43 169.61L391.45 170.01L391.46 170.40L391.48 170.80L391.49 171.20L391.51 171.60L391.52 171.99L391.53 172.39L391.55 172.79L391.56 173.18L391.58 173.58L391.59 173.97L391.61 174.37L391.62 174.76L391.64 175.16L391.65 175.55L391.66 175.96L391.68 176.37L391.69 176.78L391.71 177.19L391.72 177.60L391.74 178.02L391.75 178.43L391.77 178.84L391.78 179.26L391.80 179.67L391.81 180.09L391.83 180.51L391.84 180.92L391.86 181.34L391.87 181.75L391.89 182.17L391.90 182.59L391.92 183.01L391.93 183.42L391.95 183.84L391.96 184.26L391.97 184.68L391.99 185.09L392.00 185.51L392.02 185.93L392.03 186.35L392.05 186.76L392.06 187.18L392.08 187.60L392.09 188.01L392.10 188.43L392.12 188.84L392.13 189.26L392.15 189.67L392.16 190.09L392.18 190.50L392.19 190.91L392.21 191.33L392.22 191.74L392.23 192.15L392.25 192.56L392.26 192.97L392.28 193.38L392.29 193.78L392.31 194.19L392.32 194.60L392.33 195.00L392.35 195.40L392.36 195.81L392.38 196.21L392.39 196.61L392.41 197.01L392.42 197.41L392.43 197.80L392.45 198.20L392.46 198.59L392.48 198.99L392.49 199.38L392.50 199.77L392.52 200.16L392.53 200.54L392.55 200.93L392.56 201.31L392.58 201.69L392.59 202.07L392.60 202.45L392.62 202.83L392.63 203.20L392.65 203.58L392.66 203.95L392.67 204.32L392.69 204.69L392.70 205.05L392.72 205.41L392.73 205.78L392.74 206.14L392.76 206.49L392.77 206.85L392.79 207.20L392.80 207.55L392.82 208.00L392.83 208.45L392.85 208.89L392.87 209.34L392.88 209.78L392.89 210.22L392.91 210.66L392.92 211.10L392.93 211.54L392.94 211.97L392.95 212.40L392.97 212.83L392.98 213.26L392.99 213.69L393.00 214.11L393.01 214.53L393.02 214.95L393.03 215.37L393.04 215.78L393.05 216.20L393.06 216.61L393.07 217.02L393.08 217.42L393.09 217.83L393.11 218.23L393.12 218.63L393.13 219.03L393.15 219.42L393.16 219.81L393.18 220.20L393.19 220.59L393.21 220.97L393.23 221.35L393.25 221.73L393.27 222.11L393.29 222.48L393.31 222.85L393.34 223.22L393.36 223.59L393.39 223.95L393.41 224.31L393.44 224.67L393.47 225.02L393.51 225.37L393.54 225.72L393.57 226.07L393.61 226.41L393.65 226.75L393.70 227.21L393.76 227.67L393.81 228.13L393.86 228.58L393.92 229.04L393.97 229.48L394.02 229.93L394.08 230.37L394.14 230.80L394.20 231.23L394.26 231.66L394.32 232.08L394.39 232.49L394.46 232.90L394.53 233.30L394.61 233.69L394.69 234.07L394.77 234.45L394.86 234.82L394.96 235.18L395.06 235.53L395.16 235.88L395.28 236.21L395.39 236.53L395.52 236.85L395.65 237.15L395.85 237.56L396.06 237.97L396.29 238.36L396.52 238.75L396.77 239.12L397.02 239.47L397.28 239.80L397.54 240.11L397.81 240.39L398.07 240.65L398.34 240.88L398.60 241.08L398.85 241.25L399.27 241.30L399.69 241.30L400.11 241.30L400.53 241.30L400.95 241.30" fill="none" stroke="#19aa05" stroke-width="1.70" stroke-linejoin="round"/>
</g>
<text x="209.06" y="129.20" font-size="12.20" fill="#000" stroke="#000" stroke-width="0.22" textLength="24.28" lengthAdjust="spacingAndGlyphs" >MB1</text>
<text x="246.16" y="129.20" font-size="12.20" fill="#000" stroke="#000" stroke-width="0.22" textLength="24.28" lengthAdjust="spacingAndGlyphs" >MB2</text>
<text x="284.26" y="129.20" font-size="12.20" fill="#000" stroke="#000" stroke-width="0.22" textLength="24.28" lengthAdjust="spacingAndGlyphs" >MB3</text>
<text x="321.46" y="129.20" font-size="12.20" fill="#000" stroke="#000" stroke-width="0.22" textLength="24.28" lengthAdjust="spacingAndGlyphs" >MB4</text>
<text x="359.06" y="129.20" font-size="12.20" fill="#000" stroke="#000" stroke-width="0.22" textLength="24.28" lengthAdjust="spacingAndGlyphs" >MB5</text>
<line x1="51.20" y1="241.55" x2="55.50" y2="241.55" stroke="#000" stroke-width="1.00"/>
<text x="28.44" y="245.95" font-size="12.20" fill="#000" stroke="#000" stroke-width="0.22" textLength="17.66" lengthAdjust="spacingAndGlyphs" >0.0</text>
<line x1="51.20" y1="185.55" x2="55.50" y2="185.55" stroke="#000" stroke-width="1.00"/>
<text x="28.44" y="189.95" font-size="12.20" fill="#000" stroke="#000" stroke-width="0.22" textLength="17.66" lengthAdjust="spacingAndGlyphs" >0.2</text>
<line x1="51.20" y1="129.50" x2="55.50" y2="129.50" stroke="#000" stroke-width="1.00"/>
<text x="28.44" y="133.90" font-size="12.20" fill="#000" stroke="#000" stroke-width="0.22" textLength="17.66" lengthAdjust="spacingAndGlyphs" >0.4</text>
<line x1="51.20" y1="72.75" x2="55.50" y2="72.75" stroke="#000" stroke-width="1.00"/>
<text x="28.44" y="77.15" font-size="12.20" fill="#000" stroke="#000" stroke-width="0.22" textLength="17.66" lengthAdjust="spacingAndGlyphs" >0.6</text>
<text x="40.75" y="259.40" font-size="12.20" fill="#000" stroke="#000" stroke-width="0.22" textLength="13.80" lengthAdjust="spacingAndGlyphs" >30</text>
<line x1="55.50" y1="21.32" x2="55.50" y2="388.80" stroke="#000" stroke-width="1.20"/>
<line x1="683.40" y1="21.32" x2="683.40" y2="388.80" stroke="#000" stroke-width="1.20"/>
<line x1="54.90" y1="22.00" x2="684.00" y2="22.00" stroke="#000" stroke-width="1.40"/>
<text x="0.00" y="0.00" font-size="12.20" fill="#000" stroke="#000" stroke-width="0.22" textLength="75.80" lengthAdjust="spacingAndGlyphs" transform="translate(19.8 169.3) rotate(-90)">Transmission</text>
<rect x="56.10" y="241.30" width="626.70" height="146.60" fill="#fff"/>
<clipPath id="cb"><rect x="55.50" y="241.30" width="627.90" height="146.60"/></clipPath>
<g clip-path="url(#cb)">
<path d="M55.50 387.90L62.80 387.90L66.50 387.40L66.90 387.31L67.30 387.23L67.71 387.15L68.11 387.07L68.51 386.99L68.91 386.90L69.31 386.81L69.71 386.71L70.10 386.60L70.49 386.48L70.87 386.37L71.25 386.24L71.63 386.12L72.01 385.98L72.39 385.83L72.76 385.67L73.13 385.50L73.50 385.30L73.83 385.11L74.16 384.91L74.49 384.70L74.82 384.47L75.15 384.24L75.48 383.99L75.79 383.74L76.11 383.47L76.41 383.19L76.71 382.90L77.00 382.60L77.26 382.30L77.52 381.99L77.77 381.66L78.01 381.32L78.25 380.98L78.49 380.62L78.71 380.25L78.94 379.88L79.16 379.51L79.37 379.13L79.58 378.75L79.79 378.37L80.00 378.00L80.19 377.64L80.38 377.28L80.56 376.91L80.74 376.54L80.91 376.17L81.08 375.79L81.25 375.41L81.42 375.03L81.58 374.65L81.75 374.28L81.91 373.90L82.07 373.53L82.24 373.16L82.40 372.80L82.58 372.41L82.76 372.02L82.94 371.63L83.11 371.25L83.29 370.86L83.46 370.48L83.63 370.10L83.81 369.72L83.98 369.34L84.15 368.96L84.33 368.58L84.50 368.20L86.30 365.30L92.20 355.00L98.80 340.60L101.70 337.80L106.60 334.60L113.30 330.40L119.10 329.10L127.80 327.00L133.00 324.00L138.90 320.40L144.10 316.60L151.10 311.70L159.80 306.40L168.50 300.90L177.20 295.20L183.30 291.20L183.70 290.95L184.10 290.69L184.51 290.44L184.91 290.21L185.30 290.00L185.72 289.79L186.14 289.59L186.56 289.45L186.96 289.40L187.47 289.48L187.96 289.68L188.40 290.00L188.63 290.27L188.84 290.59L189.02 290.96L189.19 291.37L189.35 291.78L189.50 292.20L189.63 292.57L189.74 292.96L189.84 293.36L189.94 293.77L190.03 294.19L190.12 294.62L190.21 295.06L190.30 295.50L190.38 295.87L190.46 296.23L190.53 296.59L190.61 296.95L190.68 297.31L190.76 297.69L190.83 298.09L190.90 298.52L190.98 298.97L191.05 299.47L191.13 300.00L191.17 300.26L191.20 300.54L191.24 300.82L191.28 301.12L191.31 301.42L191.35 301.73L191.39 302.06L191.43 302.39L191.46 302.73L191.50 303.08L191.54 303.44L191.58 303.81L191.62 304.18L191.66 304.56L191.70 304.95L191.74 305.34L191.78 305.74L191.82 306.14L191.86 306.55L191.90 306.97L191.94 307.39L191.97 307.81L192.01 308.24L192.05 308.67L192.09 309.10L192.13 309.54L192.17 309.98L192.21 310.42L192.25 310.87L192.29 311.31L192.33 311.76L192.37 312.20L192.40 312.65L192.44 313.10L192.48 313.55L192.52 313.99L192.55 314.44L192.59 314.88L192.62 315.33L192.66 315.77L192.70 316.21L192.73 316.64L192.76 317.08L192.80 317.51L192.83 317.93L192.86 318.36L192.90 318.78L192.93 319.19L192.96 319.60L192.99 320.00L193.02 320.40L193.05 320.80L193.08 321.20L193.11 321.60L193.13 322.00L193.16 322.40L193.19 322.80L193.21 323.20L193.24 323.60L193.26 324.00L193.29 324.40L193.31 324.80L193.34 325.20L193.36 325.60L193.38 326.00L193.40 326.40L193.43 326.80L193.45 327.20L193.47 327.60L193.49 328.00L193.51 328.40L193.54 328.80L193.56 329.20L193.58 329.60L193.60 330.00L193.62 330.40L193.64 330.80L193.66 331.20L193.68 331.60L193.70 332.00L193.72 332.40L193.74 332.80L193.77 333.20L193.79 333.60L193.81 334.00L193.83 334.40L193.85 334.80L193.87 335.20L193.89 335.60L193.91 336.00L193.94 336.40L193.96 336.80L193.98 337.20L194.00 337.60L194.03 338.00L194.05 338.40L194.08 338.80L194.10 339.20L194.12 339.60L194.15 340.00L194.18 340.40L194.20 340.81L194.23 341.22L194.26 341.63L194.29 342.05L194.32 342.47L194.34 342.90L194.37 343.33L194.41 343.76L194.44 344.19L194.47 344.62L194.50 345.06L194.53 345.49L194.56 345.93L194.59 346.37L194.63 346.81L194.66 347.25L194.69 347.68L194.72 348.12L194.76 348.56L194.79 349.00L194.82 349.43L194.86 349.87L194.89 350.30L194.92 350.73L194.95 351.16L194.98 351.58L195.01 352.01L195.04 352.43L195.08 352.84L195.11 353.25L195.13 353.66L195.16 354.07L195.19 354.46L195.22 354.86L195.25 355.25L195.27 355.63L195.30 356.01L195.32 356.38L195.35 356.75L195.37 357.11L195.40 357.46L195.42 357.80L195.44 358.14L195.46 358.47L195.48 358.80L195.49 359.11L195.51 359.42L195.53 359.71L195.54 360.00L195.56 360.50L195.58 360.98L195.59 361.43L195.59 361.86L195.60 362.27L195.60 362.67L195.60 363.06L195.60 363.43L195.61 363.80L195.61 364.16L195.62 364.52L195.63 364.88L195.65 365.25L195.67 365.62L195.70 366.00L195.74 366.42L195.79 366.83L195.84 367.25L195.90 367.66L195.96 368.06L196.03 368.47L196.10 368.87L196.16 369.27L196.23 369.68L196.30 370.08L196.37 370.49L196.44 370.89L196.50 371.30L196.56 371.72L196.62 372.13L196.68 372.56L196.74 372.98L196.80 373.40L196.86 373.83L196.92 374.25L196.98 374.67L197.05 375.09L197.11 375.50L197.17 375.91L197.23 376.31L197.30 376.70L197.37 377.14L197.45 377.59L197.52 378.02L197.59 378.45L197.67 378.87L197.74 379.29L197.82 379.70L197.91 380.11L198.00 380.51L198.10 380.90L198.22 381.33L198.34 381.75L198.47 382.17L198.60 382.58L198.74 382.98L198.88 383.37L199.04 383.74L199.20 384.10L199.39 384.49L199.58 384.87L199.78 385.24L199.99 385.58L200.23 385.90L200.50 386.20L200.81 386.47L201.14 386.72L201.51 386.94L201.89 387.15L202.29 387.33L202.70 387.50L203.06 387.63L203.43 387.75L203.80 387.85L204.19 387.90L204.60 387.90L205.04 387.90L205.50 387.90L206.00 387.90L206.32 387.90L206.65 387.90L207.00 387.90L207.36 387.90L207.74 387.90L208.13 387.90L208.53 387.90L208.94 387.90L209.36 387.90L209.79 387.90L210.22 387.90L210.66 387.90L211.10 387.90L211.54 387.90L211.98 387.90L212.42 387.90L212.87 387.90L213.30 387.90L213.74 387.90L214.16 387.90L214.59 387.90L215.00 387.90" fill="none" stroke="#1265b2" stroke-width="1.70" stroke-linejoin="round"/>
<path d="M178.00 387.90L178.41 387.90L178.84 387.90L179.27 387.90L179.71 387.90L180.14 387.90L180.58 387.90L181.00 387.90L181.42 387.90L181.82 387.90L182.20 387.90L182.56 387.90L182.90 387.90L183.40 387.79L183.85 387.67L184.28 387.53L184.68 387.38L185.10 387.20L185.47 387.04L185.84 386.86L186.21 386.68L186.56 386.47L186.90 386.25L187.20 386.00L187.51 385.68L187.79 385.32L188.04 384.94L188.27 384.53L188.50 384.10L188.66 383.75L188.82 383.38L188.97 382.99L189.11 382.59L189.24 382.18L189.36 381.76L189.48 381.33L189.60 380.90L189.70 380.51L189.79 380.11L189.88 379.70L189.96 379.29L190.03 378.87L190.11 378.45L190.18 378.02L190.25 377.59L190.33 377.14L190.40 376.70L190.47 376.31L190.53 375.91L190.59 375.50L190.65 375.09L190.72 374.67L190.78 374.25L190.84 373.83L190.90 373.40L190.96 372.98L191.02 372.56L191.08 372.13L191.14 371.72L191.20 371.30L191.26 370.89L191.33 370.49L191.39 370.08L191.46 369.68L191.53 369.27L191.60 368.87L191.66 368.47L191.73 368.06L191.79 367.66L191.85 367.25L191.90 366.83L191.96 366.42L192.00 366.00L192.04 365.62L192.06 365.25L192.09 364.88L192.11 364.52L192.13 364.16L192.14 363.80L192.15 363.43L192.17 363.06L192.18 362.67L192.19 362.27L192.20 361.86L192.22 361.43L192.24 360.98L192.26 360.50L192.29 360.00L192.31 359.71L192.33 359.42L192.34 359.11L192.36 358.80L192.39 358.47L192.41 358.14L192.43 357.80L192.45 357.46L192.48 357.11L192.50 356.75L192.53 356.38L192.55 356.01L192.58 355.63L192.60 355.25L192.63 354.86L192.66 354.46L192.69 354.07L192.72 353.66L192.75 353.25L192.78 352.84L192.81 352.43L192.84 352.01L192.87 351.58L192.90 351.16L192.93 350.73L192.96 350.30L192.99 349.87L193.02 349.43L193.06 349.00L193.09 348.56L193.12 348.12L193.15 347.69L193.18 347.25L193.21 346.81L193.24 346.37L193.28 345.93L193.31 345.49L193.34 345.06L193.37 344.62L193.40 344.19L193.43 343.76L193.46 343.33L193.49 342.90L193.52 342.47L193.55 342.05L193.57 341.63L193.60 341.22L193.63 340.81L193.65 340.40L193.68 340.00L193.71 339.60L193.73 339.20L193.76 338.80L193.78 338.40L193.80 338.00L193.83 337.60L193.85 337.20L193.88 336.80L193.90 336.40L193.92 336.00L193.95 335.60L193.97 335.20L193.99 334.80L194.01 334.40L194.04 334.00L194.06 333.60L194.08 333.20L194.11 332.80L194.13 332.40L194.15 332.00L194.17 331.60L194.19 331.20L194.22 330.80L194.24 330.40L194.26 330.00L194.28 329.60L194.30 329.20L194.33 328.80L194.35 328.40L194.37 328.00L194.39 327.60L194.41 327.20L194.44 326.80L194.46 326.40L194.48 326.00L194.51 325.60L194.53 325.20L194.55 324.80L194.57 324.40L194.60 324.00L194.62 323.60L194.64 323.20L194.67 322.80L194.69 322.40L194.72 322.00L194.74 321.60L194.76 321.20L194.79 320.80L194.81 320.40L194.84 320.00L194.87 319.60L194.89 319.19L194.92 318.78L194.94 318.37L194.97 317.95L195.00 317.53L195.02 317.10L195.05 316.67L195.08 316.24L195.11 315.81L195.13 315.38L195.16 314.94L195.19 314.51L195.22 314.07L195.24 313.63L195.27 313.19L195.30 312.75L195.33 312.31L195.36 311.88L195.39 311.44L195.42 311.00L195.44 310.56L195.47 310.13L195.50 309.70L195.53 309.27L195.56 308.84L195.59 308.41L195.62 307.99L195.64 307.57L195.67 307.16L195.70 306.74L195.73 306.34L195.76 305.93L195.79 305.53L195.82 305.14L195.85 304.75L195.87 304.37L195.90 303.99L195.93 303.62L195.96 303.25L195.99 302.89L196.01 302.54L196.04 302.19L196.07 301.86L196.10 301.53L196.12 301.20L196.15 300.89L196.18 300.58L196.20 300.29L196.23 300.00L196.28 299.49L196.33 299.01L196.37 298.55L196.42 298.11L196.47 297.69L196.52 297.28L196.57 296.89L196.61 296.50L196.66 296.13L196.71 295.77L196.75 295.41L196.80 295.06L196.84 294.70L196.89 294.35L196.93 294.00L196.98 293.54L197.04 293.10L197.09 292.68L197.14 292.27L197.18 291.87L197.23 291.46L197.29 291.05L197.34 290.63L197.40 290.20L197.46 289.79L197.51 289.37L197.57 288.94L197.63 288.51L197.69 288.07L197.76 287.64L197.82 287.20L197.89 286.78L197.96 286.37L198.03 285.98L198.10 285.60L198.19 285.16L198.28 284.73L198.37 284.31L198.46 283.91L198.57 283.53L198.68 283.16L198.80 282.80L198.95 282.40L199.12 282.02L199.30 281.66L199.49 281.32L199.70 281.00L199.96 280.66L200.25 280.35L200.56 280.06L200.90 279.80L201.30 279.55L201.73 279.34L202.19 279.16L202.70 279.00L203.06 278.92L203.45 278.86L203.86 278.81L204.28 278.77L204.71 278.74L205.15 278.71L205.58 278.68L206.00 278.64L212.00 278.17L216.10 277.80L229.80 275.00L247.20 271.60L261.10 268.40L273.80 265.70L288.00 264.10L303.00 262.80L320.00 261.90L333.20 261.30L347.80 261.10L355.00 261.45L362.20 262.15L379.60 264.50L397.00 266.60L410.60 268.00L411.06 268.09L411.52 268.17L411.97 268.27L412.40 268.40L412.78 268.55L413.13 268.73L413.47 268.94L413.80 269.20L414.06 269.47L414.31 269.77L414.55 270.10L414.78 270.47L415.00 270.87L415.20 271.30L415.33 271.62L415.46 271.96L415.57 272.31L415.68 272.68L415.78 273.07L415.87 273.47L415.96 273.88L416.05 274.31L416.14 274.76L416.22 275.23L416.31 275.70L416.40 276.20L416.46 276.52L416.51 276.85L416.56 277.19L416.62 277.55L416.67 277.91L416.72 278.28L416.77 278.66L416.82 279.04L416.87 279.44L416.92 279.84L416.97 280.25L417.02 280.66L417.06 281.08L417.11 281.50L417.16 281.92L417.20 282.35L417.25 282.79L417.29 283.22L417.34 283.66L417.38 284.09L417.42 284.53L417.47 284.97L417.51 285.41L417.55 285.84L417.59 286.28L417.63 286.71L417.68 287.14L417.72 287.56L417.76 287.98L417.80 288.40L417.84 288.80L417.88 289.20L417.92 289.59L417.96 289.98L417.99 290.37L418.03 290.76L418.07 291.14L418.11 291.53L418.14 291.91L418.18 292.30L418.22 292.68L418.25 293.06L418.29 293.45L418.32 293.84L418.36 294.23L418.39 294.62L418.42 295.01L418.46 295.41L418.49 295.81L418.52 296.21L418.56 296.62L418.59 297.03L418.62 297.45L418.65 297.87L418.68 298.30L418.72 298.74L418.75 299.18L418.78 299.63L418.81 300.08L418.84 300.55L418.87 301.02L418.90 301.50L418.92 301.83L418.94 302.17L418.96 302.51L418.98 302.86L419.00 303.21L419.02 303.56L419.04 303.92L419.05 304.29L419.07 304.66L419.09 305.03L419.11 305.40L419.12 305.78L419.14 306.16L419.16 306.55L419.18 306.94L419.19 307.33L419.21 307.72L419.22 308.12L419.24 308.52L419.26 308.92L419.27 309.33L419.29 309.74L419.30 310.15L419.32 310.56L419.33 310.98L419.35 311.39L419.36 311.81L419.38 312.23L419.39 312.65L419.41 313.07L419.42 313.50L419.44 313.92L419.45 314.35L419.47 314.78L419.48 315.20L419.49 315.63L419.51 316.06L419.52 316.49L419.54 316.92L419.55 317.35L419.57 317.78L419.58 318.21L419.60 318.64L419.61 319.07L419.62 319.50L419.64 319.93L419.65 320.36L419.67 320.79L419.68 321.22L419.70 321.64L419.71 322.07L419.73 322.49L419.75 322.91L419.76 323.33L419.78 323.75L419.79 324.17L419.81 324.58L419.83 325.00L419.84 325.41L419.86 325.82L419.88 326.23L419.89 326.63L419.91 327.03L419.93 327.43L419.95 327.83L419.96 328.22L419.98 328.61L420.00 329.00L420.02 329.42L420.04 329.84L420.06 330.26L420.08 330.68L420.10 331.09L420.12 331.51L420.14 331.93L420.16 332.34L420.18 332.76L420.21 333.17L420.23 333.58L420.25 334.00L420.27 334.41L420.29 334.82L420.31 335.23L420.33 335.64L420.35 336.05L420.37 336.46L420.39 336.87L420.42 337.27L420.44 337.68L420.46 338.09L420.48 338.49L420.50 338.90L420.53 339.30L420.55 339.71L420.57 340.11L420.59 340.51L420.61 340.91L420.64 341.31L420.66 341.71L420.68 342.11L420.70 342.51L420.73 342.91L420.75 343.31L420.77 343.71L420.80 344.10L420.82 344.50L420.85 344.90L420.87 345.29L420.89 345.68L420.92 346.08L420.94 346.47L420.97 346.86L420.99 347.25L421.02 347.64L421.04 348.03L421.07 348.42L421.09 348.81L421.12 349.20L421.14 349.59L421.17 349.98L421.19 350.36L421.22 350.75L421.25 351.13L421.27 351.52L421.30 351.90L421.33 352.33L421.36 352.75L421.39 353.18L421.42 353.60L421.45 354.03L421.48 354.46L421.51 354.88L421.54 355.31L421.57 355.74L421.60 356.16L421.63 356.59L421.66 357.02L421.69 357.44L421.72 357.87L421.75 358.29L421.78 358.72L421.81 359.14L421.84 359.56L421.87 359.98L421.91 360.40L421.94 360.82L421.97 361.24L422.00 361.65L422.03 362.07L422.07 362.48L422.10 362.89L422.13 363.30L422.17 363.71L422.20 364.11L422.24 364.52L422.27 364.92L422.31 365.32L422.34 365.72L422.38 366.11L422.42 366.51L422.45 366.90L422.49 367.28L422.53 367.67L422.57 368.05L422.61 368.43L422.65 368.81L422.69 369.18L422.73 369.55L422.77 369.92L422.81 370.28L422.86 370.64L422.90 371.00L422.95 371.45L423.01 371.90L423.06 372.35L423.11 372.80L423.16 373.25L423.21 373.69L423.26 374.14L423.31 374.58L423.36 375.02L423.41 375.45L423.46 375.88L423.51 376.31L423.56 376.73L423.61 377.15L423.67 377.56L423.73 377.97L423.79 378.37L423.85 378.77L423.92 379.16L423.99 379.54L424.06 379.91L424.14 380.28L424.22 380.64L424.30 380.99L424.39 381.33L424.49 381.66L424.59 381.99L424.69 382.30L424.80 382.60L424.97 383.04L425.15 383.46L425.34 383.87L425.53 384.26L425.74 384.65L425.95 385.01L426.16 385.36L426.39 385.68L426.62 385.99L426.85 386.28L427.10 386.54L427.34 386.78L427.60 387.00L427.97 387.26L428.35 387.46L428.74 387.61L429.15 387.73L429.58 387.82L430.03 387.90L430.50 387.90L430.86 387.90L431.24 387.90L431.64 387.90L432.06 387.90L432.48 387.90L432.91 387.90L433.36 387.90L433.80 387.90L434.25 387.90L434.69 387.90L435.14 387.90L435.57 387.90L436.00 387.90" fill="none" stroke="#0c8e0c" stroke-width="1.70" stroke-linejoin="round"/>
<path d="M426.00 387.90L426.42 387.90L426.84 387.90L427.27 387.90L427.70 387.90L428.13 387.90L428.55 387.90L428.98 387.90L429.40 387.90L429.82 387.90L430.23 387.90L430.63 387.90L431.02 387.90L431.40 387.90L431.82 387.90L432.23 387.82L432.64 387.73L433.05 387.62L433.44 387.50L433.82 387.37L434.19 387.22L434.54 387.04L434.88 386.83L435.20 386.60L435.49 386.34L435.77 386.06L436.03 385.76L436.28 385.44L436.51 385.10L436.73 384.74L436.94 384.35L437.14 383.95L437.34 383.52L437.52 383.07L437.70 382.60L437.81 382.30L437.91 381.99L438.00 381.66L438.09 381.33L438.17 380.98L438.25 380.63L438.32 380.26L438.39 379.89L438.46 379.50L438.52 379.11L438.58 378.72L438.64 378.31L438.69 377.90L438.74 377.48L438.79 377.05L438.84 376.62L438.89 376.19L438.93 375.75L438.98 375.30L439.02 374.86L439.07 374.41L439.11 373.95L439.16 373.50L439.20 373.04L439.25 372.58L439.30 372.12L439.35 371.66L439.40 371.20L439.44 370.84L439.48 370.49L439.52 370.12L439.56 369.76L439.60 369.39L439.64 369.01L439.68 368.64L439.72 368.26L439.75 367.88L439.79 367.49L439.83 367.11L439.87 366.72L439.90 366.32L439.94 365.93L439.97 365.53L440.01 365.13L440.04 364.73L440.08 364.33L440.11 363.92L440.15 363.51L440.18 363.10L440.22 362.69L440.25 362.28L440.28 361.86L440.32 361.45L440.35 361.03L440.38 360.61L440.41 360.19L440.45 359.77L440.48 359.34L440.51 358.92L440.54 358.50L440.57 358.07L440.60 357.65L440.64 357.22L440.67 356.79L440.70 356.37L440.73 355.94L440.76 355.51L440.79 355.09L440.82 354.66L440.85 354.23L440.88 353.80L440.91 353.38L440.94 352.95L440.97 352.53L441.00 352.10L441.03 351.72L441.05 351.33L441.08 350.95L441.11 350.56L441.13 350.17L441.16 349.78L441.18 349.39L441.21 349.00L441.23 348.61L441.26 348.22L441.28 347.83L441.31 347.43L441.33 347.04L441.35 346.64L441.38 346.25L441.40 345.85L441.42 345.45L441.45 345.05L441.47 344.65L441.49 344.25L441.52 343.85L441.54 343.45L441.56 343.05L441.58 342.65L441.61 342.25L441.63 341.84L441.65 341.44L441.67 341.04L441.69 340.63L441.72 340.23L441.74 339.82L441.76 339.42L441.78 339.01L441.80 338.60L441.82 338.20L441.84 337.79L441.87 337.38L441.89 336.98L441.91 336.57L441.93 336.16L441.95 335.75L441.97 335.34L441.99 334.93L442.02 334.52L442.04 334.11L442.06 333.71L442.08 333.30L442.10 332.89L442.12 332.48L442.15 332.07L442.17 331.66L442.19 331.25L442.21 330.84L442.23 330.43L442.26 330.02L442.28 329.61L442.30 329.20L442.32 328.80L442.34 328.40L442.37 328.00L442.39 327.59L442.41 327.19L442.43 326.78L442.45 326.37L442.47 325.96L442.49 325.55L442.52 325.13L442.54 324.72L442.56 324.30L442.58 323.88L442.60 323.46L442.62 323.04L442.64 322.62L442.67 322.20L442.69 321.78L442.71 321.36L442.73 320.93L442.75 320.51L442.77 320.09L442.79 319.67L442.81 319.24L442.84 318.82L442.86 318.40L442.88 317.97L442.90 317.55L442.92 317.13L442.94 316.71L442.96 316.29L442.98 315.87L443.01 315.45L443.03 315.03L443.05 314.62L443.07 314.20L443.09 313.79L443.11 313.38L443.13 312.96L443.15 312.55L443.18 312.15L443.20 311.74L443.22 311.34L443.24 310.94L443.26 310.54L443.28 310.14L443.30 309.74L443.32 309.35L443.34 308.96L443.37 308.57L443.39 308.18L443.41 307.80L443.43 307.42L443.45 307.05L443.47 306.67L443.49 306.30L443.51 305.93L443.54 305.57L443.56 305.21L443.58 304.85L443.60 304.50L443.63 304.05L443.65 303.60L443.68 303.15L443.71 302.71L443.73 302.27L443.76 301.83L443.79 301.40L443.81 300.97L443.84 300.55L443.86 300.13L443.89 299.71L443.91 299.29L443.94 298.88L443.96 298.47L443.99 298.06L444.01 297.66L444.04 297.26L444.06 296.86L444.09 296.46L444.12 296.07L444.14 295.67L444.17 295.28L444.20 294.90L444.22 294.51L444.25 294.13L444.28 293.74L444.31 293.36L444.34 292.98L444.37 292.61L444.40 292.23L444.43 291.86L444.46 291.48L444.50 291.11L444.53 290.74L444.56 290.37L444.60 290.00L444.64 289.57L444.68 289.13L444.73 288.69L444.77 288.25L444.81 287.82L444.85 287.38L444.89 286.94L444.93 286.51L444.98 286.08L445.02 285.65L445.07 285.22L445.11 284.80L445.16 284.38L445.20 283.97L445.25 283.56L445.30 283.16L445.35 282.77L445.41 282.38L445.46 282.00L445.52 281.63L445.58 281.27L445.64 280.91L445.70 280.57L445.76 280.23L445.83 279.91L445.90 279.60L446.02 279.10L446.13 278.63L446.25 278.17L446.37 277.74L446.50 277.32L446.64 276.93L446.78 276.55L446.94 276.19L447.11 275.84L447.30 275.50L447.54 275.11L447.79 274.74L448.06 274.39L448.35 274.07L448.65 273.77L448.96 273.51L449.30 273.30L449.69 273.12L450.10 272.99L450.53 272.91L450.99 272.86L451.48 272.82L452.00 272.80L452.33 272.79L452.68 272.80L453.04 272.81L453.42 272.83L453.81 272.87L454.21 272.91L454.61 272.95L455.03 273.00L455.45 273.05L455.88 273.11L456.30 273.16L456.73 273.21L457.16 273.26L457.58 273.31L458.00 273.35L458.40 273.39L458.80 273.42L459.20 273.46L459.61 273.50L460.02 273.54L460.43 273.58L460.84 273.61L461.26 273.65L461.67 273.69L462.09 273.73L462.51 273.77L462.92 273.81L463.34 273.85L463.76 273.88L464.17 273.92L464.59 273.96L465.00 274.00L484.00 275.80L500.00 277.28L532.00 279.50L550.00 280.81L566.50 281.75L582.00 283.13L610.00 286.35L640.00 289.57L644.60 290.26L649.30 291.05L649.71 291.14L650.12 291.22L650.54 291.31L650.96 291.39L651.37 291.48L651.77 291.57L652.14 291.68L652.50 291.80L652.93 291.97L653.33 292.15L653.71 292.34L654.06 292.56L654.40 292.80L654.72 293.07L655.02 293.37L655.29 293.69L655.55 294.03L655.80 294.40L655.99 294.73L656.16 295.07L656.33 295.44L656.48 295.82L656.62 296.21L656.76 296.60L656.90 297.00L657.02 297.38L657.14 297.76L657.25 298.16L657.36 298.56L657.46 298.96L657.56 299.37L657.65 299.78L657.75 300.20L657.84 300.60L657.93 300.99L658.02 301.38L658.10 301.78L658.19 302.19L658.27 302.61L658.35 303.04L658.43 303.51L658.50 304.00L658.55 304.33L658.59 304.68L658.63 305.04L658.67 305.41L658.71 305.80L658.75 306.20L658.79 306.60L658.83 307.01L658.86 307.43L658.90 307.86L658.93 308.28L658.97 308.72L659.00 309.15L659.04 309.58L659.07 310.01L659.11 310.44L659.15 310.86L659.18 311.28L659.22 311.70L659.26 312.10L659.30 312.50L659.35 312.93L659.39 313.34L659.44 313.75L659.49 314.16L659.53 314.56L659.58 314.96L659.63 315.36L659.68 315.75L659.73 316.15L659.78 316.55L659.83 316.96L659.88 317.36L659.92 317.78L659.97 318.20L660.02 318.64L660.06 319.08L660.11 319.53L660.15 320.00L660.18 320.35L660.21 320.71L660.24 321.07L660.27 321.43L660.30 321.80L660.33 322.17L660.36 322.54L660.38 322.92L660.41 323.30L660.44 323.68L660.46 324.07L660.49 324.46L660.52 324.86L660.54 325.25L660.57 325.66L660.59 326.06L660.62 326.47L660.64 326.88L660.67 327.30L660.70 327.71L660.72 328.14L660.75 328.56L660.77 328.99L660.80 329.42L660.82 329.86L660.85 330.30L660.87 330.74L660.90 331.18L660.92 331.63L660.95 332.09L660.97 332.54L661.00 333.00L661.02 333.35L661.04 333.71L661.06 334.07L661.08 334.44L661.10 334.81L661.12 335.18L661.14 335.56L661.16 335.94L661.18 336.33L661.20 336.72L661.21 337.11L661.23 337.50L661.25 337.90L661.27 338.30L661.29 338.71L661.31 339.12L661.33 339.52L661.35 339.93L661.36 340.35L661.38 340.76L661.40 341.18L661.42 341.60L661.44 342.02L661.46 342.44L661.48 342.86L661.50 343.28L661.52 343.70L661.53 344.13L661.55 344.55L661.57 344.98L661.59 345.40L661.61 345.83L661.63 346.25L661.65 346.67L661.67 347.10L661.69 347.52L661.71 347.94L661.73 348.36L661.75 348.78L661.77 349.20L661.79 349.62L661.81 350.03L661.83 350.44L661.85 350.86L661.88 351.26L661.90 351.67L661.92 352.08L661.94 352.48L661.96 352.88L661.98 353.27L662.01 353.66L662.03 354.05L662.05 354.44L662.08 354.82L662.10 355.20L662.13 355.63L662.15 356.06L662.18 356.50L662.21 356.93L662.24 357.36L662.26 357.79L662.29 358.22L662.32 358.65L662.35 359.08L662.37 359.50L662.40 359.93L662.43 360.36L662.46 360.78L662.49 361.21L662.52 361.63L662.55 362.05L662.57 362.47L662.60 362.89L662.63 363.30L662.66 363.72L662.69 364.13L662.72 364.54L662.75 364.95L662.78 365.36L662.82 365.76L662.85 366.16L662.88 366.56L662.91 366.96L662.94 367.35L662.98 367.75L663.01 368.13L663.04 368.52L663.08 368.90L663.11 369.28L663.15 369.66L663.18 370.03L663.22 370.40L663.25 370.77L663.29 371.13L663.32 371.49L663.36 371.85L663.40 372.20L663.45 372.67L663.50 373.13L663.55 373.60L663.59 374.06L663.64 374.51L663.69 374.96L663.73 375.41L663.78 375.86L663.83 376.29L663.88 376.73L663.93 377.16L663.98 377.58L664.03 378.00L664.09 378.41L664.14 378.81L664.20 379.21L664.26 379.60L664.33 379.98L664.40 380.36L664.47 380.72L664.55 381.08L664.63 381.43L664.71 381.77L664.80 382.10L664.94 382.59L665.08 383.06L665.22 383.52L665.36 383.97L665.51 384.40L665.67 384.80L665.85 385.19L666.03 385.56L666.24 385.90L666.46 386.21L666.70 386.50L666.99 386.79L667.28 387.03L667.59 387.24L667.92 387.43L668.28 387.59L668.67 387.73L669.11 387.87L669.60 387.90L669.86 387.90L670.13 387.90L670.42 387.90L670.73 387.90L671.05 387.90L671.38 387.90L671.73 387.90L672.09 387.90L672.46 387.90L672.84 387.90L673.24 387.90L673.64 387.90L674.05 387.90L674.47 387.90L674.89 387.90L675.32 387.90L675.76 387.90L676.20 387.90L676.64 387.90L677.09 387.90L677.53 387.90L677.98 387.90L678.43 387.90L678.89 387.90L679.33 387.90L679.78 387.90L680.23 387.90L680.67 387.90L681.10 387.90L681.54 387.90L681.96 387.90L682.38 387.90L682.80 387.90L683.20 387.90" fill="none" stroke="#d00610" stroke-width="1.70" stroke-linejoin="round"/>
</g>
<line x1="51.20" y1="388.30" x2="55.50" y2="388.30" stroke="#000" stroke-width="1.00"/>
<text x="28.44" y="392.70" font-size="12.20" fill="#000" stroke="#000" stroke-width="0.22" textLength="17.66" lengthAdjust="spacingAndGlyphs" >0.0</text>
<line x1="51.20" y1="351.25" x2="55.50" y2="351.25" stroke="#000" stroke-width="1.00"/>
<text x="28.44" y="355.65" font-size="12.20" fill="#000" stroke="#000" stroke-width="0.22" textLength="17.66" lengthAdjust="spacingAndGlyphs" >0.2</text>
<line x1="51.20" y1="313.40" x2="55.50" y2="313.40" stroke="#000" stroke-width="1.00"/>
<text x="28.44" y="317.80" font-size="12.20" fill="#000" stroke="#000" stroke-width="0.22" textLength="17.66" lengthAdjust="spacingAndGlyphs" >0.4</text>
<line x1="51.20" y1="276.45" x2="55.50" y2="276.45" stroke="#000" stroke-width="1.00"/>
<text x="28.44" y="280.85" font-size="12.20" fill="#000" stroke="#000" stroke-width="0.22" textLength="17.66" lengthAdjust="spacingAndGlyphs" >0.6</text>
<line x1="55.50" y1="387.90" x2="55.50" y2="392.50" stroke="#000" stroke-width="1.00"/>
<text x="40.50" y="405.50" font-size="12.20" fill="#000" stroke="#000" stroke-width="0.22" textLength="29.40" lengthAdjust="spacingAndGlyphs" >3000</text>
<line x1="128.50" y1="387.90" x2="128.50" y2="392.50" stroke="#000" stroke-width="1.00"/>
<text x="113.50" y="405.50" font-size="12.20" fill="#000" stroke="#000" stroke-width="0.22" textLength="29.40" lengthAdjust="spacingAndGlyphs" >3500</text>
<line x1="201.49" y1="387.90" x2="201.49" y2="392.50" stroke="#000" stroke-width="1.00"/>
<text x="186.49" y="405.50" font-size="12.20" fill="#000" stroke="#000" stroke-width="0.22" textLength="29.40" lengthAdjust="spacingAndGlyphs" >4000</text>
<line x1="274.49" y1="387.90" x2="274.49" y2="392.50" stroke="#000" stroke-width="1.00"/>
<text x="259.49" y="405.50" font-size="12.20" fill="#000" stroke="#000" stroke-width="0.22" textLength="29.40" lengthAdjust="spacingAndGlyphs" >4500</text>
<line x1="347.49" y1="387.90" x2="347.49" y2="392.50" stroke="#000" stroke-width="1.00"/>
<text x="332.49" y="405.50" font-size="12.20" fill="#000" stroke="#000" stroke-width="0.22" textLength="29.40" lengthAdjust="spacingAndGlyphs" >5000</text>
<line x1="420.48" y1="387.90" x2="420.48" y2="392.50" stroke="#000" stroke-width="1.00"/>
<text x="405.48" y="405.50" font-size="12.20" fill="#000" stroke="#000" stroke-width="0.22" textLength="29.40" lengthAdjust="spacingAndGlyphs" >5500</text>
<line x1="493.48" y1="387.90" x2="493.48" y2="392.50" stroke="#000" stroke-width="1.00"/>
<text x="478.48" y="405.50" font-size="12.20" fill="#000" stroke="#000" stroke-width="0.22" textLength="29.40" lengthAdjust="spacingAndGlyphs" >6000</text>
<line x1="566.47" y1="387.90" x2="566.47" y2="392.50" stroke="#000" stroke-width="1.00"/>
<text x="551.47" y="405.50" font-size="12.20" fill="#000" stroke="#000" stroke-width="0.22" textLength="29.40" lengthAdjust="spacingAndGlyphs" >6500</text>
<line x1="639.47" y1="387.90" x2="639.47" y2="392.50" stroke="#000" stroke-width="1.00"/>
<text x="624.47" y="405.50" font-size="12.20" fill="#000" stroke="#000" stroke-width="0.22" textLength="29.40" lengthAdjust="spacingAndGlyphs" >7000</text>
<line x1="54.90" y1="241.30" x2="684.00" y2="241.30" stroke="#000" stroke-width="1.70"/>
<line x1="54.90" y1="387.90" x2="684.00" y2="387.90" stroke="#000" stroke-width="1.85"/>
<text x="322.95" y="422.20" font-size="12.20" fill="#000" stroke="#000" stroke-width="0.22" textLength="91.70" lengthAdjust="spacingAndGlyphs" >Wavelength (A)</text>
<text x="135.5" y="359.5" font-size="20.6" text-anchor="middle" fill="#1265b2">u</text>
<text x="317.2" y="350.7" font-size="20.6" text-anchor="middle" fill="#0c8e0c">g</text>
<text x="571.3" y="350.8" font-size="20.6" text-anchor="middle" fill="#d00610">r</text>
</g>
</svg></body></html>
